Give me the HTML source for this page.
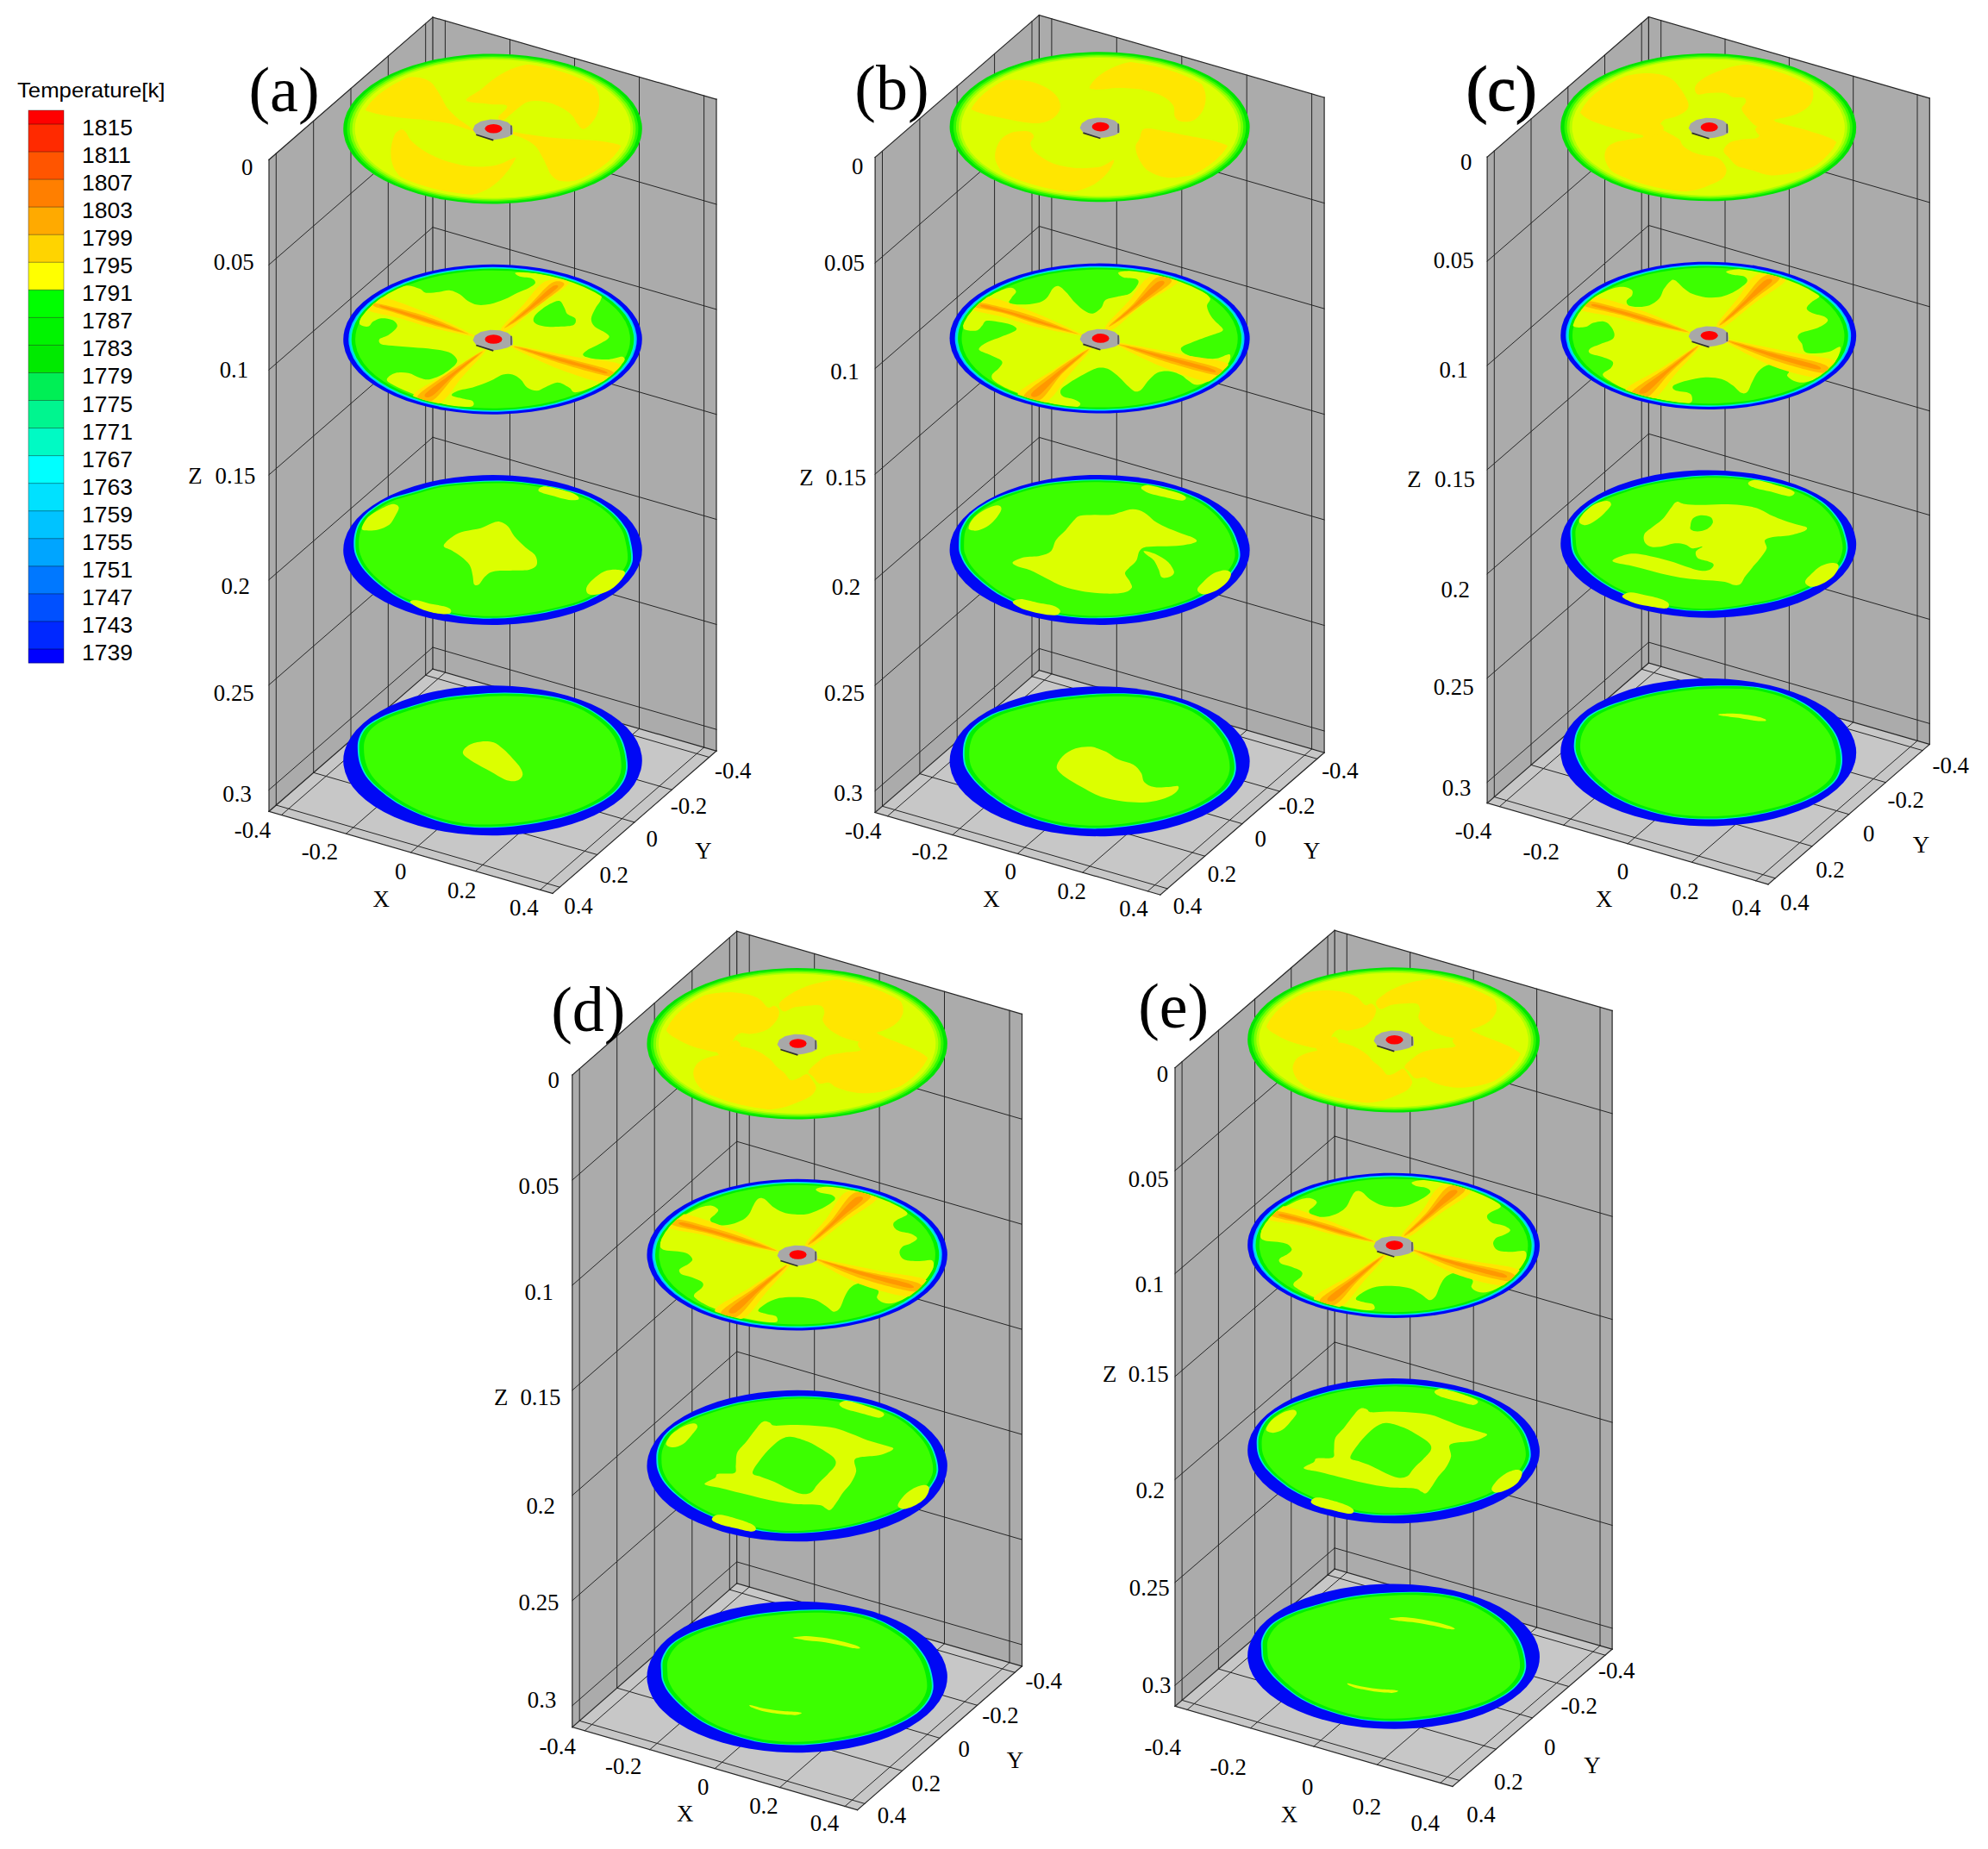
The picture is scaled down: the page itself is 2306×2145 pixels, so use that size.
<!DOCTYPE html>
<html><head><meta charset="utf-8"><title>Temperature contours</title>
<style>html,body{margin:0;padding:0;background:#fff}svg{display:block}</style>
</head><body>
<svg width="2306" height="2145" viewBox="0 0 2306 2145">
<defs><clipPath id="clip2"><circle r="0.371"/></clipPath><clipPath id="clip1"><circle r="0.356"/></clipPath></defs>
<rect width="2306" height="2145" fill="#fff"/>
<rect x="33.0" y="128.00" width="41.0" height="16.33" fill="#ff0000"/>
<rect x="33.0" y="144.03" width="41.0" height="32.35" fill="#ff2a00"/>
<rect x="33.0" y="176.07" width="41.0" height="32.35" fill="#ff5500"/>
<rect x="33.0" y="208.12" width="41.0" height="32.35" fill="#ff7f00"/>
<rect x="33.0" y="240.17" width="41.0" height="32.35" fill="#ffaa00"/>
<rect x="33.0" y="272.23" width="41.0" height="32.35" fill="#ffd400"/>
<rect x="33.0" y="304.27" width="41.0" height="32.35" fill="#ffff00"/>
<rect x="33.0" y="336.32" width="41.0" height="32.35" fill="#00ff00"/>
<rect x="33.0" y="368.38" width="41.0" height="32.35" fill="#00f400"/>
<rect x="33.0" y="400.42" width="41.0" height="32.35" fill="#00ea00"/>
<rect x="33.0" y="432.47" width="41.0" height="32.35" fill="#00ef55"/>
<rect x="33.0" y="464.52" width="41.0" height="32.35" fill="#00f58f"/>
<rect x="33.0" y="496.57" width="41.0" height="32.35" fill="#00fac4"/>
<rect x="33.0" y="528.62" width="41.0" height="32.35" fill="#00ffff"/>
<rect x="33.0" y="560.67" width="41.0" height="32.35" fill="#00e1ff"/>
<rect x="33.0" y="592.72" width="41.0" height="32.35" fill="#00c3ff"/>
<rect x="33.0" y="624.77" width="41.0" height="32.35" fill="#00a5ff"/>
<rect x="33.0" y="656.82" width="41.0" height="32.35" fill="#0078ff"/>
<rect x="33.0" y="688.88" width="41.0" height="32.35" fill="#0050ff"/>
<rect x="33.0" y="720.92" width="41.0" height="32.35" fill="#0028ff"/>
<rect x="33.0" y="752.97" width="41.0" height="16.33" fill="#0000ff"/>
<line x1="33.0" y1="144.03" x2="74.0" y2="144.03" stroke="#000" stroke-opacity="0.5" stroke-width="0.8"/>
<line x1="33.0" y1="176.07" x2="74.0" y2="176.07" stroke="#000" stroke-opacity="0.5" stroke-width="0.8"/>
<line x1="33.0" y1="208.12" x2="74.0" y2="208.12" stroke="#000" stroke-opacity="0.5" stroke-width="0.8"/>
<line x1="33.0" y1="240.17" x2="74.0" y2="240.17" stroke="#000" stroke-opacity="0.5" stroke-width="0.8"/>
<line x1="33.0" y1="272.23" x2="74.0" y2="272.23" stroke="#000" stroke-opacity="0.5" stroke-width="0.8"/>
<line x1="33.0" y1="304.27" x2="74.0" y2="304.27" stroke="#000" stroke-opacity="0.5" stroke-width="0.8"/>
<line x1="33.0" y1="336.32" x2="74.0" y2="336.32" stroke="#000" stroke-opacity="0.5" stroke-width="0.8"/>
<line x1="33.0" y1="368.38" x2="74.0" y2="368.38" stroke="#000" stroke-opacity="0.5" stroke-width="0.8"/>
<line x1="33.0" y1="400.42" x2="74.0" y2="400.42" stroke="#000" stroke-opacity="0.5" stroke-width="0.8"/>
<line x1="33.0" y1="432.47" x2="74.0" y2="432.47" stroke="#000" stroke-opacity="0.5" stroke-width="0.8"/>
<line x1="33.0" y1="464.52" x2="74.0" y2="464.52" stroke="#000" stroke-opacity="0.5" stroke-width="0.8"/>
<line x1="33.0" y1="496.57" x2="74.0" y2="496.57" stroke="#000" stroke-opacity="0.5" stroke-width="0.8"/>
<line x1="33.0" y1="528.62" x2="74.0" y2="528.62" stroke="#000" stroke-opacity="0.5" stroke-width="0.8"/>
<line x1="33.0" y1="560.67" x2="74.0" y2="560.67" stroke="#000" stroke-opacity="0.5" stroke-width="0.8"/>
<line x1="33.0" y1="592.72" x2="74.0" y2="592.72" stroke="#000" stroke-opacity="0.5" stroke-width="0.8"/>
<line x1="33.0" y1="624.77" x2="74.0" y2="624.77" stroke="#000" stroke-opacity="0.5" stroke-width="0.8"/>
<line x1="33.0" y1="656.82" x2="74.0" y2="656.82" stroke="#000" stroke-opacity="0.5" stroke-width="0.8"/>
<line x1="33.0" y1="688.88" x2="74.0" y2="688.88" stroke="#000" stroke-opacity="0.5" stroke-width="0.8"/>
<line x1="33.0" y1="720.92" x2="74.0" y2="720.92" stroke="#000" stroke-opacity="0.5" stroke-width="0.8"/>
<line x1="33.0" y1="752.97" x2="74.0" y2="752.97" stroke="#000" stroke-opacity="0.5" stroke-width="0.8"/>
<rect x="33.0" y="128.0" width="41.0" height="641.0" fill="none" stroke="#000" stroke-opacity="0.45" stroke-width="0.8"/>
<text x="95.0" y="157.0" font-size="26.5" text-anchor="start" font-family="'Liberation Sans', sans-serif" >1815</text>
<text x="95.0" y="189.1" font-size="26.5" text-anchor="start" font-family="'Liberation Sans', sans-serif" >1811</text>
<text x="95.0" y="221.1" font-size="26.5" text-anchor="start" font-family="'Liberation Sans', sans-serif" >1807</text>
<text x="95.0" y="253.1" font-size="26.5" text-anchor="start" font-family="'Liberation Sans', sans-serif" >1803</text>
<text x="95.0" y="285.2" font-size="26.5" text-anchor="start" font-family="'Liberation Sans', sans-serif" >1799</text>
<text x="95.0" y="317.2" font-size="26.5" text-anchor="start" font-family="'Liberation Sans', sans-serif" >1795</text>
<text x="95.0" y="349.3" font-size="26.5" text-anchor="start" font-family="'Liberation Sans', sans-serif" >1791</text>
<text x="95.0" y="381.3" font-size="26.5" text-anchor="start" font-family="'Liberation Sans', sans-serif" >1787</text>
<text x="95.0" y="413.4" font-size="26.5" text-anchor="start" font-family="'Liberation Sans', sans-serif" >1783</text>
<text x="95.0" y="445.4" font-size="26.5" text-anchor="start" font-family="'Liberation Sans', sans-serif" >1779</text>
<text x="95.0" y="477.5" font-size="26.5" text-anchor="start" font-family="'Liberation Sans', sans-serif" >1775</text>
<text x="95.0" y="509.5" font-size="26.5" text-anchor="start" font-family="'Liberation Sans', sans-serif" >1771</text>
<text x="95.0" y="541.6" font-size="26.5" text-anchor="start" font-family="'Liberation Sans', sans-serif" >1767</text>
<text x="95.0" y="573.6" font-size="26.5" text-anchor="start" font-family="'Liberation Sans', sans-serif" >1763</text>
<text x="95.0" y="605.7" font-size="26.5" text-anchor="start" font-family="'Liberation Sans', sans-serif" >1759</text>
<text x="95.0" y="637.8" font-size="26.5" text-anchor="start" font-family="'Liberation Sans', sans-serif" >1755</text>
<text x="95.0" y="669.8" font-size="26.5" text-anchor="start" font-family="'Liberation Sans', sans-serif" >1751</text>
<text x="95.0" y="701.8" font-size="26.5" text-anchor="start" font-family="'Liberation Sans', sans-serif" >1747</text>
<text x="95.0" y="733.9" font-size="26.5" text-anchor="start" font-family="'Liberation Sans', sans-serif" >1743</text>
<text x="95.0" y="765.9" font-size="26.5" text-anchor="start" font-family="'Liberation Sans', sans-serif" >1739</text>
<text x="20.0" y="113.4" font-size="23.6" text-anchor="start" font-family="'Liberation Sans', sans-serif" textLength="171.5" lengthAdjust="spacingAndGlyphs">Temperature[k]</text>
<!-- panel a -->
<polygon points="312.0,185.3 502.0,20.0 502.0,776.0 312.0,941.3" fill="#ababab"/>
<polygon points="502.0,20.0 831.0,115.2 831.0,871.2 502.0,776.0" fill="#ababab"/>
<polygon points="312.0,941.3 502.0,776.0 831.0,871.2 641.0,1036.5" fill="#c7c7c7"/>
<g stroke-linecap="square"><line x1="312.0" y1="185.3" x2="502.0" y2="20.0" stroke="#262626" stroke-width="1.2"/><line x1="502.0" y1="20.0" x2="831.0" y2="115.2" stroke="#262626" stroke-width="1.2"/><line x1="312.0" y1="185.3" x2="312.0" y2="941.3" stroke="#262626" stroke-width="1.2"/><line x1="502.0" y1="20.0" x2="502.0" y2="776.0" stroke="#262626" stroke-width="1.2"/><line x1="831.0" y1="115.2" x2="831.0" y2="871.2" stroke="#262626" stroke-width="1.2"/><line x1="312.0" y1="941.3" x2="502.0" y2="776.0" stroke="#262626" stroke-width="1.2"/><line x1="502.0" y1="776.0" x2="831.0" y2="871.2" stroke="#262626" stroke-width="1.2"/><line x1="312.0" y1="941.3" x2="641.0" y2="1036.5" stroke="#262626" stroke-width="1.2"/><line x1="641.0" y1="1036.5" x2="831.0" y2="871.2" stroke="#262626" stroke-width="1.2"/><line x1="493.7" y1="27.3" x2="493.7" y2="783.3" stroke="#262626" stroke-width="1.0"/><line x1="516.4" y1="24.2" x2="516.4" y2="780.2" stroke="#262626" stroke-width="1.0"/><line x1="516.4" y1="780.2" x2="326.4" y2="945.5" stroke="#262626" stroke-width="1.0"/><line x1="493.7" y1="783.3" x2="822.7" y2="878.5" stroke="#262626" stroke-width="1.0"/><line x1="450.3" y1="65.0" x2="450.3" y2="821.0" stroke="#262626" stroke-width="1.0"/><line x1="591.5" y1="45.9" x2="591.5" y2="801.9" stroke="#262626" stroke-width="1.0"/><line x1="591.5" y1="801.9" x2="401.5" y2="967.2" stroke="#262626" stroke-width="1.0"/><line x1="450.3" y1="821.0" x2="779.3" y2="916.2" stroke="#262626" stroke-width="1.0"/><line x1="407.0" y1="102.7" x2="407.0" y2="858.6" stroke="#262626" stroke-width="1.0"/><line x1="666.5" y1="67.6" x2="666.5" y2="823.6" stroke="#262626" stroke-width="1.0"/><line x1="666.5" y1="823.6" x2="476.5" y2="988.9" stroke="#262626" stroke-width="1.0"/><line x1="407.0" y1="858.6" x2="736.0" y2="953.9" stroke="#262626" stroke-width="1.0"/><line x1="363.7" y1="140.3" x2="363.7" y2="896.3" stroke="#262626" stroke-width="1.0"/><line x1="741.5" y1="89.3" x2="741.5" y2="845.3" stroke="#262626" stroke-width="1.0"/><line x1="741.5" y1="845.3" x2="551.5" y2="1010.6" stroke="#262626" stroke-width="1.0"/><line x1="363.7" y1="896.3" x2="692.7" y2="991.5" stroke="#262626" stroke-width="1.0"/><line x1="320.3" y1="178.0" x2="320.3" y2="934.0" stroke="#262626" stroke-width="1.0"/><line x1="816.6" y1="111.0" x2="816.6" y2="867.0" stroke="#262626" stroke-width="1.0"/><line x1="816.6" y1="867.0" x2="626.6" y2="1032.3" stroke="#262626" stroke-width="1.0"/><line x1="320.3" y1="934.0" x2="649.3" y2="1029.2" stroke="#262626" stroke-width="1.0"/><line x1="312.0" y1="307.1" x2="502.0" y2="141.8" stroke="#262626" stroke-width="1.0"/><line x1="502.0" y1="141.8" x2="831.0" y2="237.0" stroke="#262626" stroke-width="1.0"/><line x1="312.0" y1="429.0" x2="502.0" y2="263.7" stroke="#262626" stroke-width="1.0"/><line x1="502.0" y1="263.7" x2="831.0" y2="358.9" stroke="#262626" stroke-width="1.0"/><line x1="312.0" y1="550.8" x2="502.0" y2="385.5" stroke="#262626" stroke-width="1.0"/><line x1="502.0" y1="385.5" x2="831.0" y2="480.7" stroke="#262626" stroke-width="1.0"/><line x1="312.0" y1="672.6" x2="502.0" y2="507.3" stroke="#262626" stroke-width="1.0"/><line x1="502.0" y1="507.3" x2="831.0" y2="602.5" stroke="#262626" stroke-width="1.0"/><line x1="312.0" y1="794.5" x2="502.0" y2="629.2" stroke="#262626" stroke-width="1.0"/><line x1="502.0" y1="629.2" x2="831.0" y2="724.4" stroke="#262626" stroke-width="1.0"/><line x1="312.0" y1="916.3" x2="502.0" y2="751.0" stroke="#262626" stroke-width="1.0"/><line x1="502.0" y1="751.0" x2="831.0" y2="846.2" stroke="#262626" stroke-width="1.0"/></g>
<g transform="matrix(375.143 108.552 -216.648 188.483 571.50 882.30)">
<circle r="0.4" fill="#0008f5"/>
<path d="M-0.332 0.139C-0.344 0.119 -0.356 0.100 -0.364 0.079C-0.372 0.057 -0.380 0.033 -0.380 0.009C-0.380 -0.016 -0.373 -0.044 -0.365 -0.069C-0.356 -0.095 -0.342 -0.120 -0.329 -0.144C-0.316 -0.168 -0.303 -0.192 -0.285 -0.214C-0.267 -0.236 -0.243 -0.257 -0.221 -0.275C-0.199 -0.294 -0.176 -0.311 -0.151 -0.326C-0.126 -0.340 -0.098 -0.353 -0.072 -0.361C-0.046 -0.369 -0.021 -0.375 0.004 -0.375C0.029 -0.376 0.054 -0.372 0.080 -0.365C0.105 -0.357 0.134 -0.345 0.159 -0.331C0.183 -0.317 0.206 -0.301 0.227 -0.281C0.247 -0.262 0.265 -0.239 0.283 -0.215C0.300 -0.191 0.321 -0.161 0.333 -0.136C0.346 -0.110 0.354 -0.086 0.359 -0.061C0.364 -0.036 0.366 -0.011 0.363 0.015C0.361 0.041 0.354 0.069 0.345 0.095C0.336 0.121 0.324 0.145 0.309 0.170C0.293 0.194 0.272 0.221 0.252 0.242C0.231 0.264 0.209 0.284 0.186 0.300C0.162 0.316 0.136 0.331 0.109 0.339C0.082 0.347 0.054 0.349 0.025 0.348C-0.005 0.347 -0.039 0.341 -0.068 0.333C-0.098 0.325 -0.123 0.315 -0.151 0.301C-0.179 0.288 -0.211 0.269 -0.235 0.251C-0.258 0.233 -0.276 0.214 -0.292 0.195C-0.308 0.176 -0.320 0.158 -0.332 0.139Z" fill="#00f0d0" transform="scale(1.012)"/>
<path d="M-0.332 0.139C-0.344 0.119 -0.356 0.100 -0.364 0.079C-0.372 0.057 -0.380 0.033 -0.380 0.009C-0.380 -0.016 -0.373 -0.044 -0.365 -0.069C-0.356 -0.095 -0.342 -0.120 -0.329 -0.144C-0.316 -0.168 -0.303 -0.192 -0.285 -0.214C-0.267 -0.236 -0.243 -0.257 -0.221 -0.275C-0.199 -0.294 -0.176 -0.311 -0.151 -0.326C-0.126 -0.340 -0.098 -0.353 -0.072 -0.361C-0.046 -0.369 -0.021 -0.375 0.004 -0.375C0.029 -0.376 0.054 -0.372 0.080 -0.365C0.105 -0.357 0.134 -0.345 0.159 -0.331C0.183 -0.317 0.206 -0.301 0.227 -0.281C0.247 -0.262 0.265 -0.239 0.283 -0.215C0.300 -0.191 0.321 -0.161 0.333 -0.136C0.346 -0.110 0.354 -0.086 0.359 -0.061C0.364 -0.036 0.366 -0.011 0.363 0.015C0.361 0.041 0.354 0.069 0.345 0.095C0.336 0.121 0.324 0.145 0.309 0.170C0.293 0.194 0.272 0.221 0.252 0.242C0.231 0.264 0.209 0.284 0.186 0.300C0.162 0.316 0.136 0.331 0.109 0.339C0.082 0.347 0.054 0.349 0.025 0.348C-0.005 0.347 -0.039 0.341 -0.068 0.333C-0.098 0.325 -0.123 0.315 -0.151 0.301C-0.179 0.288 -0.211 0.269 -0.235 0.251C-0.258 0.233 -0.276 0.214 -0.292 0.195C-0.308 0.176 -0.320 0.158 -0.332 0.139Z" fill="#00f000" />
<path d="M-0.332 0.139C-0.344 0.119 -0.356 0.100 -0.364 0.079C-0.372 0.057 -0.380 0.033 -0.380 0.009C-0.380 -0.016 -0.373 -0.044 -0.365 -0.069C-0.356 -0.095 -0.342 -0.120 -0.329 -0.144C-0.316 -0.168 -0.303 -0.192 -0.285 -0.214C-0.267 -0.236 -0.243 -0.257 -0.221 -0.275C-0.199 -0.294 -0.176 -0.311 -0.151 -0.326C-0.126 -0.340 -0.098 -0.353 -0.072 -0.361C-0.046 -0.369 -0.021 -0.375 0.004 -0.375C0.029 -0.376 0.054 -0.372 0.080 -0.365C0.105 -0.357 0.134 -0.345 0.159 -0.331C0.183 -0.317 0.206 -0.301 0.227 -0.281C0.247 -0.262 0.265 -0.239 0.283 -0.215C0.300 -0.191 0.321 -0.161 0.333 -0.136C0.346 -0.110 0.354 -0.086 0.359 -0.061C0.364 -0.036 0.366 -0.011 0.363 0.015C0.361 0.041 0.354 0.069 0.345 0.095C0.336 0.121 0.324 0.145 0.309 0.170C0.293 0.194 0.272 0.221 0.252 0.242C0.231 0.264 0.209 0.284 0.186 0.300C0.162 0.316 0.136 0.331 0.109 0.339C0.082 0.347 0.054 0.349 0.025 0.348C-0.005 0.347 -0.039 0.341 -0.068 0.333C-0.098 0.325 -0.123 0.315 -0.151 0.301C-0.179 0.288 -0.211 0.269 -0.235 0.251C-0.258 0.233 -0.276 0.214 -0.292 0.195C-0.308 0.176 -0.320 0.158 -0.332 0.139Z" fill="#3cff00" transform="scale(0.965)"/>
<path d="M-0.087 0.008C-0.097 -0.004 -0.099 -0.022 -0.097 -0.035C-0.096 -0.049 -0.087 -0.063 -0.078 -0.071C-0.070 -0.079 -0.058 -0.085 -0.046 -0.085C-0.035 -0.084 -0.022 -0.076 -0.007 -0.068C0.008 -0.060 0.026 -0.047 0.041 -0.036C0.056 -0.025 0.074 -0.014 0.085 -0.002C0.097 0.009 0.107 0.021 0.110 0.032C0.114 0.043 0.114 0.057 0.108 0.063C0.103 0.070 0.092 0.073 0.078 0.071C0.064 0.069 0.042 0.059 0.023 0.053C0.004 0.047 -0.019 0.041 -0.038 0.034C-0.056 0.026 -0.077 0.020 -0.087 0.008Z" fill="#dcff00" />
</g>
<g transform="matrix(375.143 108.552 -216.648 188.483 571.50 638.00)">
<circle r="0.4" fill="#0008f5"/>
<path d="M-0.343 0.141C-0.355 0.119 -0.366 0.094 -0.374 0.070C-0.381 0.047 -0.385 0.025 -0.386 -0.002C-0.386 -0.028 -0.383 -0.061 -0.375 -0.087C-0.367 -0.113 -0.351 -0.134 -0.337 -0.158C-0.323 -0.182 -0.311 -0.207 -0.293 -0.228C-0.275 -0.249 -0.250 -0.268 -0.227 -0.286C-0.204 -0.303 -0.181 -0.320 -0.155 -0.332C-0.129 -0.345 -0.101 -0.353 -0.072 -0.360C-0.043 -0.367 -0.009 -0.373 0.020 -0.373C0.048 -0.374 0.073 -0.372 0.099 -0.365C0.126 -0.357 0.155 -0.343 0.180 -0.328C0.206 -0.312 0.232 -0.291 0.253 -0.271C0.274 -0.250 0.290 -0.226 0.307 -0.203C0.323 -0.180 0.341 -0.154 0.352 -0.130C0.362 -0.106 0.366 -0.086 0.369 -0.061C0.372 -0.036 0.373 -0.010 0.370 0.018C0.367 0.046 0.361 0.080 0.352 0.107C0.343 0.134 0.330 0.154 0.314 0.178C0.298 0.202 0.277 0.229 0.256 0.251C0.236 0.272 0.215 0.293 0.190 0.308C0.166 0.324 0.140 0.336 0.112 0.344C0.083 0.352 0.050 0.356 0.020 0.357C-0.010 0.358 -0.040 0.356 -0.069 0.349C-0.097 0.343 -0.124 0.331 -0.151 0.318C-0.179 0.304 -0.210 0.286 -0.235 0.267C-0.260 0.249 -0.282 0.227 -0.300 0.206C-0.318 0.185 -0.330 0.164 -0.343 0.141Z" fill="#00f0d0" transform="scale(1.012)"/>
<path d="M-0.343 0.141C-0.355 0.119 -0.366 0.094 -0.374 0.070C-0.381 0.047 -0.385 0.025 -0.386 -0.002C-0.386 -0.028 -0.383 -0.061 -0.375 -0.087C-0.367 -0.113 -0.351 -0.134 -0.337 -0.158C-0.323 -0.182 -0.311 -0.207 -0.293 -0.228C-0.275 -0.249 -0.250 -0.268 -0.227 -0.286C-0.204 -0.303 -0.181 -0.320 -0.155 -0.332C-0.129 -0.345 -0.101 -0.353 -0.072 -0.360C-0.043 -0.367 -0.009 -0.373 0.020 -0.373C0.048 -0.374 0.073 -0.372 0.099 -0.365C0.126 -0.357 0.155 -0.343 0.180 -0.328C0.206 -0.312 0.232 -0.291 0.253 -0.271C0.274 -0.250 0.290 -0.226 0.307 -0.203C0.323 -0.180 0.341 -0.154 0.352 -0.130C0.362 -0.106 0.366 -0.086 0.369 -0.061C0.372 -0.036 0.373 -0.010 0.370 0.018C0.367 0.046 0.361 0.080 0.352 0.107C0.343 0.134 0.330 0.154 0.314 0.178C0.298 0.202 0.277 0.229 0.256 0.251C0.236 0.272 0.215 0.293 0.190 0.308C0.166 0.324 0.140 0.336 0.112 0.344C0.083 0.352 0.050 0.356 0.020 0.357C-0.010 0.358 -0.040 0.356 -0.069 0.349C-0.097 0.343 -0.124 0.331 -0.151 0.318C-0.179 0.304 -0.210 0.286 -0.235 0.267C-0.260 0.249 -0.282 0.227 -0.300 0.206C-0.318 0.185 -0.330 0.164 -0.343 0.141Z" fill="#00f000" />
<path d="M-0.343 0.141C-0.355 0.119 -0.366 0.094 -0.374 0.070C-0.381 0.047 -0.385 0.025 -0.386 -0.002C-0.386 -0.028 -0.383 -0.061 -0.375 -0.087C-0.367 -0.113 -0.351 -0.134 -0.337 -0.158C-0.323 -0.182 -0.311 -0.207 -0.293 -0.228C-0.275 -0.249 -0.250 -0.268 -0.227 -0.286C-0.204 -0.303 -0.181 -0.320 -0.155 -0.332C-0.129 -0.345 -0.101 -0.353 -0.072 -0.360C-0.043 -0.367 -0.009 -0.373 0.020 -0.373C0.048 -0.374 0.073 -0.372 0.099 -0.365C0.126 -0.357 0.155 -0.343 0.180 -0.328C0.206 -0.312 0.232 -0.291 0.253 -0.271C0.274 -0.250 0.290 -0.226 0.307 -0.203C0.323 -0.180 0.341 -0.154 0.352 -0.130C0.362 -0.106 0.366 -0.086 0.369 -0.061C0.372 -0.036 0.373 -0.010 0.370 0.018C0.367 0.046 0.361 0.080 0.352 0.107C0.343 0.134 0.330 0.154 0.314 0.178C0.298 0.202 0.277 0.229 0.256 0.251C0.236 0.272 0.215 0.293 0.190 0.308C0.166 0.324 0.140 0.336 0.112 0.344C0.083 0.352 0.050 0.356 0.020 0.357C-0.010 0.358 -0.040 0.356 -0.069 0.349C-0.097 0.343 -0.124 0.331 -0.151 0.318C-0.179 0.304 -0.210 0.286 -0.235 0.267C-0.260 0.249 -0.282 0.227 -0.300 0.206C-0.318 0.185 -0.330 0.164 -0.343 0.141Z" fill="#3cff00" transform="scale(0.975)"/>
<path d="M-0.125 0.046C-0.131 0.034 -0.130 0.004 -0.128 -0.012C-0.127 -0.027 -0.122 -0.037 -0.115 -0.049C-0.108 -0.061 -0.093 -0.073 -0.086 -0.085C-0.079 -0.097 -0.078 -0.113 -0.073 -0.122C-0.069 -0.132 -0.067 -0.139 -0.059 -0.140C-0.051 -0.142 -0.039 -0.137 -0.027 -0.129C-0.015 -0.121 -0.003 -0.105 0.013 -0.093C0.029 -0.081 0.053 -0.066 0.069 -0.056C0.086 -0.046 0.101 -0.043 0.113 -0.032C0.125 -0.021 0.138 -0.002 0.142 0.010C0.146 0.023 0.143 0.034 0.137 0.043C0.130 0.053 0.114 0.059 0.101 0.068C0.088 0.078 0.067 0.087 0.059 0.098C0.051 0.108 0.053 0.118 0.053 0.131C0.053 0.144 0.060 0.168 0.060 0.176C0.059 0.185 0.055 0.189 0.048 0.183C0.042 0.177 0.029 0.154 0.019 0.141C0.009 0.127 -0.002 0.111 -0.014 0.100C-0.026 0.089 -0.041 0.081 -0.054 0.074C-0.067 0.067 -0.082 0.062 -0.094 0.057C-0.105 0.053 -0.119 0.057 -0.125 0.046Z" fill="#dcff00" />
<path d="M-0.362 0.074C-0.367 0.063 -0.376 0.032 -0.377 0.013C-0.378 -0.006 -0.372 -0.026 -0.369 -0.041C-0.365 -0.056 -0.361 -0.073 -0.355 -0.078C-0.349 -0.083 -0.338 -0.080 -0.332 -0.072C-0.326 -0.064 -0.322 -0.046 -0.318 -0.031C-0.314 -0.015 -0.307 0.007 -0.307 0.022C-0.308 0.037 -0.314 0.050 -0.320 0.060C-0.327 0.069 -0.337 0.076 -0.344 0.078C-0.351 0.081 -0.356 0.084 -0.362 0.074Z" fill="#dcff00" />
<path d="M-0.055 -0.340C-0.057 -0.346 -0.057 -0.358 -0.049 -0.363C-0.040 -0.368 -0.018 -0.369 -0.003 -0.370C0.012 -0.371 0.032 -0.371 0.043 -0.367C0.054 -0.364 0.064 -0.355 0.064 -0.349C0.064 -0.343 0.055 -0.336 0.043 -0.333C0.032 -0.329 0.009 -0.330 -0.004 -0.330C-0.018 -0.329 -0.031 -0.328 -0.039 -0.330C-0.048 -0.331 -0.053 -0.334 -0.055 -0.340Z" fill="#dcff00" />
<path d="M0.318 0.048C0.313 0.035 0.311 0.018 0.311 0.002C0.311 -0.014 0.311 -0.037 0.316 -0.050C0.321 -0.063 0.333 -0.071 0.341 -0.075C0.350 -0.079 0.360 -0.082 0.366 -0.074C0.373 -0.066 0.377 -0.045 0.379 -0.027C0.381 -0.009 0.382 0.017 0.378 0.032C0.375 0.048 0.366 0.061 0.359 0.068C0.353 0.075 0.345 0.079 0.338 0.075C0.332 0.072 0.322 0.060 0.318 0.048Z" fill="#dcff00" />
<path d="M-0.053 0.350C-0.058 0.345 -0.051 0.337 -0.043 0.334C-0.035 0.331 -0.018 0.333 -0.004 0.332C0.010 0.330 0.030 0.325 0.041 0.325C0.053 0.325 0.058 0.328 0.063 0.333C0.067 0.337 0.073 0.348 0.068 0.354C0.064 0.360 0.050 0.366 0.036 0.368C0.022 0.370 0.001 0.370 -0.014 0.367C-0.029 0.364 -0.049 0.356 -0.053 0.350Z" fill="#dcff00" />
</g>
<g transform="matrix(375.143 108.552 -216.648 188.483 571.50 393.70)">
<circle r="0.4" fill="#0008f5"/>
<circle r="0.386" fill="#00c8ff"/>
<circle r="0.382" fill="#00f0d0"/>
<circle r="0.378" fill="#00f000"/>
<circle r="0.368" fill="#3cff00"/>
<g clip-path="url(#clip2)">
<path d="M-0.363 0.080C-0.369 0.066 -0.380 0.041 -0.384 0.023C-0.387 0.005 -0.387 -0.007 -0.385 -0.026C-0.382 -0.044 -0.378 -0.070 -0.371 -0.088C-0.364 -0.106 -0.354 -0.126 -0.343 -0.134C-0.332 -0.142 -0.315 -0.137 -0.304 -0.136C-0.294 -0.135 -0.288 -0.124 -0.279 -0.126C-0.270 -0.128 -0.259 -0.140 -0.251 -0.147C-0.243 -0.154 -0.239 -0.167 -0.229 -0.169C-0.220 -0.172 -0.208 -0.168 -0.196 -0.164C-0.185 -0.160 -0.172 -0.149 -0.161 -0.145C-0.149 -0.141 -0.138 -0.137 -0.128 -0.139C-0.117 -0.142 -0.108 -0.150 -0.100 -0.160C-0.092 -0.170 -0.085 -0.187 -0.079 -0.202C-0.074 -0.216 -0.071 -0.234 -0.067 -0.248C-0.062 -0.262 -0.056 -0.274 -0.053 -0.286C-0.051 -0.297 -0.048 -0.308 -0.051 -0.316C-0.054 -0.324 -0.063 -0.333 -0.072 -0.334C-0.080 -0.336 -0.093 -0.326 -0.102 -0.327C-0.111 -0.327 -0.129 -0.333 -0.124 -0.339C-0.119 -0.345 -0.093 -0.357 -0.073 -0.363C-0.053 -0.369 -0.026 -0.372 -0.005 -0.373C0.017 -0.374 0.035 -0.373 0.057 -0.369C0.079 -0.365 0.113 -0.357 0.128 -0.350C0.142 -0.344 0.140 -0.341 0.144 -0.330C0.149 -0.320 0.150 -0.304 0.154 -0.287C0.159 -0.270 0.165 -0.244 0.173 -0.228C0.181 -0.213 0.190 -0.204 0.202 -0.196C0.214 -0.188 0.235 -0.186 0.245 -0.181C0.256 -0.176 0.263 -0.173 0.265 -0.163C0.268 -0.153 0.263 -0.135 0.260 -0.121C0.257 -0.106 0.249 -0.086 0.248 -0.074C0.246 -0.062 0.247 -0.052 0.253 -0.047C0.259 -0.042 0.272 -0.043 0.284 -0.045C0.296 -0.048 0.312 -0.055 0.323 -0.063C0.334 -0.071 0.342 -0.096 0.350 -0.093C0.358 -0.091 0.370 -0.072 0.372 -0.047C0.375 -0.022 0.373 0.025 0.367 0.055C0.361 0.085 0.347 0.121 0.336 0.132C0.326 0.143 0.317 0.123 0.305 0.120C0.293 0.117 0.275 0.108 0.266 0.113C0.257 0.118 0.254 0.142 0.249 0.152C0.245 0.163 0.246 0.174 0.239 0.178C0.232 0.182 0.219 0.181 0.208 0.176C0.197 0.171 0.183 0.154 0.172 0.148C0.161 0.141 0.149 0.136 0.140 0.136C0.132 0.136 0.124 0.139 0.118 0.149C0.112 0.159 0.112 0.179 0.105 0.196C0.099 0.212 0.090 0.234 0.082 0.249C0.074 0.263 0.061 0.272 0.057 0.283C0.052 0.294 0.049 0.309 0.055 0.314C0.060 0.319 0.079 0.314 0.089 0.314C0.100 0.313 0.111 0.308 0.118 0.312C0.125 0.316 0.137 0.332 0.129 0.340C0.122 0.348 0.094 0.359 0.073 0.363C0.052 0.366 0.027 0.364 0.004 0.363C-0.020 0.361 -0.045 0.358 -0.066 0.354C-0.088 0.350 -0.112 0.344 -0.125 0.338C-0.137 0.332 -0.140 0.327 -0.141 0.318C-0.143 0.309 -0.142 0.293 -0.136 0.285C-0.130 0.277 -0.117 0.270 -0.106 0.268C-0.094 0.266 -0.078 0.275 -0.067 0.275C-0.056 0.276 -0.048 0.277 -0.040 0.270C-0.033 0.262 -0.027 0.247 -0.023 0.230C-0.020 0.214 -0.018 0.184 -0.019 0.169C-0.021 0.153 -0.024 0.145 -0.033 0.137C-0.041 0.129 -0.055 0.120 -0.068 0.118C-0.082 0.116 -0.098 0.121 -0.114 0.125C-0.130 0.129 -0.146 0.137 -0.163 0.143C-0.180 0.149 -0.202 0.159 -0.216 0.163C-0.230 0.168 -0.238 0.173 -0.246 0.171C-0.254 0.169 -0.261 0.160 -0.263 0.151C-0.264 0.142 -0.254 0.130 -0.253 0.116C-0.252 0.102 -0.251 0.080 -0.256 0.068C-0.261 0.056 -0.274 0.048 -0.284 0.045C-0.294 0.042 -0.308 0.047 -0.315 0.052C-0.321 0.058 -0.323 0.069 -0.325 0.078C-0.326 0.087 -0.319 0.101 -0.323 0.107C-0.327 0.112 -0.339 0.114 -0.346 0.110C-0.353 0.106 -0.357 0.095 -0.363 0.080Z" fill="#dcff00" />
<path d="M0.039 -0.151C0.035 -0.161 0.033 -0.173 0.033 -0.187C0.033 -0.202 0.035 -0.226 0.038 -0.239C0.041 -0.253 0.045 -0.266 0.052 -0.267C0.059 -0.268 0.071 -0.252 0.080 -0.244C0.089 -0.236 0.095 -0.225 0.104 -0.218C0.114 -0.212 0.128 -0.214 0.136 -0.207C0.143 -0.200 0.151 -0.185 0.149 -0.175C0.147 -0.166 0.134 -0.158 0.124 -0.151C0.113 -0.143 0.098 -0.132 0.087 -0.129C0.075 -0.126 0.064 -0.127 0.056 -0.131C0.048 -0.135 0.043 -0.142 0.039 -0.151Z" fill="#3cff00" />
<path d="M-0.060 0.004C-0.085 -0.003 -0.153 -0.022 -0.204 -0.031C-0.255 -0.040 -0.333 -0.052 -0.363 -0.048C-0.393 -0.044 -0.383 -0.020 -0.383 -0.007C-0.384 0.007 -0.385 0.027 -0.366 0.033C-0.347 0.038 -0.303 0.027 -0.270 0.027C-0.237 0.026 -0.206 0.031 -0.170 0.028C-0.134 0.026 -0.073 0.017 -0.054 0.013C-0.036 0.009 -0.035 0.012 -0.060 0.004Z" fill="#ffe600" />
<path d="M-0.010 -0.064C-0.016 -0.087 -0.018 -0.160 -0.022 -0.205C-0.026 -0.250 -0.041 -0.311 -0.033 -0.337C-0.025 -0.363 0.019 -0.383 0.027 -0.361C0.035 -0.340 0.019 -0.256 0.017 -0.207C0.014 -0.158 0.018 -0.091 0.013 -0.067C0.009 -0.043 -0.004 -0.041 -0.010 -0.064Z" fill="#ffe600" />
<path d="M0.061 -0.001C0.090 -0.008 0.191 -0.022 0.242 -0.031C0.293 -0.040 0.344 -0.067 0.368 -0.054C0.392 -0.042 0.407 0.027 0.385 0.044C0.364 0.062 0.292 0.055 0.239 0.049C0.187 0.044 0.098 0.020 0.069 0.012C0.039 0.003 0.032 0.006 0.061 -0.001Z" fill="#ffe600" />
<path d="M0.006 0.066C0.000 0.089 -0.010 0.167 -0.016 0.217C-0.023 0.266 -0.045 0.340 -0.035 0.365C-0.024 0.391 0.036 0.394 0.046 0.368C0.057 0.342 0.034 0.259 0.029 0.210C0.024 0.161 0.020 0.098 0.016 0.074C0.012 0.050 0.011 0.042 0.006 0.066Z" fill="#ffe600" />
<path d="M-0.085 0.004C-0.104 -0.000 -0.160 -0.013 -0.195 -0.016C-0.231 -0.020 -0.267 -0.018 -0.296 -0.018C-0.324 -0.017 -0.355 -0.015 -0.366 -0.011C-0.377 -0.008 -0.376 0.002 -0.362 0.006C-0.347 0.009 -0.311 0.007 -0.281 0.008C-0.250 0.010 -0.211 0.013 -0.178 0.014C-0.145 0.014 -0.097 0.011 -0.082 0.009C-0.066 0.008 -0.066 0.008 -0.085 0.004Z" fill="#ffb800" />
<path d="M-0.005 -0.081C-0.006 -0.103 -0.005 -0.161 -0.006 -0.204C-0.008 -0.247 -0.018 -0.314 -0.014 -0.338C-0.010 -0.362 0.015 -0.363 0.020 -0.348C0.025 -0.333 0.020 -0.283 0.018 -0.248C0.016 -0.212 0.012 -0.162 0.009 -0.134C0.006 -0.106 0.002 -0.086 -0.000 -0.077C-0.003 -0.068 -0.004 -0.060 -0.005 -0.081Z" fill="#ffb800" />
<path d="M0.082 -0.000C0.101 -0.003 0.160 -0.007 0.205 -0.010C0.250 -0.012 0.324 -0.019 0.351 -0.015C0.378 -0.011 0.390 0.009 0.368 0.015C0.347 0.021 0.269 0.021 0.222 0.020C0.175 0.019 0.110 0.012 0.087 0.009C0.063 0.006 0.062 0.003 0.082 -0.000Z" fill="#ffb800" />
<path d="M0.005 0.081C0.000 0.102 -0.008 0.168 -0.013 0.214C-0.017 0.261 -0.029 0.334 -0.024 0.359C-0.018 0.383 0.017 0.385 0.023 0.362C0.029 0.339 0.013 0.266 0.011 0.221C0.009 0.175 0.012 0.111 0.011 0.088C0.010 0.065 0.009 0.060 0.005 0.081Z" fill="#ffb800" />
<path d="M-0.105 0.004C-0.121 0.002 -0.170 -0.005 -0.201 -0.007C-0.231 -0.009 -0.262 -0.009 -0.287 -0.009C-0.311 -0.010 -0.338 -0.009 -0.347 -0.008C-0.357 -0.006 -0.355 -0.002 -0.343 -0.000C-0.331 0.002 -0.300 0.001 -0.273 0.003C-0.247 0.004 -0.214 0.006 -0.185 0.007C-0.157 0.007 -0.116 0.007 -0.102 0.006C-0.089 0.006 -0.089 0.006 -0.105 0.004Z" fill="#ff9800" />
<path d="M-0.002 -0.099C-0.002 -0.117 -0.001 -0.167 -0.001 -0.204C-0.001 -0.241 -0.006 -0.298 -0.003 -0.319C-0.001 -0.340 0.010 -0.340 0.012 -0.328C0.014 -0.315 0.011 -0.272 0.010 -0.242C0.009 -0.211 0.007 -0.168 0.005 -0.144C0.004 -0.119 0.001 -0.102 0.000 -0.095C-0.001 -0.087 -0.001 -0.080 -0.002 -0.099Z" fill="#ff9800" />
<path d="M0.101 0.002C0.118 0.001 0.169 -0.001 0.207 -0.003C0.246 -0.004 0.309 -0.007 0.333 -0.005C0.356 -0.004 0.366 0.005 0.347 0.008C0.329 0.010 0.262 0.011 0.222 0.011C0.181 0.010 0.126 0.008 0.105 0.006C0.085 0.005 0.084 0.004 0.101 0.002Z" fill="#ff9800" />
<path d="M0.005 0.101C0.003 0.119 -0.002 0.176 -0.004 0.215C-0.007 0.255 -0.013 0.319 -0.011 0.340C-0.009 0.361 0.007 0.362 0.010 0.342C0.013 0.322 0.006 0.260 0.006 0.221C0.006 0.181 0.008 0.126 0.008 0.106C0.008 0.086 0.007 0.082 0.005 0.101Z" fill="#ff9800" />
</g>
</g>
<polygon points="548.5,394.8 550.8,389.3 557.8,385.0 568.8,382.8 579.8,383.3 588.8,386.1 594.3,390.8 595.0,396.3 594.6,400.3 588.8,403.3 579.8,405.6 572.3,406.5 563.8,404.1 552.3,400.1" fill="#a8a8a8"/>
<path d="M552.3 400.5 L572.3 406.9" stroke="#2e2e2e" stroke-width="1.7" fill="none"/>
<path d="M593.0 389.8 L593.0 400.3" stroke="#3a3a3a" stroke-width="1.2" fill="none"/>
<ellipse cx="572.5" cy="393.5" rx="10" ry="5.3" fill="#ff0000"/>
<g transform="matrix(375.143 108.552 -216.648 188.483 571.50 149.40)">
<circle r="0.4" fill="#00e400"/>
<circle r="0.39" fill="#30f800"/>
<circle r="0.383" fill="#78ff00"/>
<circle r="0.376" fill="#b4ff00"/>
<circle r="0.369" fill="#dcff00"/>
<g clip-path="url(#clip1)">
<path d="M-0.046 0.028C-0.057 0.021 -0.088 0.010 -0.108 -0.001C-0.127 -0.012 -0.145 -0.023 -0.164 -0.038C-0.182 -0.054 -0.203 -0.079 -0.221 -0.094C-0.238 -0.110 -0.253 -0.124 -0.267 -0.132C-0.281 -0.139 -0.293 -0.141 -0.306 -0.139C-0.319 -0.136 -0.332 -0.130 -0.343 -0.117C-0.354 -0.105 -0.366 -0.085 -0.373 -0.066C-0.380 -0.046 -0.384 -0.020 -0.384 0.000C-0.385 0.020 -0.379 0.040 -0.374 0.053C-0.369 0.067 -0.365 0.076 -0.355 0.082C-0.344 0.087 -0.329 0.087 -0.310 0.086C-0.292 0.084 -0.266 0.078 -0.244 0.072C-0.222 0.066 -0.199 0.055 -0.178 0.049C-0.157 0.043 -0.140 0.036 -0.117 0.034C-0.094 0.032 -0.052 0.038 -0.041 0.037C-0.029 0.036 -0.035 0.034 -0.046 0.028Z" fill="#ffe600" />
<path d="M0.055 -0.013C0.061 -0.016 0.081 -0.017 0.099 -0.022C0.117 -0.026 0.143 -0.032 0.163 -0.039C0.184 -0.046 0.204 -0.055 0.224 -0.064C0.244 -0.072 0.263 -0.083 0.284 -0.088C0.304 -0.093 0.331 -0.098 0.345 -0.094C0.359 -0.090 0.363 -0.077 0.368 -0.063C0.373 -0.048 0.375 -0.027 0.375 -0.008C0.375 0.012 0.371 0.032 0.365 0.052C0.359 0.073 0.349 0.101 0.338 0.117C0.327 0.134 0.311 0.148 0.298 0.150C0.284 0.153 0.271 0.143 0.258 0.134C0.245 0.125 0.234 0.108 0.221 0.096C0.209 0.083 0.197 0.070 0.184 0.058C0.172 0.045 0.157 0.030 0.144 0.022C0.131 0.013 0.118 0.009 0.104 0.005C0.091 0.001 0.069 0.001 0.061 -0.002C0.053 -0.005 0.048 -0.009 0.055 -0.013Z" fill="#ffe600" />
<path d="M-0.137 -0.095C-0.146 -0.104 -0.134 -0.140 -0.132 -0.165C-0.131 -0.190 -0.133 -0.220 -0.129 -0.245C-0.126 -0.271 -0.121 -0.296 -0.110 -0.316C-0.100 -0.335 -0.085 -0.352 -0.069 -0.364C-0.053 -0.377 -0.034 -0.387 -0.015 -0.390C0.005 -0.394 0.028 -0.391 0.049 -0.383C0.070 -0.375 0.092 -0.361 0.111 -0.344C0.130 -0.328 0.150 -0.308 0.164 -0.286C0.179 -0.265 0.191 -0.239 0.199 -0.218C0.208 -0.196 0.212 -0.173 0.214 -0.157C0.216 -0.141 0.216 -0.124 0.211 -0.120C0.205 -0.117 0.191 -0.130 0.181 -0.138C0.170 -0.146 0.162 -0.160 0.148 -0.168C0.135 -0.177 0.117 -0.186 0.101 -0.190C0.084 -0.195 0.063 -0.198 0.049 -0.195C0.034 -0.192 0.019 -0.184 0.011 -0.173C0.004 -0.163 0.005 -0.149 0.004 -0.135C0.003 -0.120 0.004 -0.098 0.003 -0.085C0.003 -0.071 0.005 -0.058 0.001 -0.054C-0.003 -0.050 -0.015 -0.053 -0.019 -0.062C-0.022 -0.072 -0.019 -0.099 -0.022 -0.110C-0.024 -0.121 -0.027 -0.127 -0.036 -0.127C-0.045 -0.126 -0.058 -0.114 -0.075 -0.109C-0.092 -0.104 -0.127 -0.086 -0.137 -0.095Z" fill="#ffe600" />
<path d="M0.128 0.105C0.123 0.112 0.118 0.146 0.106 0.162C0.094 0.178 0.074 0.193 0.054 0.202C0.034 0.210 0.010 0.212 -0.014 0.212C-0.039 0.211 -0.069 0.205 -0.092 0.197C-0.116 0.189 -0.138 0.176 -0.156 0.165C-0.173 0.153 -0.187 0.135 -0.196 0.129C-0.205 0.123 -0.209 0.122 -0.212 0.128C-0.214 0.134 -0.216 0.147 -0.209 0.166C-0.203 0.185 -0.188 0.220 -0.174 0.244C-0.160 0.269 -0.142 0.295 -0.124 0.314C-0.105 0.333 -0.086 0.348 -0.064 0.358C-0.041 0.369 -0.013 0.374 0.011 0.375C0.034 0.376 0.056 0.374 0.076 0.367C0.095 0.360 0.117 0.347 0.129 0.331C0.142 0.316 0.147 0.297 0.151 0.274C0.154 0.252 0.153 0.222 0.150 0.196C0.148 0.170 0.140 0.135 0.136 0.120C0.132 0.105 0.133 0.098 0.128 0.105Z" fill="#ffe600" />
</g>
</g>
<polygon points="548.5,150.5 550.8,145.0 557.8,140.7 568.8,138.5 579.8,139.0 588.8,141.8 594.3,146.5 595.0,152.0 594.6,156.0 588.8,159.0 579.8,161.3 572.3,162.2 563.8,159.8 552.3,155.8" fill="#a8a8a8"/>
<path d="M552.3 156.2 L572.3 162.6" stroke="#2e2e2e" stroke-width="1.7" fill="none"/>
<path d="M593.0 145.5 L593.0 156.0" stroke="#3a3a3a" stroke-width="1.2" fill="none"/>
<ellipse cx="572.5" cy="149.2" rx="10" ry="5.3" fill="#ff0000"/>
<text x="286.7" y="202.7" font-size="26.8" text-anchor="middle" font-family="'Liberation Serif', serif" >0</text>
<text x="271.3" y="312.7" font-size="26.8" text-anchor="middle" font-family="'Liberation Serif', serif" >0.05</text>
<text x="271.4" y="438.3" font-size="26.8" text-anchor="middle" font-family="'Liberation Serif', serif" >0.1</text>
<text x="273.0" y="560.9" font-size="26.8" text-anchor="middle" font-family="'Liberation Serif', serif" >0.15</text>
<text x="273.2" y="689.0" font-size="26.8" text-anchor="middle" font-family="'Liberation Serif', serif" >0.2</text>
<text x="271.3" y="812.7" font-size="26.8" text-anchor="middle" font-family="'Liberation Serif', serif" >0.25</text>
<text x="275.1" y="929.7" font-size="26.8" text-anchor="middle" font-family="'Liberation Serif', serif" >0.3</text>
<text x="226.5" y="560.9" font-size="26.8" text-anchor="middle" font-family="'Liberation Serif', serif" >Z</text>
<text x="293.0" y="972.4" font-size="26.8" text-anchor="middle" font-family="'Liberation Serif', serif" >-0.4</text>
<text x="370.9" y="996.7" font-size="26.8" text-anchor="middle" font-family="'Liberation Serif', serif" >-0.2</text>
<text x="464.8" y="1019.5" font-size="26.8" text-anchor="middle" font-family="'Liberation Serif', serif" >0</text>
<text x="535.7" y="1042.3" font-size="26.8" text-anchor="middle" font-family="'Liberation Serif', serif" >0.2</text>
<text x="607.8" y="1062.4" font-size="26.8" text-anchor="middle" font-family="'Liberation Serif', serif" >0.4</text>
<text x="442.2" y="1051.7" font-size="26.8" text-anchor="middle" font-family="'Liberation Serif', serif" >X</text>
<text x="671.0" y="1060.3" font-size="26.8" text-anchor="middle" font-family="'Liberation Serif', serif" >0.4</text>
<text x="712.2" y="1023.9" font-size="26.8" text-anchor="middle" font-family="'Liberation Serif', serif" >0.2</text>
<text x="756.3" y="982.2" font-size="26.8" text-anchor="middle" font-family="'Liberation Serif', serif" >0</text>
<text x="799.0" y="944.4" font-size="26.8" text-anchor="middle" font-family="'Liberation Serif', serif" >-0.2</text>
<text x="850.3" y="903.4" font-size="26.8" text-anchor="middle" font-family="'Liberation Serif', serif" >-0.4</text>
<text x="816.0" y="995.8" font-size="26.8" text-anchor="middle" font-family="'Liberation Serif', serif" >Y</text>
<text x="329.5" y="128.8" font-size="74" text-anchor="middle" font-family="'Liberation Serif', serif" >(a)</text>
<!-- panel b -->
<polygon points="1015.1,182.5 1205.4,17.5 1205.4,777.5 1015.1,942.5" fill="#ababab"/>
<polygon points="1205.4,17.5 1536.1,113.1 1536.1,873.1 1205.4,777.5" fill="#ababab"/>
<polygon points="1015.1,942.5 1205.4,777.5 1536.1,873.1 1345.8,1038.1" fill="#c7c7c7"/>
<g stroke-linecap="square"><line x1="1015.1" y1="182.5" x2="1205.4" y2="17.5" stroke="#262626" stroke-width="1.2"/><line x1="1205.4" y1="17.5" x2="1536.1" y2="113.1" stroke="#262626" stroke-width="1.2"/><line x1="1015.1" y1="182.5" x2="1015.1" y2="942.5" stroke="#262626" stroke-width="1.2"/><line x1="1205.4" y1="17.5" x2="1205.4" y2="777.5" stroke="#262626" stroke-width="1.2"/><line x1="1536.1" y1="113.1" x2="1536.1" y2="873.1" stroke="#262626" stroke-width="1.2"/><line x1="1015.1" y1="942.5" x2="1205.4" y2="777.5" stroke="#262626" stroke-width="1.2"/><line x1="1205.4" y1="777.5" x2="1536.1" y2="873.1" stroke="#262626" stroke-width="1.2"/><line x1="1015.1" y1="942.5" x2="1345.8" y2="1038.1" stroke="#262626" stroke-width="1.2"/><line x1="1345.8" y1="1038.1" x2="1536.1" y2="873.1" stroke="#262626" stroke-width="1.2"/><line x1="1197.0" y1="24.7" x2="1197.0" y2="784.7" stroke="#262626" stroke-width="1.0"/><line x1="1219.9" y1="21.7" x2="1219.9" y2="781.7" stroke="#262626" stroke-width="1.0"/><line x1="1219.9" y1="781.7" x2="1029.6" y2="946.7" stroke="#262626" stroke-width="1.0"/><line x1="1197.0" y1="784.7" x2="1527.7" y2="880.3" stroke="#262626" stroke-width="1.0"/><line x1="1153.6" y1="62.4" x2="1153.6" y2="822.4" stroke="#262626" stroke-width="1.0"/><line x1="1295.3" y1="43.5" x2="1295.3" y2="803.5" stroke="#262626" stroke-width="1.0"/><line x1="1295.3" y1="803.5" x2="1105.0" y2="968.5" stroke="#262626" stroke-width="1.0"/><line x1="1153.6" y1="822.4" x2="1484.3" y2="918.0" stroke="#262626" stroke-width="1.0"/><line x1="1110.2" y1="100.0" x2="1110.2" y2="860.0" stroke="#262626" stroke-width="1.0"/><line x1="1370.8" y1="65.3" x2="1370.8" y2="825.3" stroke="#262626" stroke-width="1.0"/><line x1="1370.8" y1="825.3" x2="1180.4" y2="990.3" stroke="#262626" stroke-width="1.0"/><line x1="1110.2" y1="860.0" x2="1440.9" y2="955.6" stroke="#262626" stroke-width="1.0"/><line x1="1066.9" y1="137.6" x2="1066.9" y2="897.6" stroke="#262626" stroke-width="1.0"/><line x1="1446.2" y1="87.1" x2="1446.2" y2="847.1" stroke="#262626" stroke-width="1.0"/><line x1="1446.2" y1="847.1" x2="1255.9" y2="1012.1" stroke="#262626" stroke-width="1.0"/><line x1="1066.9" y1="897.6" x2="1397.6" y2="993.2" stroke="#262626" stroke-width="1.0"/><line x1="1023.5" y1="175.3" x2="1023.5" y2="935.3" stroke="#262626" stroke-width="1.0"/><line x1="1521.6" y1="108.9" x2="1521.6" y2="868.9" stroke="#262626" stroke-width="1.0"/><line x1="1521.6" y1="868.9" x2="1331.3" y2="1033.9" stroke="#262626" stroke-width="1.0"/><line x1="1023.5" y1="935.3" x2="1354.2" y2="1030.9" stroke="#262626" stroke-width="1.0"/><line x1="1015.1" y1="305.0" x2="1205.4" y2="140.0" stroke="#262626" stroke-width="1.0"/><line x1="1205.4" y1="140.0" x2="1536.1" y2="235.6" stroke="#262626" stroke-width="1.0"/><line x1="1015.1" y1="427.5" x2="1205.4" y2="262.5" stroke="#262626" stroke-width="1.0"/><line x1="1205.4" y1="262.5" x2="1536.1" y2="358.1" stroke="#262626" stroke-width="1.0"/><line x1="1015.1" y1="550.0" x2="1205.4" y2="385.0" stroke="#262626" stroke-width="1.0"/><line x1="1205.4" y1="385.0" x2="1536.1" y2="480.6" stroke="#262626" stroke-width="1.0"/><line x1="1015.1" y1="672.4" x2="1205.4" y2="507.4" stroke="#262626" stroke-width="1.0"/><line x1="1205.4" y1="507.4" x2="1536.1" y2="603.0" stroke="#262626" stroke-width="1.0"/><line x1="1015.1" y1="794.9" x2="1205.4" y2="629.9" stroke="#262626" stroke-width="1.0"/><line x1="1205.4" y1="629.9" x2="1536.1" y2="725.5" stroke="#262626" stroke-width="1.0"/><line x1="1015.1" y1="917.4" x2="1205.4" y2="752.4" stroke="#262626" stroke-width="1.0"/><line x1="1205.4" y1="752.4" x2="1536.1" y2="848.0" stroke="#262626" stroke-width="1.0"/></g>
<g transform="matrix(377.081 109.008 -216.990 188.141 1275.60 883.20)">
<circle r="0.4" fill="#0008f5"/>
<path d="M-0.329 0.151C-0.341 0.130 -0.355 0.105 -0.363 0.082C-0.372 0.059 -0.378 0.038 -0.379 0.012C-0.380 -0.014 -0.377 -0.046 -0.369 -0.073C-0.360 -0.100 -0.344 -0.126 -0.329 -0.150C-0.314 -0.175 -0.299 -0.197 -0.280 -0.219C-0.261 -0.240 -0.239 -0.261 -0.216 -0.280C-0.194 -0.299 -0.171 -0.316 -0.147 -0.330C-0.122 -0.345 -0.094 -0.358 -0.068 -0.366C-0.042 -0.374 -0.016 -0.376 0.010 -0.376C0.035 -0.376 0.060 -0.373 0.085 -0.366C0.110 -0.358 0.135 -0.345 0.160 -0.330C0.184 -0.314 0.210 -0.293 0.232 -0.273C0.254 -0.252 0.272 -0.230 0.290 -0.207C0.307 -0.184 0.324 -0.160 0.336 -0.135C0.348 -0.111 0.355 -0.085 0.360 -0.060C0.364 -0.034 0.363 -0.008 0.360 0.019C0.357 0.045 0.352 0.072 0.342 0.099C0.333 0.125 0.319 0.151 0.303 0.176C0.287 0.201 0.266 0.227 0.246 0.249C0.225 0.270 0.204 0.291 0.180 0.306C0.156 0.322 0.129 0.334 0.102 0.342C0.075 0.349 0.047 0.351 0.018 0.351C-0.010 0.350 -0.041 0.344 -0.069 0.337C-0.097 0.329 -0.123 0.319 -0.151 0.305C-0.179 0.292 -0.211 0.271 -0.234 0.255C-0.257 0.238 -0.273 0.224 -0.289 0.207C-0.305 0.190 -0.316 0.172 -0.329 0.151Z" fill="#00f0d0" transform="scale(1.012)"/>
<path d="M-0.329 0.151C-0.341 0.130 -0.355 0.105 -0.363 0.082C-0.372 0.059 -0.378 0.038 -0.379 0.012C-0.380 -0.014 -0.377 -0.046 -0.369 -0.073C-0.360 -0.100 -0.344 -0.126 -0.329 -0.150C-0.314 -0.175 -0.299 -0.197 -0.280 -0.219C-0.261 -0.240 -0.239 -0.261 -0.216 -0.280C-0.194 -0.299 -0.171 -0.316 -0.147 -0.330C-0.122 -0.345 -0.094 -0.358 -0.068 -0.366C-0.042 -0.374 -0.016 -0.376 0.010 -0.376C0.035 -0.376 0.060 -0.373 0.085 -0.366C0.110 -0.358 0.135 -0.345 0.160 -0.330C0.184 -0.314 0.210 -0.293 0.232 -0.273C0.254 -0.252 0.272 -0.230 0.290 -0.207C0.307 -0.184 0.324 -0.160 0.336 -0.135C0.348 -0.111 0.355 -0.085 0.360 -0.060C0.364 -0.034 0.363 -0.008 0.360 0.019C0.357 0.045 0.352 0.072 0.342 0.099C0.333 0.125 0.319 0.151 0.303 0.176C0.287 0.201 0.266 0.227 0.246 0.249C0.225 0.270 0.204 0.291 0.180 0.306C0.156 0.322 0.129 0.334 0.102 0.342C0.075 0.349 0.047 0.351 0.018 0.351C-0.010 0.350 -0.041 0.344 -0.069 0.337C-0.097 0.329 -0.123 0.319 -0.151 0.305C-0.179 0.292 -0.211 0.271 -0.234 0.255C-0.257 0.238 -0.273 0.224 -0.289 0.207C-0.305 0.190 -0.316 0.172 -0.329 0.151Z" fill="#00f000" />
<path d="M-0.329 0.151C-0.341 0.130 -0.355 0.105 -0.363 0.082C-0.372 0.059 -0.378 0.038 -0.379 0.012C-0.380 -0.014 -0.377 -0.046 -0.369 -0.073C-0.360 -0.100 -0.344 -0.126 -0.329 -0.150C-0.314 -0.175 -0.299 -0.197 -0.280 -0.219C-0.261 -0.240 -0.239 -0.261 -0.216 -0.280C-0.194 -0.299 -0.171 -0.316 -0.147 -0.330C-0.122 -0.345 -0.094 -0.358 -0.068 -0.366C-0.042 -0.374 -0.016 -0.376 0.010 -0.376C0.035 -0.376 0.060 -0.373 0.085 -0.366C0.110 -0.358 0.135 -0.345 0.160 -0.330C0.184 -0.314 0.210 -0.293 0.232 -0.273C0.254 -0.252 0.272 -0.230 0.290 -0.207C0.307 -0.184 0.324 -0.160 0.336 -0.135C0.348 -0.111 0.355 -0.085 0.360 -0.060C0.364 -0.034 0.363 -0.008 0.360 0.019C0.357 0.045 0.352 0.072 0.342 0.099C0.333 0.125 0.319 0.151 0.303 0.176C0.287 0.201 0.266 0.227 0.246 0.249C0.225 0.270 0.204 0.291 0.180 0.306C0.156 0.322 0.129 0.334 0.102 0.342C0.075 0.349 0.047 0.351 0.018 0.351C-0.010 0.350 -0.041 0.344 -0.069 0.337C-0.097 0.329 -0.123 0.319 -0.151 0.305C-0.179 0.292 -0.211 0.271 -0.234 0.255C-0.257 0.238 -0.273 0.224 -0.289 0.207C-0.305 0.190 -0.316 0.172 -0.329 0.151Z" fill="#3cff00" transform="scale(0.965)"/>
<path d="M-0.082 0.087C-0.092 0.072 -0.097 0.047 -0.099 0.028C-0.100 0.009 -0.097 -0.013 -0.090 -0.027C-0.083 -0.041 -0.071 -0.051 -0.058 -0.056C-0.044 -0.060 -0.028 -0.056 -0.011 -0.053C0.005 -0.049 0.023 -0.036 0.040 -0.033C0.056 -0.029 0.071 -0.035 0.086 -0.030C0.100 -0.025 0.113 -0.014 0.125 -0.003C0.138 0.008 0.147 0.029 0.159 0.037C0.170 0.045 0.182 0.048 0.194 0.046C0.205 0.045 0.218 0.033 0.227 0.027C0.236 0.021 0.242 0.008 0.247 0.010C0.252 0.012 0.258 0.026 0.258 0.039C0.259 0.051 0.256 0.068 0.249 0.083C0.242 0.098 0.230 0.116 0.216 0.127C0.201 0.139 0.181 0.148 0.162 0.154C0.142 0.159 0.119 0.163 0.097 0.162C0.075 0.160 0.049 0.150 0.027 0.143C0.005 0.136 -0.018 0.129 -0.036 0.120C-0.054 0.110 -0.071 0.102 -0.082 0.087Z" fill="#dcff00" />
</g>
<g transform="matrix(377.081 109.008 -216.990 188.141 1275.60 637.90)">
<circle r="0.4" fill="#0008f5"/>
<path d="M-0.335 0.162C-0.346 0.142 -0.361 0.117 -0.370 0.093C-0.378 0.068 -0.386 0.041 -0.388 0.014C-0.390 -0.013 -0.387 -0.043 -0.381 -0.069C-0.376 -0.095 -0.367 -0.118 -0.355 -0.143C-0.343 -0.168 -0.328 -0.196 -0.310 -0.219C-0.292 -0.242 -0.269 -0.263 -0.246 -0.281C-0.224 -0.299 -0.200 -0.314 -0.174 -0.327C-0.149 -0.340 -0.122 -0.351 -0.094 -0.359C-0.066 -0.367 -0.034 -0.374 -0.005 -0.376C0.024 -0.378 0.051 -0.375 0.078 -0.369C0.104 -0.363 0.129 -0.354 0.154 -0.339C0.180 -0.325 0.207 -0.304 0.230 -0.285C0.253 -0.265 0.273 -0.244 0.291 -0.221C0.310 -0.199 0.328 -0.175 0.340 -0.150C0.351 -0.126 0.357 -0.101 0.361 -0.074C0.366 -0.047 0.369 -0.017 0.366 0.012C0.364 0.042 0.359 0.073 0.349 0.102C0.339 0.130 0.324 0.159 0.308 0.185C0.291 0.211 0.272 0.236 0.251 0.257C0.230 0.278 0.208 0.297 0.183 0.311C0.159 0.326 0.133 0.339 0.105 0.347C0.077 0.355 0.044 0.360 0.014 0.360C-0.016 0.360 -0.048 0.356 -0.077 0.348C-0.106 0.341 -0.132 0.331 -0.159 0.317C-0.187 0.303 -0.219 0.284 -0.243 0.266C-0.266 0.249 -0.286 0.229 -0.301 0.211C-0.317 0.194 -0.324 0.181 -0.335 0.162Z" fill="#00f0d0" transform="scale(1.012)"/>
<path d="M-0.335 0.162C-0.346 0.142 -0.361 0.117 -0.370 0.093C-0.378 0.068 -0.386 0.041 -0.388 0.014C-0.390 -0.013 -0.387 -0.043 -0.381 -0.069C-0.376 -0.095 -0.367 -0.118 -0.355 -0.143C-0.343 -0.168 -0.328 -0.196 -0.310 -0.219C-0.292 -0.242 -0.269 -0.263 -0.246 -0.281C-0.224 -0.299 -0.200 -0.314 -0.174 -0.327C-0.149 -0.340 -0.122 -0.351 -0.094 -0.359C-0.066 -0.367 -0.034 -0.374 -0.005 -0.376C0.024 -0.378 0.051 -0.375 0.078 -0.369C0.104 -0.363 0.129 -0.354 0.154 -0.339C0.180 -0.325 0.207 -0.304 0.230 -0.285C0.253 -0.265 0.273 -0.244 0.291 -0.221C0.310 -0.199 0.328 -0.175 0.340 -0.150C0.351 -0.126 0.357 -0.101 0.361 -0.074C0.366 -0.047 0.369 -0.017 0.366 0.012C0.364 0.042 0.359 0.073 0.349 0.102C0.339 0.130 0.324 0.159 0.308 0.185C0.291 0.211 0.272 0.236 0.251 0.257C0.230 0.278 0.208 0.297 0.183 0.311C0.159 0.326 0.133 0.339 0.105 0.347C0.077 0.355 0.044 0.360 0.014 0.360C-0.016 0.360 -0.048 0.356 -0.077 0.348C-0.106 0.341 -0.132 0.331 -0.159 0.317C-0.187 0.303 -0.219 0.284 -0.243 0.266C-0.266 0.249 -0.286 0.229 -0.301 0.211C-0.317 0.194 -0.324 0.181 -0.335 0.162Z" fill="#00f000" />
<path d="M-0.335 0.162C-0.346 0.142 -0.361 0.117 -0.370 0.093C-0.378 0.068 -0.386 0.041 -0.388 0.014C-0.390 -0.013 -0.387 -0.043 -0.381 -0.069C-0.376 -0.095 -0.367 -0.118 -0.355 -0.143C-0.343 -0.168 -0.328 -0.196 -0.310 -0.219C-0.292 -0.242 -0.269 -0.263 -0.246 -0.281C-0.224 -0.299 -0.200 -0.314 -0.174 -0.327C-0.149 -0.340 -0.122 -0.351 -0.094 -0.359C-0.066 -0.367 -0.034 -0.374 -0.005 -0.376C0.024 -0.378 0.051 -0.375 0.078 -0.369C0.104 -0.363 0.129 -0.354 0.154 -0.339C0.180 -0.325 0.207 -0.304 0.230 -0.285C0.253 -0.265 0.273 -0.244 0.291 -0.221C0.310 -0.199 0.328 -0.175 0.340 -0.150C0.351 -0.126 0.357 -0.101 0.361 -0.074C0.366 -0.047 0.369 -0.017 0.366 0.012C0.364 0.042 0.359 0.073 0.349 0.102C0.339 0.130 0.324 0.159 0.308 0.185C0.291 0.211 0.272 0.236 0.251 0.257C0.230 0.278 0.208 0.297 0.183 0.311C0.159 0.326 0.133 0.339 0.105 0.347C0.077 0.355 0.044 0.360 0.014 0.360C-0.016 0.360 -0.048 0.356 -0.077 0.348C-0.106 0.341 -0.132 0.331 -0.159 0.317C-0.187 0.303 -0.219 0.284 -0.243 0.266C-0.266 0.249 -0.286 0.229 -0.301 0.211C-0.317 0.194 -0.324 0.181 -0.335 0.162Z" fill="#3cff00" transform="scale(0.975)"/>
<path d="M-0.168 0.173C-0.169 0.165 -0.162 0.147 -0.155 0.136C-0.147 0.125 -0.129 0.118 -0.122 0.107C-0.114 0.096 -0.108 0.086 -0.109 0.070C-0.110 0.054 -0.124 0.031 -0.127 0.012C-0.131 -0.008 -0.129 -0.027 -0.131 -0.046C-0.133 -0.064 -0.137 -0.087 -0.138 -0.101C-0.139 -0.115 -0.142 -0.123 -0.136 -0.132C-0.130 -0.141 -0.116 -0.147 -0.105 -0.155C-0.093 -0.162 -0.077 -0.168 -0.068 -0.176C-0.059 -0.185 -0.057 -0.197 -0.050 -0.206C-0.044 -0.215 -0.040 -0.228 -0.031 -0.232C-0.022 -0.237 -0.009 -0.236 0.004 -0.232C0.017 -0.228 0.033 -0.215 0.047 -0.208C0.062 -0.202 0.074 -0.197 0.090 -0.194C0.106 -0.190 0.128 -0.188 0.144 -0.185C0.160 -0.183 0.177 -0.184 0.187 -0.180C0.196 -0.177 0.203 -0.172 0.201 -0.164C0.199 -0.155 0.187 -0.140 0.176 -0.130C0.165 -0.119 0.147 -0.109 0.134 -0.100C0.121 -0.091 0.106 -0.084 0.099 -0.075C0.093 -0.066 0.093 -0.061 0.095 -0.048C0.097 -0.035 0.110 -0.014 0.113 0.001C0.117 0.015 0.114 0.027 0.115 0.039C0.117 0.052 0.115 0.064 0.121 0.075C0.128 0.086 0.145 0.096 0.154 0.106C0.163 0.116 0.172 0.123 0.175 0.133C0.177 0.144 0.177 0.156 0.169 0.166C0.161 0.177 0.143 0.188 0.127 0.196C0.110 0.204 0.088 0.211 0.068 0.215C0.049 0.218 0.030 0.220 0.011 0.218C-0.008 0.216 -0.028 0.208 -0.047 0.203C-0.067 0.197 -0.089 0.190 -0.106 0.187C-0.122 0.184 -0.136 0.188 -0.146 0.186C-0.156 0.183 -0.166 0.182 -0.168 0.173Z" fill="#dcff00" />
<path d="M0.106 -0.054C0.110 -0.057 0.126 -0.058 0.140 -0.055C0.155 -0.051 0.176 -0.044 0.191 -0.035C0.206 -0.025 0.223 -0.008 0.230 0.002C0.237 0.013 0.236 0.023 0.234 0.030C0.231 0.037 0.224 0.047 0.217 0.044C0.210 0.042 0.201 0.027 0.191 0.015C0.180 0.004 0.166 -0.013 0.154 -0.023C0.142 -0.032 0.126 -0.036 0.118 -0.042C0.110 -0.047 0.102 -0.052 0.106 -0.054Z" fill="#dcff00" />
<path d="M-0.070 -0.343C-0.073 -0.349 -0.068 -0.361 -0.058 -0.365C-0.048 -0.369 -0.026 -0.368 -0.010 -0.368C0.006 -0.368 0.028 -0.369 0.040 -0.367C0.052 -0.365 0.059 -0.360 0.061 -0.355C0.064 -0.350 0.065 -0.341 0.057 -0.337C0.048 -0.333 0.028 -0.332 0.011 -0.331C-0.005 -0.329 -0.029 -0.327 -0.042 -0.329C-0.056 -0.332 -0.067 -0.337 -0.070 -0.343Z" fill="#dcff00" />
<path d="M-0.363 0.069C-0.368 0.059 -0.375 0.035 -0.376 0.017C-0.377 -0.000 -0.375 -0.021 -0.371 -0.035C-0.368 -0.049 -0.362 -0.064 -0.356 -0.068C-0.350 -0.073 -0.342 -0.069 -0.337 -0.060C-0.331 -0.051 -0.327 -0.029 -0.324 -0.013C-0.322 0.003 -0.320 0.021 -0.321 0.035C-0.322 0.049 -0.326 0.062 -0.331 0.070C-0.335 0.078 -0.344 0.081 -0.349 0.081C-0.355 0.081 -0.359 0.080 -0.363 0.069Z" fill="#dcff00" />
<path d="M0.331 0.053C0.325 0.043 0.325 0.023 0.324 0.007C0.323 -0.009 0.322 -0.029 0.325 -0.043C0.328 -0.056 0.336 -0.069 0.342 -0.073C0.349 -0.077 0.359 -0.076 0.366 -0.066C0.372 -0.057 0.379 -0.033 0.380 -0.015C0.382 0.002 0.379 0.023 0.376 0.037C0.372 0.050 0.366 0.064 0.358 0.067C0.351 0.069 0.336 0.063 0.331 0.053Z" fill="#dcff00" />
<path d="M-0.061 0.359C-0.066 0.352 -0.060 0.339 -0.051 0.333C-0.042 0.328 -0.021 0.329 -0.005 0.327C0.010 0.325 0.028 0.319 0.040 0.320C0.053 0.321 0.064 0.326 0.070 0.333C0.075 0.339 0.079 0.353 0.073 0.360C0.067 0.367 0.048 0.372 0.032 0.374C0.016 0.377 -0.006 0.378 -0.022 0.376C-0.037 0.373 -0.056 0.366 -0.061 0.359Z" fill="#dcff00" />
</g>
<g transform="matrix(377.081 109.008 -216.990 188.141 1275.60 392.60)">
<circle r="0.4" fill="#0008f5"/>
<circle r="0.386" fill="#00c8ff"/>
<circle r="0.382" fill="#00f0d0"/>
<circle r="0.378" fill="#00f000"/>
<circle r="0.368" fill="#3cff00"/>
<g clip-path="url(#clip2)">
<path d="M-0.345 0.130C-0.353 0.120 -0.366 0.095 -0.372 0.076C-0.377 0.058 -0.379 0.039 -0.379 0.021C-0.379 0.003 -0.374 -0.014 -0.370 -0.033C-0.366 -0.052 -0.360 -0.078 -0.355 -0.092C-0.350 -0.105 -0.345 -0.114 -0.339 -0.116C-0.333 -0.118 -0.322 -0.112 -0.317 -0.104C-0.313 -0.096 -0.314 -0.078 -0.311 -0.068C-0.309 -0.057 -0.309 -0.046 -0.302 -0.043C-0.296 -0.040 -0.282 -0.045 -0.272 -0.051C-0.261 -0.057 -0.246 -0.069 -0.239 -0.080C-0.232 -0.090 -0.230 -0.100 -0.230 -0.115C-0.230 -0.129 -0.240 -0.156 -0.241 -0.168C-0.241 -0.180 -0.240 -0.188 -0.232 -0.187C-0.225 -0.187 -0.208 -0.174 -0.194 -0.165C-0.181 -0.155 -0.165 -0.141 -0.150 -0.131C-0.136 -0.121 -0.118 -0.111 -0.107 -0.107C-0.095 -0.103 -0.087 -0.100 -0.082 -0.106C-0.077 -0.112 -0.077 -0.130 -0.078 -0.143C-0.079 -0.156 -0.090 -0.174 -0.089 -0.187C-0.087 -0.199 -0.078 -0.206 -0.071 -0.216C-0.065 -0.227 -0.052 -0.234 -0.050 -0.248C-0.048 -0.263 -0.053 -0.291 -0.057 -0.304C-0.061 -0.316 -0.065 -0.322 -0.074 -0.324C-0.082 -0.326 -0.098 -0.313 -0.108 -0.314C-0.117 -0.315 -0.132 -0.323 -0.132 -0.330C-0.131 -0.337 -0.118 -0.349 -0.102 -0.357C-0.087 -0.364 -0.061 -0.371 -0.038 -0.374C-0.016 -0.377 0.010 -0.379 0.034 -0.376C0.058 -0.374 0.085 -0.365 0.104 -0.358C0.123 -0.351 0.138 -0.344 0.148 -0.333C0.157 -0.323 0.153 -0.307 0.162 -0.292C0.171 -0.278 0.188 -0.259 0.203 -0.247C0.218 -0.234 0.240 -0.223 0.251 -0.215C0.261 -0.207 0.263 -0.206 0.263 -0.197C0.263 -0.189 0.256 -0.180 0.250 -0.165C0.243 -0.150 0.230 -0.123 0.224 -0.106C0.218 -0.089 0.211 -0.076 0.213 -0.065C0.216 -0.054 0.230 -0.045 0.242 -0.042C0.254 -0.038 0.272 -0.039 0.286 -0.042C0.299 -0.046 0.313 -0.054 0.323 -0.064C0.332 -0.073 0.335 -0.101 0.342 -0.100C0.348 -0.098 0.359 -0.075 0.364 -0.053C0.368 -0.031 0.371 0.010 0.369 0.033C0.366 0.056 0.358 0.077 0.349 0.084C0.340 0.091 0.324 0.079 0.314 0.075C0.303 0.071 0.297 0.064 0.286 0.061C0.275 0.058 0.260 0.054 0.249 0.058C0.239 0.061 0.228 0.069 0.224 0.082C0.220 0.095 0.224 0.119 0.225 0.136C0.227 0.153 0.233 0.171 0.232 0.182C0.231 0.192 0.229 0.198 0.221 0.198C0.214 0.197 0.200 0.187 0.186 0.179C0.172 0.170 0.153 0.155 0.138 0.147C0.123 0.139 0.109 0.132 0.099 0.130C0.088 0.129 0.081 0.131 0.074 0.139C0.068 0.148 0.064 0.164 0.060 0.183C0.055 0.201 0.050 0.231 0.048 0.248C0.046 0.266 0.044 0.278 0.047 0.289C0.050 0.300 0.058 0.312 0.068 0.316C0.077 0.321 0.092 0.315 0.102 0.316C0.112 0.318 0.123 0.320 0.128 0.326C0.132 0.332 0.137 0.344 0.127 0.351C0.117 0.358 0.088 0.364 0.067 0.366C0.045 0.369 0.021 0.368 -0.002 0.367C-0.025 0.365 -0.051 0.362 -0.072 0.358C-0.092 0.353 -0.113 0.347 -0.126 0.340C-0.139 0.333 -0.146 0.327 -0.151 0.314C-0.155 0.302 -0.151 0.280 -0.154 0.267C-0.156 0.253 -0.157 0.242 -0.167 0.235C-0.177 0.227 -0.200 0.226 -0.214 0.222C-0.227 0.219 -0.242 0.221 -0.249 0.213C-0.255 0.205 -0.254 0.189 -0.251 0.175C-0.248 0.160 -0.237 0.140 -0.231 0.123C-0.225 0.107 -0.214 0.086 -0.215 0.074C-0.215 0.063 -0.226 0.059 -0.235 0.056C-0.244 0.054 -0.257 0.055 -0.269 0.057C-0.281 0.059 -0.301 0.062 -0.307 0.069C-0.313 0.075 -0.306 0.088 -0.305 0.097C-0.305 0.107 -0.300 0.119 -0.304 0.126C-0.307 0.133 -0.319 0.138 -0.326 0.139C-0.333 0.140 -0.338 0.141 -0.345 0.130Z" fill="#dcff00" />
<path d="M-0.058 0.003C-0.085 -0.004 -0.160 -0.023 -0.211 -0.031C-0.263 -0.039 -0.338 -0.050 -0.367 -0.045C-0.397 -0.040 -0.387 -0.017 -0.388 -0.003C-0.389 0.010 -0.391 0.031 -0.372 0.037C-0.353 0.043 -0.308 0.031 -0.275 0.030C-0.242 0.029 -0.212 0.035 -0.175 0.032C-0.138 0.029 -0.073 0.017 -0.053 0.012C-0.034 0.008 -0.032 0.011 -0.058 0.003Z" fill="#ffe600" />
<path d="M-0.018 -0.064C-0.025 -0.088 -0.027 -0.160 -0.032 -0.209C-0.038 -0.258 -0.059 -0.331 -0.049 -0.358C-0.039 -0.384 0.019 -0.392 0.029 -0.368C0.039 -0.344 0.013 -0.264 0.009 -0.214C0.006 -0.163 0.012 -0.091 0.008 -0.066C0.003 -0.041 -0.011 -0.040 -0.018 -0.064Z" fill="#ffe600" />
<path d="M0.050 -0.005C0.079 -0.012 0.178 -0.027 0.231 -0.035C0.283 -0.043 0.339 -0.067 0.364 -0.053C0.388 -0.039 0.399 0.031 0.377 0.048C0.355 0.065 0.283 0.056 0.230 0.049C0.177 0.043 0.088 0.017 0.058 0.008C0.028 -0.001 0.022 0.002 0.050 -0.005Z" fill="#ffe600" />
<path d="M-0.001 0.064C-0.007 0.088 -0.018 0.166 -0.024 0.216C-0.031 0.267 -0.052 0.344 -0.040 0.369C-0.029 0.395 0.033 0.396 0.044 0.370C0.055 0.343 0.032 0.261 0.027 0.211C0.021 0.162 0.016 0.097 0.011 0.072C0.006 0.048 0.005 0.040 -0.001 0.064Z" fill="#ffe600" />
<path d="M-0.077 0.005C-0.098 0.001 -0.164 -0.010 -0.201 -0.013C-0.238 -0.016 -0.271 -0.016 -0.300 -0.014C-0.330 -0.013 -0.367 -0.010 -0.378 -0.004C-0.390 0.002 -0.386 0.019 -0.371 0.022C-0.356 0.024 -0.317 0.012 -0.285 0.012C-0.254 0.011 -0.219 0.017 -0.184 0.017C-0.148 0.017 -0.092 0.012 -0.074 0.010C-0.056 0.008 -0.056 0.008 -0.077 0.005Z" fill="#ffb800" />
<path d="M-0.013 -0.080C-0.014 -0.102 -0.012 -0.159 -0.015 -0.205C-0.018 -0.250 -0.036 -0.327 -0.031 -0.353C-0.027 -0.379 0.007 -0.377 0.014 -0.360C0.021 -0.342 0.011 -0.286 0.009 -0.248C0.007 -0.211 0.003 -0.163 0.001 -0.134C-0.002 -0.106 -0.005 -0.085 -0.007 -0.076C-0.009 -0.067 -0.011 -0.059 -0.013 -0.080Z" fill="#ffb800" />
<path d="M0.072 -0.002C0.091 -0.006 0.147 -0.011 0.194 -0.014C0.240 -0.017 0.323 -0.026 0.352 -0.021C0.381 -0.017 0.391 0.007 0.367 0.014C0.344 0.021 0.261 0.021 0.213 0.020C0.164 0.018 0.100 0.010 0.077 0.006C0.053 0.003 0.052 0.001 0.072 -0.002Z" fill="#ffb800" />
<path d="M-0.001 0.077C-0.005 0.098 -0.013 0.164 -0.017 0.212C-0.021 0.260 -0.031 0.339 -0.023 0.364C-0.016 0.390 0.021 0.389 0.026 0.365C0.032 0.341 0.012 0.269 0.008 0.222C0.005 0.175 0.008 0.109 0.006 0.085C0.005 0.061 0.003 0.056 -0.001 0.077Z" fill="#ffb800" />
<path d="M-0.099 0.005C-0.117 0.003 -0.173 -0.002 -0.205 -0.003C-0.237 -0.005 -0.266 -0.005 -0.291 -0.004C-0.317 -0.004 -0.348 -0.003 -0.358 0.000C-0.368 0.003 -0.365 0.010 -0.352 0.012C-0.338 0.013 -0.305 0.008 -0.278 0.007C-0.251 0.007 -0.221 0.010 -0.191 0.010C-0.160 0.010 -0.112 0.008 -0.097 0.007C-0.081 0.006 -0.081 0.007 -0.099 0.005Z" fill="#ff9800" />
<path d="M-0.009 -0.098C-0.010 -0.117 -0.009 -0.166 -0.010 -0.205C-0.011 -0.244 -0.019 -0.311 -0.017 -0.333C-0.015 -0.355 0.000 -0.354 0.003 -0.339C0.006 -0.324 0.002 -0.275 0.001 -0.243C-0.000 -0.210 -0.002 -0.170 -0.003 -0.145C-0.004 -0.120 -0.006 -0.102 -0.007 -0.094C-0.008 -0.086 -0.009 -0.080 -0.009 -0.098Z" fill="#ff9800" />
<path d="M0.091 -0.000C0.108 -0.002 0.156 -0.004 0.196 -0.006C0.236 -0.008 0.308 -0.012 0.333 -0.010C0.357 -0.008 0.366 0.003 0.346 0.006C0.326 0.009 0.254 0.009 0.213 0.009C0.171 0.009 0.116 0.005 0.096 0.004C0.076 0.002 0.075 0.001 0.091 -0.000Z" fill="#ff9800" />
<path d="M-0.000 0.097C-0.002 0.116 -0.006 0.172 -0.008 0.213C-0.009 0.255 -0.014 0.322 -0.011 0.344C-0.007 0.366 0.009 0.365 0.012 0.345C0.014 0.324 0.005 0.262 0.004 0.222C0.002 0.182 0.004 0.125 0.003 0.104C0.002 0.083 0.001 0.079 -0.000 0.097Z" fill="#ff9800" />
</g>
</g>
<polygon points="1252.6,393.7 1254.9,388.2 1261.9,383.9 1272.9,381.7 1283.9,382.2 1292.9,385.0 1298.4,389.7 1299.1,395.2 1298.7,399.2 1292.9,402.2 1283.9,404.5 1276.4,405.4 1267.9,403.0 1256.4,399.0" fill="#a8a8a8"/>
<path d="M1256.4 399.4 L1276.4 405.8" stroke="#2e2e2e" stroke-width="1.7" fill="none"/>
<path d="M1297.1 388.7 L1297.1 399.2" stroke="#3a3a3a" stroke-width="1.2" fill="none"/>
<ellipse cx="1276.6" cy="392.4" rx="10" ry="5.3" fill="#ff0000"/>
<g transform="matrix(377.081 109.008 -216.990 188.141 1275.60 147.30)">
<circle r="0.4" fill="#00e400"/>
<circle r="0.39" fill="#30f800"/>
<circle r="0.383" fill="#78ff00"/>
<circle r="0.376" fill="#b4ff00"/>
<circle r="0.369" fill="#dcff00"/>
<g clip-path="url(#clip1)">
<path d="M-0.361 0.077C-0.371 0.065 -0.379 0.040 -0.380 0.019C-0.381 -0.002 -0.376 -0.028 -0.369 -0.047C-0.361 -0.066 -0.352 -0.083 -0.337 -0.095C-0.322 -0.107 -0.299 -0.115 -0.281 -0.118C-0.263 -0.120 -0.244 -0.116 -0.227 -0.110C-0.209 -0.103 -0.190 -0.093 -0.175 -0.080C-0.161 -0.067 -0.147 -0.048 -0.140 -0.031C-0.132 -0.014 -0.130 0.007 -0.131 0.023C-0.132 0.038 -0.137 0.053 -0.148 0.062C-0.159 0.072 -0.177 0.076 -0.196 0.081C-0.216 0.085 -0.244 0.088 -0.265 0.091C-0.286 0.093 -0.306 0.096 -0.322 0.094C-0.338 0.092 -0.352 0.090 -0.361 0.077Z" fill="#ffe600" />
<path d="M-0.127 -0.167C-0.134 -0.177 -0.138 -0.209 -0.138 -0.230C-0.138 -0.252 -0.134 -0.276 -0.127 -0.296C-0.120 -0.316 -0.111 -0.333 -0.097 -0.348C-0.084 -0.362 -0.065 -0.377 -0.044 -0.384C-0.023 -0.390 0.005 -0.391 0.029 -0.386C0.052 -0.381 0.075 -0.370 0.096 -0.356C0.116 -0.341 0.136 -0.322 0.152 -0.300C0.168 -0.278 0.184 -0.247 0.191 -0.223C0.199 -0.200 0.202 -0.173 0.199 -0.158C0.196 -0.144 0.183 -0.136 0.174 -0.134C0.165 -0.132 0.156 -0.137 0.146 -0.148C0.136 -0.158 0.127 -0.184 0.113 -0.197C0.098 -0.211 0.081 -0.222 0.061 -0.227C0.042 -0.232 0.017 -0.232 -0.004 -0.229C-0.025 -0.225 -0.049 -0.213 -0.064 -0.204C-0.079 -0.195 -0.086 -0.181 -0.097 -0.175C-0.107 -0.169 -0.120 -0.158 -0.127 -0.167Z" fill="#ffe600" />
<path d="M0.108 -0.051C0.114 -0.063 0.142 -0.063 0.162 -0.068C0.183 -0.072 0.208 -0.075 0.231 -0.078C0.253 -0.081 0.279 -0.087 0.299 -0.088C0.319 -0.088 0.341 -0.089 0.353 -0.079C0.365 -0.070 0.369 -0.049 0.371 -0.031C0.374 -0.012 0.372 0.010 0.367 0.031C0.363 0.052 0.357 0.075 0.344 0.094C0.332 0.112 0.312 0.135 0.294 0.143C0.275 0.150 0.251 0.146 0.232 0.139C0.213 0.132 0.196 0.115 0.180 0.100C0.164 0.084 0.146 0.062 0.137 0.046C0.127 0.030 0.129 0.020 0.124 0.004C0.120 -0.013 0.102 -0.039 0.108 -0.051Z" fill="#ffe600" />
<path d="M0.121 0.134C0.115 0.131 0.119 0.167 0.108 0.181C0.098 0.196 0.077 0.212 0.057 0.221C0.037 0.229 0.010 0.233 -0.011 0.231C-0.033 0.228 -0.057 0.217 -0.074 0.208C-0.091 0.198 -0.105 0.184 -0.114 0.172C-0.123 0.159 -0.121 0.139 -0.128 0.130C-0.135 0.121 -0.146 0.114 -0.156 0.117C-0.166 0.119 -0.182 0.132 -0.189 0.145C-0.195 0.159 -0.198 0.175 -0.193 0.198C-0.189 0.220 -0.176 0.255 -0.162 0.278C-0.148 0.301 -0.128 0.321 -0.108 0.336C-0.089 0.351 -0.069 0.363 -0.045 0.369C-0.022 0.375 0.007 0.378 0.032 0.374C0.056 0.370 0.085 0.358 0.103 0.343C0.120 0.328 0.131 0.306 0.137 0.283C0.144 0.260 0.143 0.227 0.140 0.202C0.137 0.177 0.126 0.138 0.121 0.134Z" fill="#ffe600" />
</g>
</g>
<polygon points="1252.6,148.4 1254.9,142.9 1261.9,138.6 1272.9,136.4 1283.9,136.9 1292.9,139.7 1298.4,144.4 1299.1,149.9 1298.7,153.9 1292.9,156.9 1283.9,159.2 1276.4,160.1 1267.9,157.7 1256.4,153.7" fill="#a8a8a8"/>
<path d="M1256.4 154.1 L1276.4 160.5" stroke="#2e2e2e" stroke-width="1.7" fill="none"/>
<path d="M1297.1 143.4 L1297.1 153.9" stroke="#3a3a3a" stroke-width="1.2" fill="none"/>
<ellipse cx="1276.6" cy="147.1" rx="10" ry="5.3" fill="#ff0000"/>
<text x="994.8" y="202.2" font-size="26.8" text-anchor="middle" font-family="'Liberation Serif', serif" >0</text>
<text x="979.5" y="314.2" font-size="26.8" text-anchor="middle" font-family="'Liberation Serif', serif" >0.05</text>
<text x="979.9" y="439.5" font-size="26.8" text-anchor="middle" font-family="'Liberation Serif', serif" >0.1</text>
<text x="981.3" y="562.6" font-size="26.8" text-anchor="middle" font-family="'Liberation Serif', serif" >0.15</text>
<text x="981.5" y="689.8" font-size="26.8" text-anchor="middle" font-family="'Liberation Serif', serif" >0.2</text>
<text x="979.5" y="812.9" font-size="26.8" text-anchor="middle" font-family="'Liberation Serif', serif" >0.25</text>
<text x="984.0" y="929.4" font-size="26.8" text-anchor="middle" font-family="'Liberation Serif', serif" >0.3</text>
<text x="935.5" y="562.6" font-size="26.8" text-anchor="middle" font-family="'Liberation Serif', serif" >Z</text>
<text x="1001.3" y="972.7" font-size="26.8" text-anchor="middle" font-family="'Liberation Serif', serif" >-0.4</text>
<text x="1078.8" y="997.0" font-size="26.8" text-anchor="middle" font-family="'Liberation Serif', serif" >-0.2</text>
<text x="1172.3" y="1019.8" font-size="26.8" text-anchor="middle" font-family="'Liberation Serif', serif" >0</text>
<text x="1243.2" y="1042.6" font-size="26.8" text-anchor="middle" font-family="'Liberation Serif', serif" >0.2</text>
<text x="1314.9" y="1062.7" font-size="26.8" text-anchor="middle" font-family="'Liberation Serif', serif" >0.4</text>
<text x="1150.0" y="1052.0" font-size="26.8" text-anchor="middle" font-family="'Liberation Serif', serif" >X</text>
<text x="1377.4" y="1060.2" font-size="26.8" text-anchor="middle" font-family="'Liberation Serif', serif" >0.4</text>
<text x="1417.5" y="1022.7" font-size="26.8" text-anchor="middle" font-family="'Liberation Serif', serif" >0.2</text>
<text x="1462.1" y="982.0" font-size="26.8" text-anchor="middle" font-family="'Liberation Serif', serif" >0</text>
<text x="1504.3" y="944.1" font-size="26.8" text-anchor="middle" font-family="'Liberation Serif', serif" >-0.2</text>
<text x="1554.4" y="903.2" font-size="26.8" text-anchor="middle" font-family="'Liberation Serif', serif" >-0.4</text>
<text x="1521.8" y="995.8" font-size="26.8" text-anchor="middle" font-family="'Liberation Serif', serif" >Y</text>
<text x="1034.4" y="127.3" font-size="74" text-anchor="middle" font-family="'Liberation Serif', serif" >(b)</text>
<!-- panel c -->
<polygon points="1725.1,182.1 1912.4,19.7 1912.4,769.2 1725.1,931.6" fill="#ababab"/>
<polygon points="1912.4,19.7 2238.3,114.0 2238.3,863.5 1912.4,769.2" fill="#ababab"/>
<polygon points="1725.1,931.6 1912.4,769.2 2238.3,863.5 2051.0,1025.9" fill="#c7c7c7"/>
<g stroke-linecap="square"><line x1="1725.1" y1="182.1" x2="1912.4" y2="19.7" stroke="#262626" stroke-width="1.2"/><line x1="1912.4" y1="19.7" x2="2238.3" y2="114.0" stroke="#262626" stroke-width="1.2"/><line x1="1725.1" y1="182.1" x2="1725.1" y2="931.6" stroke="#262626" stroke-width="1.2"/><line x1="1912.4" y1="19.7" x2="1912.4" y2="769.2" stroke="#262626" stroke-width="1.2"/><line x1="2238.3" y1="114.0" x2="2238.3" y2="863.5" stroke="#262626" stroke-width="1.2"/><line x1="1725.1" y1="931.6" x2="1912.4" y2="769.2" stroke="#262626" stroke-width="1.2"/><line x1="1912.4" y1="769.2" x2="2238.3" y2="863.5" stroke="#262626" stroke-width="1.2"/><line x1="1725.1" y1="931.6" x2="2051.0" y2="1025.9" stroke="#262626" stroke-width="1.2"/><line x1="2051.0" y1="1025.9" x2="2238.3" y2="863.5" stroke="#262626" stroke-width="1.2"/><line x1="1904.2" y1="26.8" x2="1904.2" y2="776.3" stroke="#262626" stroke-width="1.0"/><line x1="1926.7" y1="23.8" x2="1926.7" y2="773.3" stroke="#262626" stroke-width="1.0"/><line x1="1926.7" y1="773.3" x2="1739.4" y2="935.7" stroke="#262626" stroke-width="1.0"/><line x1="1904.2" y1="776.3" x2="2230.1" y2="870.6" stroke="#262626" stroke-width="1.0"/><line x1="1861.5" y1="63.9" x2="1861.5" y2="813.4" stroke="#262626" stroke-width="1.0"/><line x1="2001.0" y1="45.3" x2="2001.0" y2="794.8" stroke="#262626" stroke-width="1.0"/><line x1="2001.0" y1="794.8" x2="1813.7" y2="957.2" stroke="#262626" stroke-width="1.0"/><line x1="1861.5" y1="813.4" x2="2187.4" y2="907.7" stroke="#262626" stroke-width="1.0"/><line x1="1818.8" y1="100.9" x2="1818.8" y2="850.4" stroke="#262626" stroke-width="1.0"/><line x1="2075.4" y1="66.9" x2="2075.4" y2="816.4" stroke="#262626" stroke-width="1.0"/><line x1="2075.4" y1="816.4" x2="1888.0" y2="978.8" stroke="#262626" stroke-width="1.0"/><line x1="1818.8" y1="850.4" x2="2144.7" y2="944.7" stroke="#262626" stroke-width="1.0"/><line x1="1776.0" y1="137.9" x2="1776.0" y2="887.4" stroke="#262626" stroke-width="1.0"/><line x1="2149.7" y1="88.4" x2="2149.7" y2="837.9" stroke="#262626" stroke-width="1.0"/><line x1="2149.7" y1="837.9" x2="1962.4" y2="1000.3" stroke="#262626" stroke-width="1.0"/><line x1="1776.0" y1="887.4" x2="2101.9" y2="981.7" stroke="#262626" stroke-width="1.0"/><line x1="1733.3" y1="175.0" x2="1733.3" y2="924.5" stroke="#262626" stroke-width="1.0"/><line x1="2224.0" y1="109.9" x2="2224.0" y2="859.4" stroke="#262626" stroke-width="1.0"/><line x1="2224.0" y1="859.4" x2="2036.7" y2="1021.8" stroke="#262626" stroke-width="1.0"/><line x1="1733.3" y1="924.5" x2="2059.2" y2="1018.8" stroke="#262626" stroke-width="1.0"/><line x1="1725.1" y1="303.0" x2="1912.4" y2="140.6" stroke="#262626" stroke-width="1.0"/><line x1="1912.4" y1="140.6" x2="2238.3" y2="234.9" stroke="#262626" stroke-width="1.0"/><line x1="1725.1" y1="423.9" x2="1912.4" y2="261.5" stroke="#262626" stroke-width="1.0"/><line x1="1912.4" y1="261.5" x2="2238.3" y2="355.8" stroke="#262626" stroke-width="1.0"/><line x1="1725.1" y1="544.8" x2="1912.4" y2="382.4" stroke="#262626" stroke-width="1.0"/><line x1="1912.4" y1="382.4" x2="2238.3" y2="476.7" stroke="#262626" stroke-width="1.0"/><line x1="1725.1" y1="665.7" x2="1912.4" y2="503.3" stroke="#262626" stroke-width="1.0"/><line x1="1912.4" y1="503.3" x2="2238.3" y2="597.6" stroke="#262626" stroke-width="1.0"/><line x1="1725.1" y1="786.6" x2="1912.4" y2="624.2" stroke="#262626" stroke-width="1.0"/><line x1="1912.4" y1="624.2" x2="2238.3" y2="718.5" stroke="#262626" stroke-width="1.0"/><line x1="1725.1" y1="907.5" x2="1912.4" y2="745.1" stroke="#262626" stroke-width="1.0"/><line x1="1912.4" y1="745.1" x2="2238.3" y2="839.4" stroke="#262626" stroke-width="1.0"/></g>
<g transform="matrix(371.608 107.526 -213.569 185.177 1981.70 872.75)">
<circle r="0.4" fill="#0008f5"/>
<path d="M-0.327 0.153C-0.338 0.133 -0.352 0.107 -0.360 0.082C-0.368 0.056 -0.375 0.027 -0.375 -0.000C-0.374 -0.027 -0.366 -0.055 -0.356 -0.081C-0.346 -0.108 -0.331 -0.135 -0.316 -0.160C-0.301 -0.185 -0.285 -0.207 -0.266 -0.229C-0.247 -0.251 -0.224 -0.273 -0.202 -0.292C-0.179 -0.310 -0.152 -0.326 -0.129 -0.339C-0.105 -0.352 -0.085 -0.363 -0.060 -0.369C-0.036 -0.374 -0.008 -0.375 0.017 -0.373C0.042 -0.371 0.066 -0.366 0.092 -0.356C0.117 -0.347 0.145 -0.333 0.170 -0.316C0.195 -0.300 0.222 -0.279 0.243 -0.259C0.265 -0.238 0.283 -0.213 0.300 -0.191C0.316 -0.168 0.329 -0.148 0.341 -0.124C0.352 -0.101 0.363 -0.075 0.368 -0.050C0.373 -0.024 0.373 0.003 0.369 0.030C0.366 0.057 0.358 0.086 0.347 0.114C0.336 0.141 0.320 0.169 0.303 0.194C0.286 0.219 0.265 0.244 0.243 0.264C0.221 0.284 0.198 0.301 0.172 0.315C0.147 0.329 0.119 0.341 0.091 0.348C0.063 0.354 0.032 0.354 0.004 0.353C-0.025 0.352 -0.052 0.348 -0.079 0.340C-0.106 0.333 -0.132 0.321 -0.158 0.306C-0.185 0.292 -0.217 0.270 -0.239 0.253C-0.261 0.235 -0.276 0.219 -0.291 0.202C-0.305 0.186 -0.315 0.173 -0.327 0.153Z" fill="#00f0d0" transform="scale(1.012)"/>
<path d="M-0.327 0.153C-0.338 0.133 -0.352 0.107 -0.360 0.082C-0.368 0.056 -0.375 0.027 -0.375 -0.000C-0.374 -0.027 -0.366 -0.055 -0.356 -0.081C-0.346 -0.108 -0.331 -0.135 -0.316 -0.160C-0.301 -0.185 -0.285 -0.207 -0.266 -0.229C-0.247 -0.251 -0.224 -0.273 -0.202 -0.292C-0.179 -0.310 -0.152 -0.326 -0.129 -0.339C-0.105 -0.352 -0.085 -0.363 -0.060 -0.369C-0.036 -0.374 -0.008 -0.375 0.017 -0.373C0.042 -0.371 0.066 -0.366 0.092 -0.356C0.117 -0.347 0.145 -0.333 0.170 -0.316C0.195 -0.300 0.222 -0.279 0.243 -0.259C0.265 -0.238 0.283 -0.213 0.300 -0.191C0.316 -0.168 0.329 -0.148 0.341 -0.124C0.352 -0.101 0.363 -0.075 0.368 -0.050C0.373 -0.024 0.373 0.003 0.369 0.030C0.366 0.057 0.358 0.086 0.347 0.114C0.336 0.141 0.320 0.169 0.303 0.194C0.286 0.219 0.265 0.244 0.243 0.264C0.221 0.284 0.198 0.301 0.172 0.315C0.147 0.329 0.119 0.341 0.091 0.348C0.063 0.354 0.032 0.354 0.004 0.353C-0.025 0.352 -0.052 0.348 -0.079 0.340C-0.106 0.333 -0.132 0.321 -0.158 0.306C-0.185 0.292 -0.217 0.270 -0.239 0.253C-0.261 0.235 -0.276 0.219 -0.291 0.202C-0.305 0.186 -0.315 0.173 -0.327 0.153Z" fill="#00f000" />
<path d="M-0.327 0.153C-0.338 0.133 -0.352 0.107 -0.360 0.082C-0.368 0.056 -0.375 0.027 -0.375 -0.000C-0.374 -0.027 -0.366 -0.055 -0.356 -0.081C-0.346 -0.108 -0.331 -0.135 -0.316 -0.160C-0.301 -0.185 -0.285 -0.207 -0.266 -0.229C-0.247 -0.251 -0.224 -0.273 -0.202 -0.292C-0.179 -0.310 -0.152 -0.326 -0.129 -0.339C-0.105 -0.352 -0.085 -0.363 -0.060 -0.369C-0.036 -0.374 -0.008 -0.375 0.017 -0.373C0.042 -0.371 0.066 -0.366 0.092 -0.356C0.117 -0.347 0.145 -0.333 0.170 -0.316C0.195 -0.300 0.222 -0.279 0.243 -0.259C0.265 -0.238 0.283 -0.213 0.300 -0.191C0.316 -0.168 0.329 -0.148 0.341 -0.124C0.352 -0.101 0.363 -0.075 0.368 -0.050C0.373 -0.024 0.373 0.003 0.369 0.030C0.366 0.057 0.358 0.086 0.347 0.114C0.336 0.141 0.320 0.169 0.303 0.194C0.286 0.219 0.265 0.244 0.243 0.264C0.221 0.284 0.198 0.301 0.172 0.315C0.147 0.329 0.119 0.341 0.091 0.348C0.063 0.354 0.032 0.354 0.004 0.353C-0.025 0.352 -0.052 0.348 -0.079 0.340C-0.106 0.333 -0.132 0.321 -0.158 0.306C-0.185 0.292 -0.217 0.270 -0.239 0.253C-0.261 0.235 -0.276 0.219 -0.291 0.202C-0.305 0.186 -0.315 0.173 -0.327 0.153Z" fill="#3cff00" transform="scale(0.965)"/>
<path d="M-0.079 -0.192C-0.077 -0.196 -0.060 -0.209 -0.048 -0.215C-0.035 -0.222 -0.020 -0.226 -0.006 -0.230C0.008 -0.233 0.028 -0.235 0.037 -0.234C0.046 -0.234 0.050 -0.229 0.049 -0.226C0.048 -0.223 0.039 -0.218 0.028 -0.214C0.018 -0.210 -0.001 -0.207 -0.016 -0.204C-0.030 -0.200 -0.048 -0.194 -0.059 -0.192C-0.069 -0.190 -0.081 -0.188 -0.079 -0.192Z" fill="#dcff00" />
</g>
<g transform="matrix(371.608 107.526 -213.569 185.177 1981.70 631.05)">
<circle r="0.4" fill="#0008f5"/>
<path d="M-0.333 0.160C-0.346 0.139 -0.358 0.121 -0.365 0.099C-0.373 0.076 -0.378 0.052 -0.379 0.026C-0.381 0.000 -0.379 -0.031 -0.373 -0.058C-0.367 -0.085 -0.355 -0.110 -0.342 -0.136C-0.330 -0.162 -0.314 -0.189 -0.296 -0.213C-0.278 -0.237 -0.256 -0.259 -0.234 -0.279C-0.212 -0.299 -0.189 -0.316 -0.164 -0.330C-0.138 -0.344 -0.110 -0.355 -0.082 -0.362C-0.054 -0.370 -0.024 -0.376 0.005 -0.377C0.033 -0.379 0.062 -0.377 0.088 -0.371C0.115 -0.365 0.142 -0.354 0.166 -0.341C0.190 -0.327 0.215 -0.308 0.235 -0.290C0.256 -0.272 0.272 -0.253 0.289 -0.231C0.306 -0.209 0.326 -0.184 0.338 -0.159C0.350 -0.134 0.359 -0.109 0.364 -0.084C0.369 -0.058 0.371 -0.034 0.368 -0.006C0.366 0.022 0.360 0.056 0.350 0.085C0.341 0.114 0.329 0.141 0.313 0.167C0.297 0.193 0.275 0.218 0.255 0.241C0.235 0.264 0.214 0.286 0.191 0.303C0.167 0.321 0.141 0.335 0.113 0.343C0.086 0.352 0.054 0.354 0.025 0.355C-0.005 0.355 -0.037 0.352 -0.065 0.346C-0.093 0.341 -0.118 0.333 -0.144 0.322C-0.171 0.311 -0.201 0.294 -0.225 0.278C-0.249 0.262 -0.270 0.244 -0.288 0.225C-0.306 0.205 -0.320 0.181 -0.333 0.160Z" fill="#00f0d0" transform="scale(1.012)"/>
<path d="M-0.333 0.160C-0.346 0.139 -0.358 0.121 -0.365 0.099C-0.373 0.076 -0.378 0.052 -0.379 0.026C-0.381 0.000 -0.379 -0.031 -0.373 -0.058C-0.367 -0.085 -0.355 -0.110 -0.342 -0.136C-0.330 -0.162 -0.314 -0.189 -0.296 -0.213C-0.278 -0.237 -0.256 -0.259 -0.234 -0.279C-0.212 -0.299 -0.189 -0.316 -0.164 -0.330C-0.138 -0.344 -0.110 -0.355 -0.082 -0.362C-0.054 -0.370 -0.024 -0.376 0.005 -0.377C0.033 -0.379 0.062 -0.377 0.088 -0.371C0.115 -0.365 0.142 -0.354 0.166 -0.341C0.190 -0.327 0.215 -0.308 0.235 -0.290C0.256 -0.272 0.272 -0.253 0.289 -0.231C0.306 -0.209 0.326 -0.184 0.338 -0.159C0.350 -0.134 0.359 -0.109 0.364 -0.084C0.369 -0.058 0.371 -0.034 0.368 -0.006C0.366 0.022 0.360 0.056 0.350 0.085C0.341 0.114 0.329 0.141 0.313 0.167C0.297 0.193 0.275 0.218 0.255 0.241C0.235 0.264 0.214 0.286 0.191 0.303C0.167 0.321 0.141 0.335 0.113 0.343C0.086 0.352 0.054 0.354 0.025 0.355C-0.005 0.355 -0.037 0.352 -0.065 0.346C-0.093 0.341 -0.118 0.333 -0.144 0.322C-0.171 0.311 -0.201 0.294 -0.225 0.278C-0.249 0.262 -0.270 0.244 -0.288 0.225C-0.306 0.205 -0.320 0.181 -0.333 0.160Z" fill="#00f000" />
<path d="M-0.333 0.160C-0.346 0.139 -0.358 0.121 -0.365 0.099C-0.373 0.076 -0.378 0.052 -0.379 0.026C-0.381 0.000 -0.379 -0.031 -0.373 -0.058C-0.367 -0.085 -0.355 -0.110 -0.342 -0.136C-0.330 -0.162 -0.314 -0.189 -0.296 -0.213C-0.278 -0.237 -0.256 -0.259 -0.234 -0.279C-0.212 -0.299 -0.189 -0.316 -0.164 -0.330C-0.138 -0.344 -0.110 -0.355 -0.082 -0.362C-0.054 -0.370 -0.024 -0.376 0.005 -0.377C0.033 -0.379 0.062 -0.377 0.088 -0.371C0.115 -0.365 0.142 -0.354 0.166 -0.341C0.190 -0.327 0.215 -0.308 0.235 -0.290C0.256 -0.272 0.272 -0.253 0.289 -0.231C0.306 -0.209 0.326 -0.184 0.338 -0.159C0.350 -0.134 0.359 -0.109 0.364 -0.084C0.369 -0.058 0.371 -0.034 0.368 -0.006C0.366 0.022 0.360 0.056 0.350 0.085C0.341 0.114 0.329 0.141 0.313 0.167C0.297 0.193 0.275 0.218 0.255 0.241C0.235 0.264 0.214 0.286 0.191 0.303C0.167 0.321 0.141 0.335 0.113 0.343C0.086 0.352 0.054 0.354 0.025 0.355C-0.005 0.355 -0.037 0.352 -0.065 0.346C-0.093 0.341 -0.118 0.333 -0.144 0.322C-0.171 0.311 -0.201 0.294 -0.225 0.278C-0.249 0.262 -0.270 0.244 -0.288 0.225C-0.306 0.205 -0.320 0.181 -0.333 0.160Z" fill="#3cff00" transform="scale(0.975)"/>
<path d="M-0.177 0.039C-0.180 0.025 -0.176 0.005 -0.176 -0.011C-0.175 -0.028 -0.173 -0.043 -0.175 -0.062C-0.177 -0.081 -0.184 -0.110 -0.186 -0.126C-0.189 -0.141 -0.192 -0.150 -0.188 -0.155C-0.184 -0.160 -0.174 -0.152 -0.163 -0.155C-0.152 -0.158 -0.138 -0.164 -0.123 -0.173C-0.109 -0.181 -0.092 -0.196 -0.076 -0.205C-0.061 -0.214 -0.045 -0.222 -0.029 -0.227C-0.014 -0.232 0.001 -0.235 0.017 -0.234C0.033 -0.233 0.050 -0.225 0.064 -0.221C0.079 -0.218 0.089 -0.216 0.104 -0.214C0.118 -0.212 0.137 -0.211 0.150 -0.211C0.164 -0.210 0.179 -0.215 0.185 -0.211C0.192 -0.207 0.192 -0.198 0.189 -0.188C0.185 -0.178 0.175 -0.161 0.166 -0.149C0.156 -0.138 0.140 -0.129 0.132 -0.120C0.125 -0.111 0.120 -0.104 0.122 -0.094C0.125 -0.084 0.142 -0.072 0.148 -0.059C0.154 -0.045 0.155 -0.031 0.158 -0.014C0.161 0.002 0.163 0.023 0.165 0.042C0.168 0.060 0.170 0.081 0.173 0.098C0.175 0.115 0.183 0.132 0.183 0.142C0.183 0.152 0.179 0.156 0.172 0.158C0.165 0.161 0.153 0.154 0.141 0.156C0.129 0.158 0.114 0.165 0.099 0.171C0.084 0.176 0.067 0.184 0.050 0.189C0.033 0.194 0.015 0.198 -0.004 0.200C-0.023 0.203 -0.043 0.203 -0.062 0.204C-0.081 0.205 -0.101 0.206 -0.120 0.207C-0.139 0.209 -0.171 0.218 -0.178 0.211C-0.186 0.204 -0.172 0.175 -0.165 0.163C-0.159 0.152 -0.150 0.147 -0.138 0.142C-0.125 0.138 -0.107 0.137 -0.091 0.135C-0.076 0.134 -0.059 0.133 -0.043 0.133C-0.027 0.133 -0.012 0.135 0.004 0.136C0.020 0.136 0.043 0.140 0.054 0.136C0.066 0.133 0.070 0.124 0.073 0.116C0.075 0.108 0.072 0.094 0.067 0.089C0.062 0.083 0.053 0.084 0.043 0.082C0.034 0.081 0.021 0.085 0.012 0.080C0.004 0.075 -0.006 0.062 -0.009 0.052C-0.012 0.043 -0.004 0.023 -0.007 0.021C-0.009 0.019 -0.017 0.040 -0.025 0.042C-0.033 0.044 -0.045 0.033 -0.055 0.034C-0.064 0.034 -0.075 0.038 -0.083 0.045C-0.091 0.053 -0.097 0.070 -0.104 0.078C-0.112 0.085 -0.119 0.091 -0.127 0.091C-0.135 0.091 -0.147 0.086 -0.155 0.077C-0.163 0.068 -0.173 0.054 -0.177 0.039Z" fill="#dcff00" />
<path d="M-0.365 0.068C-0.371 0.058 -0.375 0.032 -0.376 0.014C-0.377 -0.003 -0.376 -0.025 -0.372 -0.038C-0.368 -0.052 -0.358 -0.063 -0.352 -0.065C-0.345 -0.067 -0.338 -0.061 -0.333 -0.051C-0.329 -0.040 -0.328 -0.020 -0.327 -0.004C-0.326 0.012 -0.326 0.033 -0.328 0.047C-0.330 0.060 -0.333 0.075 -0.339 0.079C-0.346 0.082 -0.359 0.079 -0.365 0.068Z" fill="#dcff00" />
<path d="M-0.071 -0.339C-0.074 -0.345 -0.073 -0.359 -0.063 -0.364C-0.053 -0.369 -0.028 -0.368 -0.010 -0.369C0.007 -0.369 0.028 -0.370 0.040 -0.368C0.052 -0.366 0.061 -0.362 0.064 -0.357C0.067 -0.351 0.068 -0.338 0.060 -0.334C0.051 -0.330 0.028 -0.332 0.011 -0.331C-0.006 -0.330 -0.027 -0.325 -0.041 -0.326C-0.055 -0.327 -0.067 -0.332 -0.071 -0.339Z" fill="#dcff00" />
<path d="M0.329 0.047C0.323 0.037 0.323 0.017 0.322 0.001C0.321 -0.015 0.320 -0.036 0.323 -0.050C0.326 -0.063 0.334 -0.076 0.341 -0.080C0.348 -0.084 0.358 -0.084 0.364 -0.074C0.371 -0.064 0.377 -0.040 0.379 -0.022C0.381 -0.005 0.378 0.017 0.374 0.031C0.371 0.045 0.364 0.058 0.357 0.061C0.349 0.064 0.335 0.057 0.329 0.047Z" fill="#dcff00" />
<path d="M-0.060 0.364C-0.065 0.357 -0.060 0.340 -0.052 0.334C-0.044 0.328 -0.027 0.328 -0.012 0.326C0.003 0.324 0.023 0.321 0.036 0.323C0.050 0.324 0.062 0.328 0.068 0.334C0.074 0.341 0.081 0.355 0.074 0.361C0.067 0.368 0.042 0.371 0.026 0.374C0.010 0.377 -0.008 0.379 -0.023 0.377C-0.037 0.375 -0.055 0.371 -0.060 0.364Z" fill="#dcff00" />
<path d="M-0.091 -0.061C-0.096 -0.070 -0.104 -0.087 -0.105 -0.098C-0.106 -0.108 -0.101 -0.118 -0.095 -0.124C-0.089 -0.129 -0.076 -0.132 -0.068 -0.129C-0.060 -0.126 -0.052 -0.116 -0.047 -0.106C-0.043 -0.096 -0.041 -0.079 -0.043 -0.068C-0.045 -0.058 -0.053 -0.048 -0.059 -0.044C-0.065 -0.040 -0.073 -0.040 -0.079 -0.043C-0.084 -0.046 -0.087 -0.051 -0.091 -0.061Z" fill="#3cff00" />
</g>
<g transform="matrix(371.608 107.526 -213.569 185.177 1981.70 389.35)">
<circle r="0.4" fill="#0008f5"/>
<circle r="0.386" fill="#00c8ff"/>
<circle r="0.382" fill="#00f0d0"/>
<circle r="0.378" fill="#00f000"/>
<circle r="0.368" fill="#3cff00"/>
<g clip-path="url(#clip2)">
<path d="M-0.342 0.139C-0.352 0.132 -0.363 0.104 -0.369 0.084C-0.375 0.064 -0.378 0.039 -0.378 0.019C-0.379 -0.000 -0.374 -0.017 -0.370 -0.036C-0.366 -0.054 -0.359 -0.078 -0.352 -0.091C-0.345 -0.104 -0.338 -0.111 -0.330 -0.114C-0.322 -0.117 -0.310 -0.115 -0.302 -0.110C-0.295 -0.105 -0.290 -0.093 -0.287 -0.084C-0.285 -0.074 -0.289 -0.063 -0.286 -0.054C-0.283 -0.046 -0.276 -0.037 -0.269 -0.034C-0.262 -0.032 -0.250 -0.035 -0.242 -0.040C-0.234 -0.044 -0.225 -0.051 -0.220 -0.062C-0.216 -0.073 -0.213 -0.090 -0.215 -0.106C-0.216 -0.121 -0.226 -0.141 -0.230 -0.157C-0.233 -0.174 -0.237 -0.194 -0.236 -0.204C-0.236 -0.213 -0.235 -0.216 -0.227 -0.214C-0.219 -0.212 -0.202 -0.198 -0.189 -0.191C-0.176 -0.184 -0.162 -0.176 -0.149 -0.174C-0.136 -0.172 -0.122 -0.173 -0.110 -0.176C-0.099 -0.180 -0.088 -0.186 -0.080 -0.194C-0.072 -0.202 -0.067 -0.212 -0.063 -0.224C-0.058 -0.237 -0.055 -0.256 -0.054 -0.270C-0.053 -0.284 -0.052 -0.299 -0.056 -0.308C-0.060 -0.318 -0.068 -0.325 -0.076 -0.327C-0.085 -0.328 -0.098 -0.319 -0.107 -0.319C-0.116 -0.319 -0.131 -0.319 -0.131 -0.325C-0.130 -0.332 -0.118 -0.347 -0.103 -0.356C-0.088 -0.365 -0.063 -0.374 -0.041 -0.378C-0.018 -0.382 0.009 -0.383 0.033 -0.380C0.057 -0.377 0.084 -0.368 0.104 -0.361C0.124 -0.354 0.144 -0.349 0.152 -0.339C0.160 -0.328 0.150 -0.311 0.151 -0.298C0.151 -0.285 0.151 -0.269 0.157 -0.261C0.162 -0.253 0.174 -0.249 0.185 -0.247C0.195 -0.245 0.210 -0.250 0.220 -0.247C0.229 -0.244 0.238 -0.239 0.240 -0.229C0.243 -0.219 0.240 -0.200 0.235 -0.186C0.230 -0.171 0.214 -0.153 0.210 -0.141C0.207 -0.129 0.209 -0.122 0.214 -0.113C0.219 -0.105 0.231 -0.098 0.241 -0.089C0.250 -0.079 0.260 -0.060 0.270 -0.055C0.279 -0.051 0.287 -0.055 0.297 -0.061C0.306 -0.066 0.319 -0.077 0.326 -0.088C0.333 -0.099 0.333 -0.132 0.339 -0.126C0.346 -0.120 0.362 -0.079 0.367 -0.052C0.373 -0.025 0.375 0.013 0.372 0.036C0.370 0.059 0.361 0.078 0.352 0.088C0.344 0.098 0.331 0.097 0.321 0.096C0.312 0.095 0.300 0.088 0.293 0.082C0.287 0.075 0.290 0.064 0.284 0.057C0.279 0.050 0.270 0.041 0.260 0.041C0.250 0.040 0.230 0.043 0.222 0.053C0.214 0.063 0.212 0.081 0.213 0.098C0.214 0.116 0.223 0.141 0.228 0.160C0.233 0.179 0.243 0.201 0.243 0.212C0.243 0.222 0.239 0.226 0.230 0.224C0.222 0.222 0.205 0.207 0.192 0.201C0.178 0.195 0.162 0.186 0.148 0.186C0.134 0.186 0.119 0.191 0.106 0.200C0.093 0.210 0.079 0.228 0.070 0.242C0.061 0.255 0.053 0.272 0.053 0.282C0.053 0.292 0.061 0.300 0.070 0.302C0.078 0.305 0.097 0.295 0.106 0.296C0.116 0.297 0.121 0.302 0.126 0.309C0.132 0.317 0.144 0.334 0.138 0.343C0.132 0.351 0.109 0.357 0.089 0.361C0.068 0.366 0.037 0.369 0.013 0.370C-0.011 0.370 -0.034 0.368 -0.055 0.364C-0.076 0.360 -0.096 0.353 -0.110 0.346C-0.125 0.340 -0.138 0.335 -0.143 0.325C-0.148 0.314 -0.139 0.296 -0.141 0.284C-0.143 0.272 -0.146 0.258 -0.155 0.252C-0.164 0.245 -0.182 0.245 -0.194 0.244C-0.206 0.243 -0.221 0.248 -0.229 0.244C-0.237 0.241 -0.242 0.232 -0.242 0.222C-0.242 0.212 -0.233 0.197 -0.229 0.184C-0.224 0.171 -0.215 0.158 -0.215 0.146C-0.216 0.134 -0.221 0.124 -0.229 0.114C-0.237 0.103 -0.253 0.089 -0.262 0.083C-0.271 0.076 -0.279 0.074 -0.286 0.076C-0.293 0.079 -0.299 0.088 -0.304 0.097C-0.308 0.105 -0.305 0.120 -0.312 0.127C-0.318 0.134 -0.333 0.146 -0.342 0.139Z" fill="#dcff00" />
<path d="M-0.055 0.007C-0.082 0.000 -0.162 -0.020 -0.214 -0.026C-0.266 -0.032 -0.338 -0.036 -0.366 -0.028C-0.394 -0.020 -0.382 0.008 -0.382 0.022C-0.383 0.035 -0.386 0.051 -0.369 0.054C-0.351 0.057 -0.308 0.044 -0.276 0.041C-0.245 0.037 -0.217 0.039 -0.179 0.035C-0.142 0.031 -0.070 0.021 -0.049 0.017C-0.029 0.012 -0.027 0.014 -0.055 0.007Z" fill="#ffe600" />
<path d="M-0.010 -0.064C-0.018 -0.087 -0.024 -0.160 -0.031 -0.208C-0.037 -0.256 -0.061 -0.325 -0.051 -0.352C-0.041 -0.378 0.018 -0.392 0.030 -0.368C0.042 -0.345 0.022 -0.262 0.020 -0.212C0.017 -0.161 0.019 -0.090 0.014 -0.065C0.009 -0.041 -0.003 -0.040 -0.010 -0.064Z" fill="#ffe600" />
<path d="M0.047 -0.007C0.077 -0.013 0.179 -0.026 0.232 -0.034C0.286 -0.041 0.343 -0.064 0.367 -0.052C0.391 -0.039 0.399 0.025 0.377 0.043C0.354 0.061 0.287 0.062 0.234 0.056C0.180 0.050 0.086 0.017 0.055 0.006C0.024 -0.004 0.018 0.000 0.047 -0.007Z" fill="#ffe600" />
<path d="M0.001 0.061C-0.005 0.086 -0.015 0.169 -0.023 0.220C-0.031 0.272 -0.057 0.344 -0.047 0.370C-0.036 0.395 0.029 0.400 0.041 0.374C0.053 0.349 0.030 0.268 0.026 0.217C0.021 0.166 0.016 0.096 0.012 0.070C0.008 0.044 0.007 0.036 0.001 0.061Z" fill="#ffe600" />
<path d="M-0.070 0.006C-0.089 0.003 -0.143 -0.004 -0.178 -0.006C-0.213 -0.009 -0.247 -0.009 -0.279 -0.008C-0.311 -0.007 -0.355 -0.007 -0.370 -0.001C-0.385 0.006 -0.386 0.025 -0.368 0.029C-0.350 0.032 -0.296 0.023 -0.262 0.022C-0.227 0.021 -0.193 0.025 -0.161 0.024C-0.128 0.022 -0.081 0.017 -0.066 0.014C-0.051 0.011 -0.052 0.010 -0.070 0.006Z" fill="#ffb800" />
<path d="M-0.005 -0.077C-0.008 -0.098 -0.010 -0.156 -0.015 -0.202C-0.019 -0.248 -0.036 -0.326 -0.031 -0.353C-0.027 -0.380 0.006 -0.381 0.013 -0.363C0.020 -0.346 0.011 -0.286 0.010 -0.246C0.009 -0.206 0.007 -0.152 0.006 -0.123C0.004 -0.094 0.003 -0.078 0.001 -0.070C-0.001 -0.063 -0.003 -0.055 -0.005 -0.077Z" fill="#ffb800" />
<path d="M0.063 -0.006C0.084 -0.008 0.147 -0.009 0.195 -0.012C0.242 -0.014 0.321 -0.027 0.350 -0.021C0.378 -0.016 0.386 0.013 0.364 0.021C0.341 0.029 0.266 0.029 0.216 0.026C0.167 0.023 0.094 0.009 0.068 0.003C0.043 -0.002 0.042 -0.003 0.063 -0.006Z" fill="#ffb800" />
<path d="M-0.000 0.076C-0.004 0.099 -0.008 0.171 -0.013 0.219C-0.018 0.268 -0.033 0.344 -0.027 0.369C-0.021 0.394 0.017 0.393 0.023 0.369C0.029 0.346 0.013 0.273 0.011 0.226C0.008 0.178 0.009 0.109 0.007 0.084C0.006 0.059 0.003 0.054 -0.000 0.076Z" fill="#ffb800" />
<path d="M-0.091 0.008C-0.107 0.007 -0.154 0.004 -0.184 0.003C-0.214 0.001 -0.243 0.001 -0.271 0.002C-0.298 0.002 -0.336 0.003 -0.349 0.006C-0.361 0.008 -0.363 0.017 -0.347 0.019C-0.332 0.020 -0.285 0.016 -0.256 0.016C-0.226 0.015 -0.197 0.017 -0.169 0.016C-0.141 0.015 -0.100 0.013 -0.087 0.012C-0.074 0.010 -0.075 0.010 -0.091 0.008Z" fill="#ff9800" />
<path d="M-0.003 -0.095C-0.004 -0.113 -0.006 -0.163 -0.008 -0.202C-0.011 -0.242 -0.019 -0.309 -0.017 -0.332C-0.016 -0.355 -0.001 -0.356 0.002 -0.341C0.006 -0.326 0.002 -0.275 0.002 -0.240C0.002 -0.206 0.002 -0.160 0.002 -0.134C0.001 -0.109 0.001 -0.096 0.000 -0.089C-0.001 -0.082 -0.001 -0.076 -0.003 -0.095Z" fill="#ff9800" />
<path d="M0.083 -0.002C0.102 -0.003 0.156 -0.003 0.197 -0.004C0.238 -0.005 0.306 -0.010 0.330 -0.008C0.354 -0.005 0.361 0.008 0.342 0.011C0.323 0.015 0.258 0.014 0.215 0.013C0.173 0.011 0.110 0.004 0.088 0.002C0.066 -0.001 0.065 -0.001 0.083 -0.002Z" fill="#ff9800" />
<path d="M0.001 0.097C-0.001 0.116 -0.003 0.178 -0.006 0.220C-0.008 0.262 -0.016 0.327 -0.013 0.348C-0.011 0.370 0.006 0.369 0.009 0.349C0.012 0.328 0.006 0.266 0.005 0.225C0.004 0.185 0.005 0.125 0.004 0.104C0.004 0.082 0.003 0.078 0.001 0.097Z" fill="#ff9800" />
</g>
</g>
<polygon points="1958.7,390.5 1961.0,385.0 1968.0,380.7 1979.0,378.5 1990.0,379.0 1999.0,381.8 2004.5,386.5 2005.2,392.0 2004.8,396.0 1999.0,399.0 1990.0,401.3 1982.5,402.2 1974.0,399.8 1962.5,395.8" fill="#a8a8a8"/>
<path d="M1962.5 396.2 L1982.5 402.6" stroke="#2e2e2e" stroke-width="1.7" fill="none"/>
<path d="M2003.2 385.5 L2003.2 396.0" stroke="#3a3a3a" stroke-width="1.2" fill="none"/>
<ellipse cx="1982.7" cy="389.2" rx="10" ry="5.3" fill="#ff0000"/>
<g transform="matrix(371.608 107.526 -213.569 185.177 1981.70 147.65)">
<circle r="0.4" fill="#00e400"/>
<circle r="0.39" fill="#30f800"/>
<circle r="0.383" fill="#78ff00"/>
<circle r="0.376" fill="#b4ff00"/>
<circle r="0.369" fill="#dcff00"/>
<g clip-path="url(#clip1)">
<path d="M-0.356 0.081C-0.362 0.068 -0.374 0.049 -0.378 0.033C-0.382 0.017 -0.381 0.001 -0.379 -0.017C-0.377 -0.034 -0.371 -0.053 -0.365 -0.070C-0.358 -0.087 -0.349 -0.105 -0.339 -0.120C-0.328 -0.136 -0.315 -0.151 -0.302 -0.162C-0.289 -0.172 -0.273 -0.179 -0.259 -0.182C-0.244 -0.184 -0.230 -0.183 -0.216 -0.177C-0.201 -0.171 -0.186 -0.157 -0.173 -0.146C-0.160 -0.135 -0.147 -0.124 -0.136 -0.112C-0.125 -0.101 -0.111 -0.087 -0.105 -0.075C-0.098 -0.063 -0.097 -0.052 -0.097 -0.040C-0.097 -0.028 -0.102 -0.015 -0.106 -0.004C-0.111 0.007 -0.122 0.016 -0.124 0.026C-0.126 0.037 -0.121 0.048 -0.120 0.059C-0.119 0.070 -0.115 0.081 -0.116 0.092C-0.117 0.103 -0.120 0.118 -0.128 0.124C-0.136 0.130 -0.150 0.129 -0.164 0.130C-0.179 0.132 -0.196 0.133 -0.213 0.133C-0.229 0.134 -0.247 0.134 -0.263 0.132C-0.279 0.131 -0.296 0.128 -0.309 0.123C-0.321 0.119 -0.331 0.113 -0.339 0.106C-0.347 0.099 -0.349 0.093 -0.356 0.081Z" fill="#ffe600" />
<path d="M-0.124 0.132C-0.118 0.122 -0.115 0.109 -0.112 0.100C-0.109 0.090 -0.111 0.079 -0.106 0.076C-0.100 0.073 -0.089 0.078 -0.077 0.082C-0.066 0.085 -0.048 0.090 -0.036 0.096C-0.025 0.103 -0.021 0.114 -0.010 0.121C0.001 0.128 0.017 0.135 0.030 0.138C0.043 0.141 0.059 0.138 0.070 0.137C0.081 0.136 0.086 0.129 0.096 0.130C0.105 0.131 0.116 0.135 0.126 0.143C0.136 0.150 0.149 0.163 0.157 0.175C0.164 0.187 0.170 0.202 0.171 0.217C0.172 0.232 0.167 0.247 0.162 0.262C0.157 0.278 0.150 0.296 0.140 0.311C0.129 0.325 0.116 0.339 0.101 0.348C0.086 0.357 0.069 0.363 0.052 0.367C0.034 0.370 0.014 0.372 -0.006 0.370C-0.027 0.369 -0.050 0.364 -0.069 0.357C-0.089 0.349 -0.106 0.339 -0.122 0.327C-0.137 0.314 -0.153 0.296 -0.163 0.280C-0.173 0.264 -0.180 0.246 -0.182 0.231C-0.184 0.216 -0.180 0.203 -0.174 0.191C-0.169 0.180 -0.156 0.170 -0.147 0.160C-0.139 0.150 -0.129 0.142 -0.124 0.132Z" fill="#ffe600" />
<path d="M-0.114 -0.140C-0.122 -0.142 -0.135 -0.158 -0.140 -0.171C-0.145 -0.184 -0.146 -0.201 -0.144 -0.218C-0.143 -0.235 -0.137 -0.254 -0.130 -0.272C-0.123 -0.289 -0.115 -0.307 -0.104 -0.322C-0.092 -0.337 -0.077 -0.352 -0.062 -0.362C-0.046 -0.372 -0.027 -0.379 -0.008 -0.383C0.010 -0.386 0.030 -0.385 0.048 -0.380C0.066 -0.376 0.085 -0.367 0.102 -0.356C0.118 -0.345 0.135 -0.329 0.147 -0.312C0.159 -0.296 0.169 -0.274 0.174 -0.257C0.179 -0.240 0.179 -0.224 0.177 -0.209C0.175 -0.193 0.169 -0.178 0.162 -0.165C0.155 -0.152 0.142 -0.138 0.137 -0.130C0.132 -0.122 0.134 -0.126 0.132 -0.117C0.129 -0.108 0.127 -0.084 0.122 -0.077C0.118 -0.069 0.116 -0.067 0.105 -0.072C0.095 -0.076 0.074 -0.091 0.061 -0.101C0.048 -0.111 0.035 -0.121 0.028 -0.132C0.021 -0.143 0.024 -0.159 0.020 -0.168C0.016 -0.177 0.011 -0.185 0.004 -0.187C-0.003 -0.188 -0.015 -0.176 -0.024 -0.175C-0.034 -0.175 -0.043 -0.185 -0.054 -0.183C-0.065 -0.181 -0.082 -0.168 -0.092 -0.161C-0.102 -0.154 -0.106 -0.138 -0.114 -0.140Z" fill="#ffe600" />
<path d="M0.138 -0.045C0.137 -0.061 0.130 -0.098 0.136 -0.110C0.142 -0.121 0.160 -0.115 0.174 -0.117C0.189 -0.118 0.206 -0.119 0.223 -0.120C0.239 -0.120 0.257 -0.120 0.273 -0.119C0.290 -0.118 0.309 -0.117 0.322 -0.112C0.336 -0.107 0.347 -0.101 0.355 -0.091C0.362 -0.080 0.367 -0.065 0.369 -0.049C0.370 -0.033 0.368 -0.014 0.364 0.004C0.360 0.022 0.354 0.043 0.346 0.060C0.338 0.077 0.326 0.095 0.314 0.109C0.302 0.122 0.288 0.137 0.273 0.142C0.259 0.148 0.242 0.143 0.229 0.143C0.215 0.143 0.203 0.144 0.194 0.143C0.184 0.143 0.182 0.147 0.170 0.142C0.159 0.137 0.138 0.121 0.126 0.112C0.114 0.104 0.104 0.100 0.098 0.088C0.092 0.077 0.090 0.056 0.091 0.044C0.093 0.031 0.101 0.024 0.109 0.014C0.118 0.004 0.138 -0.006 0.142 -0.016C0.147 -0.026 0.139 -0.030 0.138 -0.045Z" fill="#ffe600" />
<path d="M-0.142 0.112C-0.145 0.103 -0.133 0.096 -0.130 0.085C-0.127 0.075 -0.128 0.054 -0.123 0.051C-0.118 0.048 -0.104 0.060 -0.100 0.068C-0.097 0.076 -0.100 0.087 -0.102 0.099C-0.104 0.111 -0.107 0.139 -0.113 0.141C-0.120 0.143 -0.139 0.122 -0.142 0.112Z" fill="#ffe600" />
<path d="M0.114 -0.057C0.109 -0.066 0.117 -0.079 0.120 -0.090C0.122 -0.101 0.123 -0.119 0.128 -0.122C0.133 -0.125 0.146 -0.117 0.150 -0.107C0.154 -0.098 0.151 -0.076 0.150 -0.063C0.150 -0.050 0.153 -0.031 0.147 -0.030C0.140 -0.029 0.118 -0.047 0.114 -0.057Z" fill="#ffe600" />
</g>
</g>
<polygon points="1958.7,148.8 1961.0,143.2 1968.0,138.9 1979.0,136.8 1990.0,137.2 1999.0,140.1 2004.5,144.8 2005.2,150.2 2004.8,154.2 1999.0,157.2 1990.0,159.6 1982.5,160.4 1974.0,158.1 1962.5,154.1" fill="#a8a8a8"/>
<path d="M1962.5 154.4 L1982.5 160.8" stroke="#2e2e2e" stroke-width="1.7" fill="none"/>
<path d="M2003.2 143.8 L2003.2 154.2" stroke="#3a3a3a" stroke-width="1.2" fill="none"/>
<ellipse cx="1982.7" cy="147.4" rx="10" ry="5.3" fill="#ff0000"/>
<text x="1700.6" y="197.0" font-size="26.8" text-anchor="middle" font-family="'Liberation Serif', serif" >0</text>
<text x="1686.1" y="310.6" font-size="26.8" text-anchor="middle" font-family="'Liberation Serif', serif" >0.05</text>
<text x="1686.2" y="438.4" font-size="26.8" text-anchor="middle" font-family="'Liberation Serif', serif" >0.1</text>
<text x="1687.5" y="564.9" font-size="26.8" text-anchor="middle" font-family="'Liberation Serif', serif" >0.15</text>
<text x="1688.2" y="692.5" font-size="26.8" text-anchor="middle" font-family="'Liberation Serif', serif" >0.2</text>
<text x="1686.1" y="806.3" font-size="26.8" text-anchor="middle" font-family="'Liberation Serif', serif" >0.25</text>
<text x="1689.6" y="922.7" font-size="26.8" text-anchor="middle" font-family="'Liberation Serif', serif" >0.3</text>
<text x="1640.5" y="564.9" font-size="26.8" text-anchor="middle" font-family="'Liberation Serif', serif" >Z</text>
<text x="1709.0" y="972.7" font-size="26.8" text-anchor="middle" font-family="'Liberation Serif', serif" >-0.4</text>
<text x="1787.6" y="996.6" font-size="26.8" text-anchor="middle" font-family="'Liberation Serif', serif" >-0.2</text>
<text x="1882.4" y="1020.4" font-size="26.8" text-anchor="middle" font-family="'Liberation Serif', serif" >0</text>
<text x="1953.8" y="1043.4" font-size="26.8" text-anchor="middle" font-family="'Liberation Serif', serif" >0.2</text>
<text x="2025.6" y="1061.8" font-size="26.8" text-anchor="middle" font-family="'Liberation Serif', serif" >0.4</text>
<text x="1860.6" y="1052.4" font-size="26.8" text-anchor="middle" font-family="'Liberation Serif', serif" >X</text>
<text x="2081.8" y="1056.0" font-size="26.8" text-anchor="middle" font-family="'Liberation Serif', serif" >0.4</text>
<text x="2122.9" y="1017.6" font-size="26.8" text-anchor="middle" font-family="'Liberation Serif', serif" >0.2</text>
<text x="2167.6" y="976.4" font-size="26.8" text-anchor="middle" font-family="'Liberation Serif', serif" >0</text>
<text x="2210.7" y="937.4" font-size="26.8" text-anchor="middle" font-family="'Liberation Serif', serif" >-0.2</text>
<text x="2262.8" y="896.6" font-size="26.8" text-anchor="middle" font-family="'Liberation Serif', serif" >-0.4</text>
<text x="2228.5" y="989.4" font-size="26.8" text-anchor="middle" font-family="'Liberation Serif', serif" >Y</text>
<text x="1741.7" y="127.5" font-size="74" text-anchor="middle" font-family="'Liberation Serif', serif" stroke="#000" stroke-width="1.3">(c)</text>
<!-- panel d -->
<polygon points="663.8,1247.1 854.7,1080.3 854.7,1836.8 663.8,2003.6" fill="#ababab"/>
<polygon points="854.7,1080.3 1185.5,1176.4 1185.5,1932.9 854.7,1836.8" fill="#ababab"/>
<polygon points="663.8,2003.6 854.7,1836.8 1185.5,1932.9 994.6,2099.7" fill="#c7c7c7"/>
<g stroke-linecap="square"><line x1="663.8" y1="1247.1" x2="854.7" y2="1080.3" stroke="#262626" stroke-width="1.2"/><line x1="854.7" y1="1080.3" x2="1185.5" y2="1176.4" stroke="#262626" stroke-width="1.2"/><line x1="663.8" y1="1247.1" x2="663.8" y2="2003.6" stroke="#262626" stroke-width="1.2"/><line x1="854.7" y1="1080.3" x2="854.7" y2="1836.8" stroke="#262626" stroke-width="1.2"/><line x1="1185.5" y1="1176.4" x2="1185.5" y2="1932.9" stroke="#262626" stroke-width="1.2"/><line x1="663.8" y1="2003.6" x2="854.7" y2="1836.8" stroke="#262626" stroke-width="1.2"/><line x1="854.7" y1="1836.8" x2="1185.5" y2="1932.9" stroke="#262626" stroke-width="1.2"/><line x1="663.8" y1="2003.6" x2="994.6" y2="2099.7" stroke="#262626" stroke-width="1.2"/><line x1="994.6" y1="2099.7" x2="1185.5" y2="1932.9" stroke="#262626" stroke-width="1.2"/><line x1="846.3" y1="1087.6" x2="846.3" y2="1844.1" stroke="#262626" stroke-width="1.0"/><line x1="869.2" y1="1084.5" x2="869.2" y2="1841.0" stroke="#262626" stroke-width="1.0"/><line x1="869.2" y1="1841.0" x2="678.3" y2="2007.8" stroke="#262626" stroke-width="1.0"/><line x1="846.3" y1="1844.1" x2="1177.1" y2="1940.2" stroke="#262626" stroke-width="1.0"/><line x1="802.8" y1="1125.7" x2="802.8" y2="1882.2" stroke="#262626" stroke-width="1.0"/><line x1="944.7" y1="1106.4" x2="944.7" y2="1862.9" stroke="#262626" stroke-width="1.0"/><line x1="944.7" y1="1862.9" x2="753.8" y2="2029.7" stroke="#262626" stroke-width="1.0"/><line x1="802.8" y1="1882.2" x2="1133.6" y2="1978.3" stroke="#262626" stroke-width="1.0"/><line x1="759.2" y1="1163.7" x2="759.2" y2="1920.2" stroke="#262626" stroke-width="1.0"/><line x1="1020.1" y1="1128.3" x2="1020.1" y2="1884.8" stroke="#262626" stroke-width="1.0"/><line x1="1020.1" y1="1884.8" x2="829.2" y2="2051.7" stroke="#262626" stroke-width="1.0"/><line x1="759.2" y1="1920.2" x2="1090.0" y2="2016.3" stroke="#262626" stroke-width="1.0"/><line x1="715.7" y1="1201.7" x2="715.7" y2="1958.2" stroke="#262626" stroke-width="1.0"/><line x1="1095.5" y1="1150.3" x2="1095.5" y2="1906.8" stroke="#262626" stroke-width="1.0"/><line x1="1095.5" y1="1906.8" x2="904.6" y2="2073.6" stroke="#262626" stroke-width="1.0"/><line x1="715.7" y1="1958.2" x2="1046.5" y2="2054.3" stroke="#262626" stroke-width="1.0"/><line x1="672.2" y1="1239.8" x2="672.2" y2="1996.3" stroke="#262626" stroke-width="1.0"/><line x1="1171.0" y1="1172.2" x2="1171.0" y2="1928.7" stroke="#262626" stroke-width="1.0"/><line x1="1171.0" y1="1928.7" x2="980.1" y2="2095.5" stroke="#262626" stroke-width="1.0"/><line x1="672.2" y1="1996.3" x2="1003.0" y2="2092.4" stroke="#262626" stroke-width="1.0"/><line x1="663.8" y1="1369.0" x2="854.7" y2="1202.2" stroke="#262626" stroke-width="1.0"/><line x1="854.7" y1="1202.2" x2="1185.5" y2="1298.3" stroke="#262626" stroke-width="1.0"/><line x1="663.8" y1="1491.0" x2="854.7" y2="1324.2" stroke="#262626" stroke-width="1.0"/><line x1="854.7" y1="1324.2" x2="1185.5" y2="1420.3" stroke="#262626" stroke-width="1.0"/><line x1="663.8" y1="1612.9" x2="854.7" y2="1446.1" stroke="#262626" stroke-width="1.0"/><line x1="854.7" y1="1446.1" x2="1185.5" y2="1542.2" stroke="#262626" stroke-width="1.0"/><line x1="663.8" y1="1734.8" x2="854.7" y2="1568.0" stroke="#262626" stroke-width="1.0"/><line x1="854.7" y1="1568.0" x2="1185.5" y2="1664.1" stroke="#262626" stroke-width="1.0"/><line x1="663.8" y1="1856.8" x2="854.7" y2="1690.0" stroke="#262626" stroke-width="1.0"/><line x1="854.7" y1="1690.0" x2="1185.5" y2="1786.1" stroke="#262626" stroke-width="1.0"/><line x1="663.8" y1="1978.7" x2="854.7" y2="1811.9" stroke="#262626" stroke-width="1.0"/><line x1="854.7" y1="1811.9" x2="1185.5" y2="1908.0" stroke="#262626" stroke-width="1.0"/></g>
<g transform="matrix(377.195 109.578 -217.674 190.194 924.65 1945.45)">
<circle r="0.4" fill="#0008f5"/>
<path d="M-0.325 0.153C-0.336 0.135 -0.349 0.116 -0.357 0.093C-0.365 0.070 -0.373 0.041 -0.373 0.014C-0.373 -0.013 -0.366 -0.042 -0.356 -0.069C-0.347 -0.095 -0.331 -0.121 -0.317 -0.145C-0.302 -0.170 -0.288 -0.195 -0.269 -0.217C-0.251 -0.239 -0.228 -0.259 -0.206 -0.278C-0.184 -0.296 -0.160 -0.314 -0.136 -0.328C-0.112 -0.342 -0.086 -0.354 -0.061 -0.361C-0.037 -0.368 -0.012 -0.371 0.013 -0.369C0.037 -0.368 0.061 -0.362 0.086 -0.353C0.112 -0.344 0.141 -0.332 0.167 -0.316C0.192 -0.301 0.217 -0.280 0.239 -0.260C0.260 -0.240 0.279 -0.218 0.296 -0.195C0.313 -0.172 0.330 -0.148 0.342 -0.124C0.354 -0.099 0.361 -0.075 0.365 -0.049C0.369 -0.024 0.370 0.002 0.366 0.029C0.362 0.055 0.355 0.083 0.344 0.110C0.333 0.137 0.318 0.164 0.300 0.189C0.283 0.213 0.262 0.237 0.241 0.257C0.220 0.278 0.198 0.297 0.173 0.311C0.149 0.325 0.121 0.336 0.093 0.343C0.065 0.349 0.036 0.349 0.007 0.348C-0.021 0.347 -0.052 0.342 -0.079 0.334C-0.107 0.327 -0.131 0.315 -0.158 0.301C-0.184 0.287 -0.217 0.267 -0.239 0.250C-0.261 0.234 -0.277 0.218 -0.291 0.202C-0.306 0.186 -0.314 0.171 -0.325 0.153Z" fill="#00f0d0" transform="scale(1.012)"/>
<path d="M-0.325 0.153C-0.336 0.135 -0.349 0.116 -0.357 0.093C-0.365 0.070 -0.373 0.041 -0.373 0.014C-0.373 -0.013 -0.366 -0.042 -0.356 -0.069C-0.347 -0.095 -0.331 -0.121 -0.317 -0.145C-0.302 -0.170 -0.288 -0.195 -0.269 -0.217C-0.251 -0.239 -0.228 -0.259 -0.206 -0.278C-0.184 -0.296 -0.160 -0.314 -0.136 -0.328C-0.112 -0.342 -0.086 -0.354 -0.061 -0.361C-0.037 -0.368 -0.012 -0.371 0.013 -0.369C0.037 -0.368 0.061 -0.362 0.086 -0.353C0.112 -0.344 0.141 -0.332 0.167 -0.316C0.192 -0.301 0.217 -0.280 0.239 -0.260C0.260 -0.240 0.279 -0.218 0.296 -0.195C0.313 -0.172 0.330 -0.148 0.342 -0.124C0.354 -0.099 0.361 -0.075 0.365 -0.049C0.369 -0.024 0.370 0.002 0.366 0.029C0.362 0.055 0.355 0.083 0.344 0.110C0.333 0.137 0.318 0.164 0.300 0.189C0.283 0.213 0.262 0.237 0.241 0.257C0.220 0.278 0.198 0.297 0.173 0.311C0.149 0.325 0.121 0.336 0.093 0.343C0.065 0.349 0.036 0.349 0.007 0.348C-0.021 0.347 -0.052 0.342 -0.079 0.334C-0.107 0.327 -0.131 0.315 -0.158 0.301C-0.184 0.287 -0.217 0.267 -0.239 0.250C-0.261 0.234 -0.277 0.218 -0.291 0.202C-0.306 0.186 -0.314 0.171 -0.325 0.153Z" fill="#00f000" />
<path d="M-0.325 0.153C-0.336 0.135 -0.349 0.116 -0.357 0.093C-0.365 0.070 -0.373 0.041 -0.373 0.014C-0.373 -0.013 -0.366 -0.042 -0.356 -0.069C-0.347 -0.095 -0.331 -0.121 -0.317 -0.145C-0.302 -0.170 -0.288 -0.195 -0.269 -0.217C-0.251 -0.239 -0.228 -0.259 -0.206 -0.278C-0.184 -0.296 -0.160 -0.314 -0.136 -0.328C-0.112 -0.342 -0.086 -0.354 -0.061 -0.361C-0.037 -0.368 -0.012 -0.371 0.013 -0.369C0.037 -0.368 0.061 -0.362 0.086 -0.353C0.112 -0.344 0.141 -0.332 0.167 -0.316C0.192 -0.301 0.217 -0.280 0.239 -0.260C0.260 -0.240 0.279 -0.218 0.296 -0.195C0.313 -0.172 0.330 -0.148 0.342 -0.124C0.354 -0.099 0.361 -0.075 0.365 -0.049C0.369 -0.024 0.370 0.002 0.366 0.029C0.362 0.055 0.355 0.083 0.344 0.110C0.333 0.137 0.318 0.164 0.300 0.189C0.283 0.213 0.262 0.237 0.241 0.257C0.220 0.278 0.198 0.297 0.173 0.311C0.149 0.325 0.121 0.336 0.093 0.343C0.065 0.349 0.036 0.349 0.007 0.348C-0.021 0.347 -0.052 0.342 -0.079 0.334C-0.107 0.327 -0.131 0.315 -0.158 0.301C-0.184 0.287 -0.217 0.267 -0.239 0.250C-0.261 0.234 -0.277 0.218 -0.291 0.202C-0.306 0.186 -0.314 0.171 -0.325 0.153Z" fill="#3cff00" transform="scale(0.965)"/>
<path d="M-0.114 -0.174C-0.115 -0.178 -0.098 -0.193 -0.087 -0.200C-0.075 -0.206 -0.060 -0.210 -0.045 -0.214C-0.030 -0.217 -0.012 -0.221 0.004 -0.222C0.019 -0.224 0.037 -0.224 0.048 -0.223C0.059 -0.222 0.068 -0.219 0.069 -0.216C0.070 -0.213 0.062 -0.209 0.052 -0.206C0.043 -0.204 0.026 -0.204 0.011 -0.202C-0.004 -0.200 -0.023 -0.197 -0.039 -0.193C-0.054 -0.189 -0.067 -0.182 -0.080 -0.179C-0.092 -0.176 -0.113 -0.171 -0.114 -0.174Z" fill="#dcff00" />
<path d="M-0.034 0.191C-0.029 0.189 -0.010 0.191 0.004 0.188C0.018 0.186 0.034 0.182 0.047 0.178C0.061 0.174 0.078 0.165 0.087 0.162C0.097 0.159 0.104 0.157 0.106 0.159C0.107 0.162 0.104 0.171 0.096 0.177C0.088 0.182 0.071 0.189 0.056 0.193C0.041 0.197 0.020 0.200 0.007 0.202C-0.007 0.203 -0.017 0.201 -0.024 0.200C-0.031 0.198 -0.039 0.193 -0.034 0.191Z" fill="#dcff00" />
</g>
<g transform="matrix(377.195 109.578 -217.674 190.194 924.65 1700.55)">
<circle r="0.4" fill="#0008f5"/>
<path d="M-0.336 0.159C-0.348 0.139 -0.358 0.121 -0.366 0.098C-0.374 0.075 -0.383 0.046 -0.384 0.020C-0.386 -0.006 -0.382 -0.033 -0.375 -0.058C-0.369 -0.084 -0.358 -0.109 -0.345 -0.134C-0.333 -0.160 -0.317 -0.186 -0.300 -0.210C-0.282 -0.233 -0.260 -0.255 -0.238 -0.274C-0.216 -0.293 -0.194 -0.311 -0.168 -0.324C-0.143 -0.338 -0.116 -0.348 -0.088 -0.356C-0.060 -0.364 -0.028 -0.371 0.001 -0.373C0.029 -0.375 0.057 -0.373 0.083 -0.367C0.110 -0.361 0.135 -0.351 0.160 -0.337C0.185 -0.324 0.212 -0.304 0.233 -0.287C0.255 -0.269 0.271 -0.251 0.288 -0.230C0.305 -0.209 0.324 -0.184 0.336 -0.160C0.348 -0.136 0.354 -0.111 0.359 -0.085C0.364 -0.060 0.368 -0.034 0.366 -0.006C0.364 0.022 0.357 0.055 0.348 0.083C0.338 0.111 0.326 0.137 0.310 0.163C0.295 0.189 0.275 0.217 0.255 0.239C0.235 0.261 0.213 0.280 0.190 0.296C0.166 0.312 0.141 0.327 0.113 0.335C0.086 0.344 0.052 0.348 0.022 0.349C-0.007 0.349 -0.037 0.346 -0.066 0.341C-0.095 0.335 -0.121 0.328 -0.150 0.316C-0.178 0.303 -0.212 0.285 -0.236 0.268C-0.261 0.251 -0.280 0.233 -0.297 0.214C-0.313 0.196 -0.325 0.178 -0.336 0.159Z" fill="#00f0d0" transform="scale(1.012)"/>
<path d="M-0.336 0.159C-0.348 0.139 -0.358 0.121 -0.366 0.098C-0.374 0.075 -0.383 0.046 -0.384 0.020C-0.386 -0.006 -0.382 -0.033 -0.375 -0.058C-0.369 -0.084 -0.358 -0.109 -0.345 -0.134C-0.333 -0.160 -0.317 -0.186 -0.300 -0.210C-0.282 -0.233 -0.260 -0.255 -0.238 -0.274C-0.216 -0.293 -0.194 -0.311 -0.168 -0.324C-0.143 -0.338 -0.116 -0.348 -0.088 -0.356C-0.060 -0.364 -0.028 -0.371 0.001 -0.373C0.029 -0.375 0.057 -0.373 0.083 -0.367C0.110 -0.361 0.135 -0.351 0.160 -0.337C0.185 -0.324 0.212 -0.304 0.233 -0.287C0.255 -0.269 0.271 -0.251 0.288 -0.230C0.305 -0.209 0.324 -0.184 0.336 -0.160C0.348 -0.136 0.354 -0.111 0.359 -0.085C0.364 -0.060 0.368 -0.034 0.366 -0.006C0.364 0.022 0.357 0.055 0.348 0.083C0.338 0.111 0.326 0.137 0.310 0.163C0.295 0.189 0.275 0.217 0.255 0.239C0.235 0.261 0.213 0.280 0.190 0.296C0.166 0.312 0.141 0.327 0.113 0.335C0.086 0.344 0.052 0.348 0.022 0.349C-0.007 0.349 -0.037 0.346 -0.066 0.341C-0.095 0.335 -0.121 0.328 -0.150 0.316C-0.178 0.303 -0.212 0.285 -0.236 0.268C-0.261 0.251 -0.280 0.233 -0.297 0.214C-0.313 0.196 -0.325 0.178 -0.336 0.159Z" fill="#00f000" />
<path d="M-0.336 0.159C-0.348 0.139 -0.358 0.121 -0.366 0.098C-0.374 0.075 -0.383 0.046 -0.384 0.020C-0.386 -0.006 -0.382 -0.033 -0.375 -0.058C-0.369 -0.084 -0.358 -0.109 -0.345 -0.134C-0.333 -0.160 -0.317 -0.186 -0.300 -0.210C-0.282 -0.233 -0.260 -0.255 -0.238 -0.274C-0.216 -0.293 -0.194 -0.311 -0.168 -0.324C-0.143 -0.338 -0.116 -0.348 -0.088 -0.356C-0.060 -0.364 -0.028 -0.371 0.001 -0.373C0.029 -0.375 0.057 -0.373 0.083 -0.367C0.110 -0.361 0.135 -0.351 0.160 -0.337C0.185 -0.324 0.212 -0.304 0.233 -0.287C0.255 -0.269 0.271 -0.251 0.288 -0.230C0.305 -0.209 0.324 -0.184 0.336 -0.160C0.348 -0.136 0.354 -0.111 0.359 -0.085C0.364 -0.060 0.368 -0.034 0.366 -0.006C0.364 0.022 0.357 0.055 0.348 0.083C0.338 0.111 0.326 0.137 0.310 0.163C0.295 0.189 0.275 0.217 0.255 0.239C0.235 0.261 0.213 0.280 0.190 0.296C0.166 0.312 0.141 0.327 0.113 0.335C0.086 0.344 0.052 0.348 0.022 0.349C-0.007 0.349 -0.037 0.346 -0.066 0.341C-0.095 0.335 -0.121 0.328 -0.150 0.316C-0.178 0.303 -0.212 0.285 -0.236 0.268C-0.261 0.251 -0.280 0.233 -0.297 0.214C-0.313 0.196 -0.325 0.178 -0.336 0.159Z" fill="#3cff00" transform="scale(0.975)"/>
<path d="M-0.165 0.207C-0.172 0.201 -0.159 0.175 -0.158 0.164C-0.157 0.153 -0.167 0.149 -0.161 0.141C-0.156 0.133 -0.129 0.127 -0.126 0.116C-0.123 0.106 -0.136 0.094 -0.144 0.077C-0.152 0.061 -0.168 0.037 -0.174 0.017C-0.180 -0.004 -0.178 -0.025 -0.182 -0.048C-0.185 -0.070 -0.191 -0.101 -0.193 -0.119C-0.196 -0.137 -0.198 -0.150 -0.195 -0.157C-0.193 -0.164 -0.185 -0.163 -0.178 -0.162C-0.172 -0.161 -0.168 -0.151 -0.159 -0.154C-0.150 -0.157 -0.139 -0.170 -0.124 -0.179C-0.109 -0.188 -0.085 -0.200 -0.066 -0.207C-0.048 -0.215 -0.029 -0.222 -0.012 -0.224C0.006 -0.226 0.022 -0.221 0.040 -0.219C0.058 -0.217 0.077 -0.213 0.094 -0.211C0.111 -0.210 0.130 -0.211 0.144 -0.211C0.157 -0.210 0.169 -0.213 0.175 -0.209C0.180 -0.204 0.176 -0.193 0.174 -0.184C0.172 -0.175 0.168 -0.166 0.160 -0.157C0.153 -0.147 0.135 -0.137 0.127 -0.128C0.120 -0.119 0.114 -0.115 0.117 -0.103C0.121 -0.090 0.142 -0.071 0.151 -0.053C0.159 -0.035 0.165 -0.014 0.169 0.005C0.174 0.023 0.173 0.041 0.176 0.059C0.179 0.077 0.184 0.096 0.187 0.112C0.190 0.128 0.195 0.150 0.193 0.157C0.192 0.165 0.184 0.157 0.178 0.156C0.171 0.155 0.167 0.147 0.155 0.150C0.142 0.153 0.121 0.168 0.104 0.174C0.088 0.181 0.071 0.185 0.054 0.189C0.036 0.192 0.017 0.194 -0.001 0.196C-0.020 0.198 -0.040 0.198 -0.059 0.200C-0.078 0.201 -0.098 0.202 -0.116 0.203C-0.134 0.204 -0.158 0.214 -0.165 0.207Z" fill="#dcff00" />
<path d="M-0.360 0.075C-0.366 0.065 -0.371 0.040 -0.373 0.023C-0.374 0.006 -0.371 -0.015 -0.368 -0.028C-0.364 -0.042 -0.356 -0.055 -0.350 -0.058C-0.344 -0.061 -0.337 -0.054 -0.332 -0.044C-0.328 -0.033 -0.326 -0.011 -0.324 0.005C-0.322 0.021 -0.319 0.040 -0.321 0.052C-0.323 0.065 -0.328 0.076 -0.335 0.080C-0.341 0.084 -0.354 0.084 -0.360 0.075Z" fill="#dcff00" />
<path d="M-0.066 -0.339C-0.069 -0.346 -0.067 -0.359 -0.058 -0.364C-0.049 -0.368 -0.027 -0.367 -0.010 -0.367C0.006 -0.366 0.029 -0.365 0.042 -0.362C0.054 -0.360 0.062 -0.357 0.065 -0.351C0.068 -0.346 0.069 -0.333 0.061 -0.329C0.052 -0.325 0.030 -0.327 0.013 -0.326C-0.004 -0.325 -0.027 -0.323 -0.040 -0.325C-0.054 -0.327 -0.063 -0.333 -0.066 -0.339Z" fill="#dcff00" />
<path d="M0.336 0.046C0.331 0.036 0.328 0.018 0.326 0.002C0.324 -0.013 0.324 -0.033 0.327 -0.047C0.330 -0.061 0.336 -0.076 0.342 -0.080C0.348 -0.085 0.358 -0.083 0.364 -0.073C0.370 -0.064 0.378 -0.041 0.380 -0.024C0.382 -0.007 0.379 0.014 0.375 0.028C0.372 0.041 0.364 0.055 0.358 0.057C0.351 0.060 0.341 0.055 0.336 0.046Z" fill="#dcff00" />
<path d="M-0.055 0.359C-0.060 0.352 -0.061 0.335 -0.053 0.329C-0.045 0.322 -0.024 0.322 -0.008 0.322C0.008 0.321 0.031 0.323 0.044 0.326C0.057 0.329 0.066 0.335 0.070 0.341C0.074 0.347 0.077 0.356 0.069 0.361C0.061 0.365 0.039 0.366 0.024 0.367C0.008 0.369 -0.011 0.372 -0.024 0.370C-0.037 0.369 -0.050 0.366 -0.055 0.359Z" fill="#dcff00" />
<path d="M-0.084 0.092C-0.092 0.079 -0.097 0.047 -0.101 0.023C-0.105 -0.000 -0.108 -0.029 -0.109 -0.050C-0.110 -0.072 -0.110 -0.093 -0.106 -0.106C-0.103 -0.118 -0.100 -0.123 -0.088 -0.126C-0.077 -0.129 -0.056 -0.128 -0.039 -0.125C-0.021 -0.122 -0.001 -0.114 0.016 -0.108C0.033 -0.101 0.051 -0.095 0.063 -0.086C0.075 -0.077 0.081 -0.069 0.086 -0.055C0.091 -0.041 0.091 -0.019 0.093 -0.000C0.094 0.018 0.094 0.040 0.096 0.057C0.097 0.074 0.104 0.091 0.102 0.102C0.100 0.113 0.094 0.120 0.084 0.122C0.074 0.125 0.058 0.120 0.042 0.117C0.026 0.114 0.005 0.106 -0.011 0.103C-0.026 0.100 -0.041 0.100 -0.053 0.098C-0.065 0.096 -0.076 0.104 -0.084 0.092Z" fill="#3cff00" />
</g>
<g transform="matrix(377.195 109.578 -217.674 190.194 924.65 1455.65)">
<circle r="0.4" fill="#0008f5"/>
<circle r="0.386" fill="#00c8ff"/>
<circle r="0.382" fill="#00f0d0"/>
<circle r="0.378" fill="#00f000"/>
<circle r="0.368" fill="#3cff00"/>
<g clip-path="url(#clip2)">
<path d="M-0.346 0.130C-0.352 0.117 -0.363 0.093 -0.368 0.074C-0.373 0.056 -0.376 0.038 -0.375 0.019C-0.374 0.001 -0.367 -0.018 -0.363 -0.037C-0.358 -0.055 -0.354 -0.076 -0.348 -0.089C-0.342 -0.101 -0.334 -0.109 -0.327 -0.111C-0.319 -0.113 -0.306 -0.107 -0.301 -0.101C-0.296 -0.095 -0.297 -0.084 -0.296 -0.075C-0.295 -0.066 -0.299 -0.054 -0.294 -0.046C-0.290 -0.039 -0.280 -0.031 -0.270 -0.031C-0.261 -0.030 -0.247 -0.036 -0.239 -0.044C-0.230 -0.052 -0.223 -0.067 -0.220 -0.080C-0.216 -0.092 -0.216 -0.105 -0.218 -0.120C-0.220 -0.135 -0.229 -0.156 -0.232 -0.170C-0.236 -0.185 -0.240 -0.199 -0.238 -0.206C-0.236 -0.213 -0.230 -0.214 -0.221 -0.211C-0.212 -0.208 -0.196 -0.194 -0.184 -0.188C-0.171 -0.183 -0.159 -0.177 -0.147 -0.176C-0.135 -0.174 -0.121 -0.177 -0.111 -0.182C-0.100 -0.186 -0.090 -0.193 -0.083 -0.202C-0.076 -0.211 -0.072 -0.223 -0.068 -0.236C-0.064 -0.249 -0.060 -0.268 -0.059 -0.280C-0.058 -0.292 -0.057 -0.302 -0.061 -0.308C-0.064 -0.315 -0.074 -0.319 -0.082 -0.320C-0.090 -0.321 -0.101 -0.314 -0.109 -0.315C-0.117 -0.316 -0.131 -0.320 -0.130 -0.327C-0.130 -0.334 -0.119 -0.349 -0.103 -0.357C-0.088 -0.365 -0.062 -0.371 -0.039 -0.374C-0.017 -0.378 0.009 -0.380 0.033 -0.377C0.057 -0.374 0.084 -0.366 0.103 -0.359C0.122 -0.351 0.140 -0.345 0.146 -0.335C0.152 -0.324 0.140 -0.307 0.139 -0.296C0.138 -0.285 0.136 -0.276 0.141 -0.268C0.145 -0.259 0.158 -0.248 0.169 -0.245C0.180 -0.241 0.196 -0.249 0.207 -0.247C0.218 -0.245 0.230 -0.241 0.234 -0.234C0.238 -0.226 0.234 -0.212 0.232 -0.203C0.230 -0.194 0.222 -0.187 0.222 -0.178C0.222 -0.168 0.225 -0.153 0.232 -0.144C0.238 -0.135 0.249 -0.123 0.260 -0.121C0.271 -0.119 0.286 -0.127 0.297 -0.133C0.308 -0.138 0.316 -0.155 0.325 -0.154C0.333 -0.152 0.341 -0.139 0.348 -0.123C0.354 -0.106 0.360 -0.079 0.363 -0.053C0.366 -0.028 0.370 0.008 0.368 0.032C0.366 0.056 0.359 0.078 0.352 0.090C0.345 0.102 0.335 0.105 0.326 0.105C0.317 0.105 0.305 0.099 0.298 0.091C0.292 0.084 0.292 0.069 0.285 0.060C0.278 0.051 0.267 0.040 0.257 0.037C0.247 0.034 0.233 0.035 0.225 0.041C0.217 0.047 0.210 0.060 0.210 0.074C0.209 0.089 0.215 0.108 0.220 0.127C0.225 0.145 0.236 0.171 0.239 0.185C0.241 0.199 0.241 0.210 0.235 0.212C0.228 0.213 0.214 0.201 0.201 0.196C0.188 0.192 0.173 0.183 0.158 0.182C0.144 0.181 0.129 0.186 0.115 0.192C0.101 0.199 0.082 0.209 0.073 0.222C0.063 0.235 0.059 0.256 0.056 0.270C0.054 0.285 0.053 0.301 0.058 0.308C0.063 0.315 0.076 0.312 0.085 0.312C0.095 0.313 0.107 0.306 0.114 0.310C0.121 0.314 0.133 0.329 0.129 0.336C0.125 0.343 0.108 0.349 0.090 0.354C0.071 0.358 0.040 0.362 0.016 0.362C-0.009 0.362 -0.036 0.359 -0.058 0.355C-0.079 0.351 -0.100 0.344 -0.112 0.338C-0.124 0.332 -0.129 0.330 -0.132 0.320C-0.136 0.310 -0.130 0.288 -0.133 0.276C-0.135 0.265 -0.139 0.256 -0.148 0.251C-0.156 0.245 -0.175 0.245 -0.186 0.243C-0.198 0.242 -0.209 0.245 -0.217 0.242C-0.225 0.238 -0.232 0.230 -0.233 0.222C-0.235 0.213 -0.228 0.199 -0.227 0.189C-0.227 0.179 -0.225 0.169 -0.229 0.161C-0.234 0.153 -0.246 0.144 -0.255 0.141C-0.264 0.138 -0.274 0.141 -0.284 0.143C-0.293 0.145 -0.304 0.153 -0.312 0.154C-0.320 0.156 -0.325 0.155 -0.331 0.151C-0.337 0.147 -0.339 0.143 -0.346 0.130Z" fill="#dcff00" />
<path d="M-0.057 0.005C-0.084 -0.002 -0.158 -0.020 -0.209 -0.027C-0.260 -0.034 -0.334 -0.043 -0.363 -0.037C-0.392 -0.030 -0.382 -0.000 -0.383 0.014C-0.383 0.029 -0.386 0.046 -0.367 0.049C-0.349 0.053 -0.305 0.037 -0.273 0.034C-0.241 0.031 -0.212 0.035 -0.175 0.032C-0.138 0.028 -0.072 0.018 -0.052 0.014C-0.033 0.009 -0.031 0.012 -0.057 0.005Z" fill="#ffe600" />
<path d="M-0.010 -0.063C-0.017 -0.087 -0.021 -0.157 -0.028 -0.205C-0.035 -0.253 -0.062 -0.326 -0.052 -0.353C-0.041 -0.380 0.021 -0.391 0.034 -0.368C0.046 -0.344 0.025 -0.259 0.022 -0.209C0.018 -0.158 0.019 -0.089 0.013 -0.065C0.008 -0.041 -0.004 -0.040 -0.010 -0.063Z" fill="#ffe600" />
<path d="M0.051 -0.009C0.079 -0.015 0.177 -0.028 0.230 -0.035C0.283 -0.043 0.342 -0.068 0.367 -0.055C0.391 -0.043 0.398 0.019 0.376 0.037C0.353 0.055 0.284 0.057 0.231 0.052C0.178 0.046 0.088 0.014 0.058 0.004C0.028 -0.006 0.022 -0.002 0.051 -0.009Z" fill="#ffe600" />
<path d="M0.001 0.059C-0.005 0.083 -0.014 0.162 -0.022 0.212C-0.029 0.263 -0.054 0.336 -0.044 0.362C-0.033 0.388 0.031 0.391 0.042 0.366C0.054 0.341 0.033 0.263 0.028 0.213C0.023 0.163 0.017 0.094 0.013 0.068C0.008 0.043 0.007 0.035 0.001 0.059Z" fill="#ffe600" />
<path d="M-0.072 0.005C-0.090 0.001 -0.140 -0.006 -0.174 -0.008C-0.207 -0.011 -0.241 -0.011 -0.273 -0.010C-0.306 -0.009 -0.353 -0.010 -0.368 -0.004C-0.384 0.003 -0.385 0.025 -0.367 0.029C-0.348 0.033 -0.291 0.021 -0.256 0.020C-0.221 0.018 -0.188 0.022 -0.157 0.021C-0.125 0.020 -0.082 0.015 -0.068 0.012C-0.054 0.009 -0.055 0.008 -0.072 0.005Z" fill="#ffb800" />
<path d="M-0.005 -0.074C-0.007 -0.096 -0.008 -0.153 -0.012 -0.199C-0.017 -0.246 -0.037 -0.327 -0.033 -0.354C-0.028 -0.381 0.009 -0.381 0.017 -0.363C0.024 -0.344 0.014 -0.283 0.012 -0.243C0.010 -0.202 0.009 -0.151 0.007 -0.122C0.006 -0.093 0.004 -0.076 0.002 -0.068C-0.000 -0.060 -0.002 -0.053 -0.005 -0.074Z" fill="#ffb800" />
<path d="M0.068 -0.009C0.088 -0.011 0.146 -0.010 0.193 -0.014C0.240 -0.018 0.322 -0.036 0.351 -0.032C0.380 -0.027 0.389 0.004 0.367 0.013C0.344 0.022 0.263 0.025 0.214 0.023C0.165 0.020 0.097 0.005 0.073 0.000C0.049 -0.005 0.048 -0.006 0.068 -0.009Z" fill="#ffb800" />
<path d="M0.000 0.075C-0.003 0.096 -0.008 0.164 -0.012 0.212C-0.016 0.259 -0.031 0.336 -0.025 0.361C-0.019 0.386 0.019 0.385 0.025 0.362C0.031 0.338 0.016 0.268 0.013 0.222C0.010 0.175 0.010 0.107 0.007 0.082C0.005 0.058 0.003 0.053 0.000 0.075Z" fill="#ffb800" />
<path d="M-0.093 0.006C-0.108 0.005 -0.151 0.002 -0.180 0.001C-0.208 -0.000 -0.237 -0.000 -0.265 0.000C-0.293 0.001 -0.334 0.000 -0.347 0.003C-0.361 0.006 -0.362 0.016 -0.346 0.018C-0.330 0.020 -0.281 0.014 -0.251 0.013C-0.221 0.013 -0.192 0.014 -0.165 0.014C-0.138 0.013 -0.101 0.011 -0.089 0.009C-0.077 0.008 -0.077 0.008 -0.093 0.006Z" fill="#ff9800" />
<path d="M-0.002 -0.093C-0.003 -0.111 -0.004 -0.160 -0.006 -0.200C-0.009 -0.240 -0.019 -0.310 -0.017 -0.333C-0.015 -0.356 0.002 -0.356 0.005 -0.340C0.009 -0.324 0.004 -0.271 0.004 -0.237C0.004 -0.202 0.004 -0.159 0.003 -0.134C0.003 -0.109 0.002 -0.094 0.001 -0.087C0.000 -0.080 -0.001 -0.074 -0.002 -0.093Z" fill="#ff9800" />
<path d="M0.088 -0.005C0.105 -0.006 0.155 -0.006 0.196 -0.008C0.236 -0.010 0.306 -0.018 0.331 -0.017C0.356 -0.015 0.364 -0.001 0.345 0.003C0.325 0.008 0.256 0.009 0.214 0.008C0.172 0.008 0.113 0.001 0.092 -0.001C0.071 -0.003 0.071 -0.004 0.088 -0.005Z" fill="#ff9800" />
<path d="M0.001 0.095C-0.000 0.113 -0.003 0.172 -0.005 0.213C-0.007 0.254 -0.014 0.320 -0.011 0.341C-0.008 0.363 0.009 0.361 0.011 0.341C0.014 0.321 0.008 0.261 0.007 0.221C0.006 0.181 0.006 0.122 0.005 0.101C0.004 0.080 0.003 0.076 0.001 0.095Z" fill="#ff9800" />
</g>
</g>
<polygon points="901.6,1456.8 903.9,1451.2 910.9,1447.0 921.9,1444.8 932.9,1445.2 941.9,1448.0 947.4,1452.8 948.1,1458.2 947.7,1462.2 941.9,1465.2 932.9,1467.5 925.4,1468.5 916.9,1466.0 905.4,1462.0" fill="#a8a8a8"/>
<path d="M905.4 1462.5 L925.4 1468.8" stroke="#2e2e2e" stroke-width="1.7" fill="none"/>
<path d="M946.1 1451.8 L946.1 1462.2" stroke="#3a3a3a" stroke-width="1.2" fill="none"/>
<ellipse cx="925.6" cy="1455.5" rx="10" ry="5.3" fill="#ff0000"/>
<g transform="matrix(377.195 109.578 -217.674 190.194 924.65 1210.75)">
<circle r="0.4" fill="#00e400"/>
<circle r="0.39" fill="#30f800"/>
<circle r="0.383" fill="#78ff00"/>
<circle r="0.376" fill="#b4ff00"/>
<circle r="0.369" fill="#dcff00"/>
<g clip-path="url(#clip1)">
<path d="M-0.360 0.084C-0.367 0.070 -0.376 0.053 -0.380 0.037C-0.383 0.021 -0.382 0.004 -0.379 -0.013C-0.375 -0.030 -0.369 -0.050 -0.361 -0.067C-0.352 -0.084 -0.341 -0.101 -0.329 -0.115C-0.317 -0.128 -0.303 -0.140 -0.289 -0.148C-0.274 -0.155 -0.256 -0.159 -0.242 -0.160C-0.227 -0.161 -0.216 -0.159 -0.203 -0.153C-0.190 -0.148 -0.172 -0.129 -0.163 -0.127C-0.155 -0.125 -0.158 -0.143 -0.153 -0.143C-0.147 -0.143 -0.136 -0.136 -0.129 -0.127C-0.122 -0.118 -0.115 -0.102 -0.111 -0.088C-0.107 -0.074 -0.105 -0.056 -0.105 -0.043C-0.105 -0.030 -0.106 -0.021 -0.111 -0.011C-0.116 -0.000 -0.126 0.011 -0.134 0.018C-0.142 0.024 -0.154 0.020 -0.158 0.027C-0.163 0.033 -0.162 0.047 -0.160 0.057C-0.159 0.068 -0.150 0.079 -0.147 0.089C-0.145 0.099 -0.144 0.108 -0.146 0.117C-0.148 0.127 -0.151 0.139 -0.159 0.145C-0.168 0.150 -0.181 0.150 -0.195 0.151C-0.210 0.152 -0.228 0.152 -0.245 0.150C-0.262 0.148 -0.283 0.142 -0.297 0.136C-0.312 0.131 -0.323 0.126 -0.333 0.117C-0.343 0.109 -0.352 0.097 -0.360 0.084Z" fill="#ffe600" />
<path d="M-0.149 0.154C-0.143 0.143 -0.135 0.134 -0.132 0.124C-0.129 0.114 -0.135 0.100 -0.130 0.093C-0.125 0.087 -0.112 0.084 -0.101 0.084C-0.090 0.083 -0.077 0.085 -0.063 0.089C-0.050 0.093 -0.033 0.101 -0.020 0.108C-0.007 0.116 0.002 0.126 0.014 0.133C0.026 0.140 0.038 0.145 0.049 0.152C0.060 0.159 0.073 0.174 0.080 0.175C0.088 0.176 0.091 0.165 0.094 0.157C0.098 0.149 0.096 0.129 0.102 0.126C0.107 0.124 0.120 0.136 0.129 0.145C0.139 0.153 0.153 0.164 0.160 0.176C0.167 0.189 0.170 0.204 0.170 0.219C0.169 0.234 0.163 0.250 0.157 0.266C0.151 0.281 0.145 0.299 0.135 0.313C0.125 0.327 0.111 0.340 0.097 0.349C0.082 0.358 0.066 0.365 0.048 0.368C0.030 0.371 0.009 0.370 -0.011 0.367C-0.031 0.365 -0.051 0.360 -0.069 0.352C-0.088 0.344 -0.107 0.332 -0.123 0.319C-0.138 0.306 -0.152 0.289 -0.162 0.273C-0.171 0.257 -0.176 0.238 -0.178 0.224C-0.179 0.209 -0.175 0.197 -0.170 0.185C-0.166 0.174 -0.156 0.164 -0.149 0.154Z" fill="#ffe600" />
<path d="M-0.146 -0.157C-0.151 -0.169 -0.150 -0.187 -0.148 -0.204C-0.147 -0.221 -0.143 -0.242 -0.136 -0.260C-0.130 -0.278 -0.121 -0.294 -0.110 -0.309C-0.099 -0.324 -0.086 -0.341 -0.071 -0.352C-0.056 -0.363 -0.038 -0.371 -0.020 -0.376C-0.003 -0.380 0.015 -0.380 0.033 -0.377C0.051 -0.374 0.070 -0.369 0.087 -0.360C0.105 -0.351 0.123 -0.337 0.135 -0.324C0.148 -0.310 0.158 -0.293 0.165 -0.277C0.171 -0.260 0.175 -0.240 0.175 -0.224C0.176 -0.208 0.170 -0.192 0.166 -0.180C0.163 -0.168 0.156 -0.166 0.153 -0.153C0.149 -0.139 0.149 -0.109 0.144 -0.099C0.140 -0.088 0.136 -0.091 0.125 -0.090C0.114 -0.088 0.095 -0.089 0.079 -0.092C0.063 -0.096 0.044 -0.103 0.031 -0.112C0.017 -0.120 0.006 -0.130 -0.003 -0.141C-0.011 -0.153 -0.013 -0.169 -0.020 -0.180C-0.027 -0.191 -0.036 -0.203 -0.044 -0.205C-0.053 -0.207 -0.059 -0.200 -0.068 -0.194C-0.078 -0.187 -0.093 -0.175 -0.101 -0.165C-0.109 -0.154 -0.108 -0.131 -0.116 -0.130C-0.123 -0.129 -0.140 -0.144 -0.146 -0.157Z" fill="#ffe600" />
<path d="M0.157 -0.077C0.156 -0.093 0.150 -0.134 0.157 -0.145C0.164 -0.156 0.181 -0.145 0.197 -0.144C0.213 -0.142 0.233 -0.139 0.251 -0.136C0.269 -0.133 0.291 -0.130 0.307 -0.124C0.324 -0.118 0.339 -0.111 0.349 -0.099C0.359 -0.087 0.365 -0.069 0.369 -0.052C0.372 -0.035 0.373 -0.017 0.370 0.001C0.367 0.019 0.360 0.038 0.352 0.056C0.344 0.073 0.334 0.093 0.322 0.107C0.311 0.121 0.296 0.133 0.282 0.140C0.268 0.147 0.252 0.149 0.239 0.150C0.225 0.151 0.213 0.149 0.202 0.147C0.192 0.144 0.183 0.134 0.176 0.136C0.168 0.137 0.165 0.155 0.157 0.153C0.148 0.152 0.132 0.136 0.123 0.129C0.113 0.122 0.103 0.124 0.099 0.111C0.094 0.099 0.095 0.072 0.096 0.056C0.096 0.041 0.096 0.029 0.102 0.016C0.108 0.003 0.120 -0.009 0.130 -0.020C0.140 -0.031 0.158 -0.041 0.162 -0.050C0.167 -0.060 0.158 -0.061 0.157 -0.077Z" fill="#ffe600" />
<path d="M-0.163 0.142C-0.166 0.134 -0.152 0.122 -0.150 0.110C-0.148 0.097 -0.156 0.072 -0.152 0.067C-0.148 0.063 -0.132 0.072 -0.127 0.082C-0.122 0.091 -0.121 0.110 -0.122 0.123C-0.124 0.136 -0.129 0.157 -0.136 0.160C-0.142 0.163 -0.161 0.150 -0.163 0.142Z" fill="#ffe600" />
<path d="M0.140 -0.081C0.135 -0.091 0.142 -0.105 0.143 -0.118C0.145 -0.130 0.144 -0.151 0.149 -0.155C0.154 -0.159 0.169 -0.150 0.173 -0.139C0.176 -0.129 0.172 -0.108 0.171 -0.095C0.170 -0.081 0.173 -0.061 0.168 -0.058C0.162 -0.056 0.144 -0.071 0.140 -0.081Z" fill="#ffe600" />
</g>
</g>
<polygon points="901.6,1211.8 903.9,1206.3 910.9,1202.0 921.9,1199.8 932.9,1200.3 941.9,1203.1 947.4,1207.8 948.1,1213.3 947.7,1217.3 941.9,1220.3 932.9,1222.6 925.4,1223.5 916.9,1221.1 905.4,1217.1" fill="#a8a8a8"/>
<path d="M905.4 1217.5 L925.4 1223.9" stroke="#2e2e2e" stroke-width="1.7" fill="none"/>
<path d="M946.1 1206.8 L946.1 1217.3" stroke="#3a3a3a" stroke-width="1.2" fill="none"/>
<ellipse cx="925.6" cy="1210.5" rx="10" ry="5.3" fill="#ff0000"/>
<text x="642.2" y="1262.0" font-size="26.8" text-anchor="middle" font-family="'Liberation Serif', serif" >0</text>
<text x="625.0" y="1384.7" font-size="26.8" text-anchor="middle" font-family="'Liberation Serif', serif" >0.05</text>
<text x="625.2" y="1508.3" font-size="26.8" text-anchor="middle" font-family="'Liberation Serif', serif" >0.1</text>
<text x="626.9" y="1629.5" font-size="26.8" text-anchor="middle" font-family="'Liberation Serif', serif" >0.15</text>
<text x="627.2" y="1755.9" font-size="26.8" text-anchor="middle" font-family="'Liberation Serif', serif" >0.2</text>
<text x="625.0" y="1867.9" font-size="26.8" text-anchor="middle" font-family="'Liberation Serif', serif" >0.25</text>
<text x="628.6" y="1981.1" font-size="26.8" text-anchor="middle" font-family="'Liberation Serif', serif" >0.3</text>
<text x="581.3" y="1629.5" font-size="26.8" text-anchor="middle" font-family="'Liberation Serif', serif" >Z</text>
<text x="646.6" y="2035.4" font-size="26.8" text-anchor="middle" font-family="'Liberation Serif', serif" >-0.4</text>
<text x="723.2" y="2057.8" font-size="26.8" text-anchor="middle" font-family="'Liberation Serif', serif" >-0.2</text>
<text x="815.8" y="2081.7" font-size="26.8" text-anchor="middle" font-family="'Liberation Serif', serif" >0</text>
<text x="885.9" y="2104.4" font-size="26.8" text-anchor="middle" font-family="'Liberation Serif', serif" >0.2</text>
<text x="956.5" y="2124.2" font-size="26.8" text-anchor="middle" font-family="'Liberation Serif', serif" >0.4</text>
<text x="794.6" y="2113.3" font-size="26.8" text-anchor="middle" font-family="'Liberation Serif', serif" >X</text>
<text x="1034.4" y="2115.1" font-size="26.8" text-anchor="middle" font-family="'Liberation Serif', serif" >0.4</text>
<text x="1074.3" y="2077.5" font-size="26.8" text-anchor="middle" font-family="'Liberation Serif', serif" >0.2</text>
<text x="1118.3" y="2038.1" font-size="26.8" text-anchor="middle" font-family="'Liberation Serif', serif" >0</text>
<text x="1160.5" y="1999.4" font-size="26.8" text-anchor="middle" font-family="'Liberation Serif', serif" >-0.2</text>
<text x="1210.7" y="1959.4" font-size="26.8" text-anchor="middle" font-family="'Liberation Serif', serif" >-0.4</text>
<text x="1177.4" y="2050.7" font-size="26.8" text-anchor="middle" font-family="'Liberation Serif', serif" >Y</text>
<text x="682.3" y="1195.7" font-size="74" text-anchor="middle" font-family="'Liberation Serif', serif" >(d)</text>
<!-- panel e -->
<polygon points="1363.0,1238.6 1548.2,1079.3 1548.2,1820.1 1363.0,1979.4" fill="#ababab"/>
<polygon points="1548.2,1079.3 1870.1,1172.4 1870.1,1913.2 1548.2,1820.1" fill="#ababab"/>
<polygon points="1363.0,1979.4 1548.2,1820.1 1870.1,1913.2 1684.9,2072.5" fill="#c7c7c7"/>
<g stroke-linecap="square"><line x1="1363.0" y1="1238.6" x2="1548.2" y2="1079.3" stroke="#262626" stroke-width="1.2"/><line x1="1548.2" y1="1079.3" x2="1870.1" y2="1172.4" stroke="#262626" stroke-width="1.2"/><line x1="1363.0" y1="1238.6" x2="1363.0" y2="1979.4" stroke="#262626" stroke-width="1.2"/><line x1="1548.2" y1="1079.3" x2="1548.2" y2="1820.1" stroke="#262626" stroke-width="1.2"/><line x1="1870.1" y1="1172.4" x2="1870.1" y2="1913.2" stroke="#262626" stroke-width="1.2"/><line x1="1363.0" y1="1979.4" x2="1548.2" y2="1820.1" stroke="#262626" stroke-width="1.2"/><line x1="1548.2" y1="1820.1" x2="1870.1" y2="1913.2" stroke="#262626" stroke-width="1.2"/><line x1="1363.0" y1="1979.4" x2="1684.9" y2="2072.5" stroke="#262626" stroke-width="1.2"/><line x1="1684.9" y1="2072.5" x2="1870.1" y2="1913.2" stroke="#262626" stroke-width="1.2"/><line x1="1540.1" y1="1086.3" x2="1540.1" y2="1827.1" stroke="#262626" stroke-width="1.0"/><line x1="1562.3" y1="1083.4" x2="1562.3" y2="1824.2" stroke="#262626" stroke-width="1.0"/><line x1="1562.3" y1="1824.2" x2="1377.1" y2="1983.5" stroke="#262626" stroke-width="1.0"/><line x1="1540.1" y1="1827.1" x2="1862.0" y2="1920.2" stroke="#262626" stroke-width="1.0"/><line x1="1497.8" y1="1122.6" x2="1497.8" y2="1863.4" stroke="#262626" stroke-width="1.0"/><line x1="1635.7" y1="1104.6" x2="1635.7" y2="1845.4" stroke="#262626" stroke-width="1.0"/><line x1="1635.7" y1="1845.4" x2="1450.5" y2="2004.7" stroke="#262626" stroke-width="1.0"/><line x1="1497.8" y1="1863.4" x2="1819.7" y2="1956.5" stroke="#262626" stroke-width="1.0"/><line x1="1455.6" y1="1158.9" x2="1455.6" y2="1899.7" stroke="#262626" stroke-width="1.0"/><line x1="1709.2" y1="1125.8" x2="1709.2" y2="1866.6" stroke="#262626" stroke-width="1.0"/><line x1="1709.2" y1="1866.6" x2="1523.9" y2="2026.0" stroke="#262626" stroke-width="1.0"/><line x1="1455.6" y1="1899.7" x2="1777.5" y2="1992.9" stroke="#262626" stroke-width="1.0"/><line x1="1413.4" y1="1195.3" x2="1413.4" y2="1936.1" stroke="#262626" stroke-width="1.0"/><line x1="1782.6" y1="1147.1" x2="1782.6" y2="1887.9" stroke="#262626" stroke-width="1.0"/><line x1="1782.6" y1="1887.9" x2="1597.4" y2="2047.2" stroke="#262626" stroke-width="1.0"/><line x1="1413.4" y1="1936.1" x2="1735.3" y2="2029.2" stroke="#262626" stroke-width="1.0"/><line x1="1371.1" y1="1231.6" x2="1371.1" y2="1972.4" stroke="#262626" stroke-width="1.0"/><line x1="1856.0" y1="1168.3" x2="1856.0" y2="1909.1" stroke="#262626" stroke-width="1.0"/><line x1="1856.0" y1="1909.1" x2="1670.8" y2="2068.4" stroke="#262626" stroke-width="1.0"/><line x1="1371.1" y1="1972.4" x2="1693.0" y2="2065.5" stroke="#262626" stroke-width="1.0"/><line x1="1363.0" y1="1358.0" x2="1548.2" y2="1198.7" stroke="#262626" stroke-width="1.0"/><line x1="1548.2" y1="1198.7" x2="1870.1" y2="1291.8" stroke="#262626" stroke-width="1.0"/><line x1="1363.0" y1="1477.4" x2="1548.2" y2="1318.1" stroke="#262626" stroke-width="1.0"/><line x1="1548.2" y1="1318.1" x2="1870.1" y2="1411.2" stroke="#262626" stroke-width="1.0"/><line x1="1363.0" y1="1596.8" x2="1548.2" y2="1437.5" stroke="#262626" stroke-width="1.0"/><line x1="1548.2" y1="1437.5" x2="1870.1" y2="1530.6" stroke="#262626" stroke-width="1.0"/><line x1="1363.0" y1="1716.3" x2="1548.2" y2="1557.0" stroke="#262626" stroke-width="1.0"/><line x1="1548.2" y1="1557.0" x2="1870.1" y2="1650.1" stroke="#262626" stroke-width="1.0"/><line x1="1363.0" y1="1835.7" x2="1548.2" y2="1676.4" stroke="#262626" stroke-width="1.0"/><line x1="1548.2" y1="1676.4" x2="1870.1" y2="1769.5" stroke="#262626" stroke-width="1.0"/><line x1="1363.0" y1="1955.1" x2="1548.2" y2="1795.8" stroke="#262626" stroke-width="1.0"/><line x1="1548.2" y1="1795.8" x2="1870.1" y2="1888.9" stroke="#262626" stroke-width="1.0"/></g>
<g transform="matrix(367.047 106.157 -211.174 181.642 1616.55 1921.60)">
<circle r="0.4" fill="#0008f5"/>
<path d="M-0.325 0.153C-0.336 0.135 -0.349 0.116 -0.357 0.093C-0.365 0.070 -0.373 0.041 -0.373 0.014C-0.373 -0.013 -0.366 -0.042 -0.356 -0.069C-0.347 -0.095 -0.331 -0.121 -0.317 -0.145C-0.302 -0.170 -0.288 -0.195 -0.269 -0.217C-0.251 -0.239 -0.228 -0.259 -0.206 -0.278C-0.184 -0.296 -0.160 -0.314 -0.136 -0.328C-0.112 -0.342 -0.086 -0.354 -0.061 -0.361C-0.037 -0.368 -0.012 -0.371 0.013 -0.369C0.037 -0.368 0.061 -0.362 0.086 -0.353C0.112 -0.344 0.141 -0.332 0.167 -0.316C0.192 -0.301 0.217 -0.280 0.239 -0.260C0.260 -0.240 0.279 -0.218 0.296 -0.195C0.313 -0.172 0.330 -0.148 0.342 -0.124C0.354 -0.099 0.361 -0.075 0.365 -0.049C0.369 -0.024 0.370 0.002 0.366 0.029C0.362 0.055 0.355 0.083 0.344 0.110C0.333 0.137 0.318 0.164 0.300 0.189C0.283 0.213 0.262 0.237 0.241 0.257C0.220 0.278 0.198 0.297 0.173 0.311C0.149 0.325 0.121 0.336 0.093 0.343C0.065 0.349 0.036 0.349 0.007 0.348C-0.021 0.347 -0.052 0.342 -0.079 0.334C-0.107 0.327 -0.131 0.315 -0.158 0.301C-0.184 0.287 -0.217 0.267 -0.239 0.250C-0.261 0.234 -0.277 0.218 -0.291 0.202C-0.306 0.186 -0.314 0.171 -0.325 0.153Z" fill="#00f0d0" transform="scale(1.012)"/>
<path d="M-0.325 0.153C-0.336 0.135 -0.349 0.116 -0.357 0.093C-0.365 0.070 -0.373 0.041 -0.373 0.014C-0.373 -0.013 -0.366 -0.042 -0.356 -0.069C-0.347 -0.095 -0.331 -0.121 -0.317 -0.145C-0.302 -0.170 -0.288 -0.195 -0.269 -0.217C-0.251 -0.239 -0.228 -0.259 -0.206 -0.278C-0.184 -0.296 -0.160 -0.314 -0.136 -0.328C-0.112 -0.342 -0.086 -0.354 -0.061 -0.361C-0.037 -0.368 -0.012 -0.371 0.013 -0.369C0.037 -0.368 0.061 -0.362 0.086 -0.353C0.112 -0.344 0.141 -0.332 0.167 -0.316C0.192 -0.301 0.217 -0.280 0.239 -0.260C0.260 -0.240 0.279 -0.218 0.296 -0.195C0.313 -0.172 0.330 -0.148 0.342 -0.124C0.354 -0.099 0.361 -0.075 0.365 -0.049C0.369 -0.024 0.370 0.002 0.366 0.029C0.362 0.055 0.355 0.083 0.344 0.110C0.333 0.137 0.318 0.164 0.300 0.189C0.283 0.213 0.262 0.237 0.241 0.257C0.220 0.278 0.198 0.297 0.173 0.311C0.149 0.325 0.121 0.336 0.093 0.343C0.065 0.349 0.036 0.349 0.007 0.348C-0.021 0.347 -0.052 0.342 -0.079 0.334C-0.107 0.327 -0.131 0.315 -0.158 0.301C-0.184 0.287 -0.217 0.267 -0.239 0.250C-0.261 0.234 -0.277 0.218 -0.291 0.202C-0.306 0.186 -0.314 0.171 -0.325 0.153Z" fill="#00f000" />
<path d="M-0.325 0.153C-0.336 0.135 -0.349 0.116 -0.357 0.093C-0.365 0.070 -0.373 0.041 -0.373 0.014C-0.373 -0.013 -0.366 -0.042 -0.356 -0.069C-0.347 -0.095 -0.331 -0.121 -0.317 -0.145C-0.302 -0.170 -0.288 -0.195 -0.269 -0.217C-0.251 -0.239 -0.228 -0.259 -0.206 -0.278C-0.184 -0.296 -0.160 -0.314 -0.136 -0.328C-0.112 -0.342 -0.086 -0.354 -0.061 -0.361C-0.037 -0.368 -0.012 -0.371 0.013 -0.369C0.037 -0.368 0.061 -0.362 0.086 -0.353C0.112 -0.344 0.141 -0.332 0.167 -0.316C0.192 -0.301 0.217 -0.280 0.239 -0.260C0.260 -0.240 0.279 -0.218 0.296 -0.195C0.313 -0.172 0.330 -0.148 0.342 -0.124C0.354 -0.099 0.361 -0.075 0.365 -0.049C0.369 -0.024 0.370 0.002 0.366 0.029C0.362 0.055 0.355 0.083 0.344 0.110C0.333 0.137 0.318 0.164 0.300 0.189C0.283 0.213 0.262 0.237 0.241 0.257C0.220 0.278 0.198 0.297 0.173 0.311C0.149 0.325 0.121 0.336 0.093 0.343C0.065 0.349 0.036 0.349 0.007 0.348C-0.021 0.347 -0.052 0.342 -0.079 0.334C-0.107 0.327 -0.131 0.315 -0.158 0.301C-0.184 0.287 -0.217 0.267 -0.239 0.250C-0.261 0.234 -0.277 0.218 -0.291 0.202C-0.306 0.186 -0.314 0.171 -0.325 0.153Z" fill="#3cff00" transform="scale(0.965)"/>
<path d="M-0.114 -0.174C-0.115 -0.178 -0.098 -0.193 -0.087 -0.200C-0.075 -0.206 -0.060 -0.210 -0.045 -0.214C-0.030 -0.217 -0.012 -0.221 0.004 -0.222C0.019 -0.224 0.037 -0.224 0.048 -0.223C0.059 -0.222 0.068 -0.219 0.069 -0.216C0.070 -0.213 0.062 -0.209 0.052 -0.206C0.043 -0.204 0.026 -0.204 0.011 -0.202C-0.004 -0.200 -0.023 -0.197 -0.039 -0.193C-0.054 -0.189 -0.067 -0.182 -0.080 -0.179C-0.092 -0.176 -0.113 -0.171 -0.114 -0.174Z" fill="#dcff00" />
<path d="M-0.034 0.191C-0.029 0.189 -0.010 0.191 0.004 0.188C0.018 0.186 0.034 0.182 0.047 0.178C0.061 0.174 0.078 0.165 0.087 0.162C0.097 0.159 0.104 0.157 0.106 0.159C0.107 0.162 0.104 0.171 0.096 0.177C0.088 0.182 0.071 0.189 0.056 0.193C0.041 0.197 0.020 0.200 0.007 0.202C-0.007 0.203 -0.017 0.201 -0.024 0.200C-0.031 0.198 -0.039 0.193 -0.034 0.191Z" fill="#dcff00" />
</g>
<g transform="matrix(367.047 106.157 -211.174 181.642 1616.55 1683.20)">
<circle r="0.4" fill="#0008f5"/>
<path d="M-0.336 0.159C-0.348 0.139 -0.358 0.121 -0.366 0.098C-0.374 0.075 -0.383 0.046 -0.384 0.020C-0.386 -0.006 -0.382 -0.033 -0.375 -0.058C-0.369 -0.084 -0.358 -0.109 -0.345 -0.134C-0.333 -0.160 -0.317 -0.186 -0.300 -0.210C-0.282 -0.233 -0.260 -0.255 -0.238 -0.274C-0.216 -0.293 -0.194 -0.311 -0.168 -0.324C-0.143 -0.338 -0.116 -0.348 -0.088 -0.356C-0.060 -0.364 -0.028 -0.371 0.001 -0.373C0.029 -0.375 0.057 -0.373 0.083 -0.367C0.110 -0.361 0.135 -0.351 0.160 -0.337C0.185 -0.324 0.212 -0.304 0.233 -0.287C0.255 -0.269 0.271 -0.251 0.288 -0.230C0.305 -0.209 0.324 -0.184 0.336 -0.160C0.348 -0.136 0.354 -0.111 0.359 -0.085C0.364 -0.060 0.368 -0.034 0.366 -0.006C0.364 0.022 0.357 0.055 0.348 0.083C0.338 0.111 0.326 0.137 0.310 0.163C0.295 0.189 0.275 0.217 0.255 0.239C0.235 0.261 0.213 0.280 0.190 0.296C0.166 0.312 0.141 0.327 0.113 0.335C0.086 0.344 0.052 0.348 0.022 0.349C-0.007 0.349 -0.037 0.346 -0.066 0.341C-0.095 0.335 -0.121 0.328 -0.150 0.316C-0.178 0.303 -0.212 0.285 -0.236 0.268C-0.261 0.251 -0.280 0.233 -0.297 0.214C-0.313 0.196 -0.325 0.178 -0.336 0.159Z" fill="#00f0d0" transform="scale(1.012)"/>
<path d="M-0.336 0.159C-0.348 0.139 -0.358 0.121 -0.366 0.098C-0.374 0.075 -0.383 0.046 -0.384 0.020C-0.386 -0.006 -0.382 -0.033 -0.375 -0.058C-0.369 -0.084 -0.358 -0.109 -0.345 -0.134C-0.333 -0.160 -0.317 -0.186 -0.300 -0.210C-0.282 -0.233 -0.260 -0.255 -0.238 -0.274C-0.216 -0.293 -0.194 -0.311 -0.168 -0.324C-0.143 -0.338 -0.116 -0.348 -0.088 -0.356C-0.060 -0.364 -0.028 -0.371 0.001 -0.373C0.029 -0.375 0.057 -0.373 0.083 -0.367C0.110 -0.361 0.135 -0.351 0.160 -0.337C0.185 -0.324 0.212 -0.304 0.233 -0.287C0.255 -0.269 0.271 -0.251 0.288 -0.230C0.305 -0.209 0.324 -0.184 0.336 -0.160C0.348 -0.136 0.354 -0.111 0.359 -0.085C0.364 -0.060 0.368 -0.034 0.366 -0.006C0.364 0.022 0.357 0.055 0.348 0.083C0.338 0.111 0.326 0.137 0.310 0.163C0.295 0.189 0.275 0.217 0.255 0.239C0.235 0.261 0.213 0.280 0.190 0.296C0.166 0.312 0.141 0.327 0.113 0.335C0.086 0.344 0.052 0.348 0.022 0.349C-0.007 0.349 -0.037 0.346 -0.066 0.341C-0.095 0.335 -0.121 0.328 -0.150 0.316C-0.178 0.303 -0.212 0.285 -0.236 0.268C-0.261 0.251 -0.280 0.233 -0.297 0.214C-0.313 0.196 -0.325 0.178 -0.336 0.159Z" fill="#00f000" />
<path d="M-0.336 0.159C-0.348 0.139 -0.358 0.121 -0.366 0.098C-0.374 0.075 -0.383 0.046 -0.384 0.020C-0.386 -0.006 -0.382 -0.033 -0.375 -0.058C-0.369 -0.084 -0.358 -0.109 -0.345 -0.134C-0.333 -0.160 -0.317 -0.186 -0.300 -0.210C-0.282 -0.233 -0.260 -0.255 -0.238 -0.274C-0.216 -0.293 -0.194 -0.311 -0.168 -0.324C-0.143 -0.338 -0.116 -0.348 -0.088 -0.356C-0.060 -0.364 -0.028 -0.371 0.001 -0.373C0.029 -0.375 0.057 -0.373 0.083 -0.367C0.110 -0.361 0.135 -0.351 0.160 -0.337C0.185 -0.324 0.212 -0.304 0.233 -0.287C0.255 -0.269 0.271 -0.251 0.288 -0.230C0.305 -0.209 0.324 -0.184 0.336 -0.160C0.348 -0.136 0.354 -0.111 0.359 -0.085C0.364 -0.060 0.368 -0.034 0.366 -0.006C0.364 0.022 0.357 0.055 0.348 0.083C0.338 0.111 0.326 0.137 0.310 0.163C0.295 0.189 0.275 0.217 0.255 0.239C0.235 0.261 0.213 0.280 0.190 0.296C0.166 0.312 0.141 0.327 0.113 0.335C0.086 0.344 0.052 0.348 0.022 0.349C-0.007 0.349 -0.037 0.346 -0.066 0.341C-0.095 0.335 -0.121 0.328 -0.150 0.316C-0.178 0.303 -0.212 0.285 -0.236 0.268C-0.261 0.251 -0.280 0.233 -0.297 0.214C-0.313 0.196 -0.325 0.178 -0.336 0.159Z" fill="#3cff00" transform="scale(0.975)"/>
<path d="M-0.165 0.207C-0.172 0.201 -0.159 0.175 -0.158 0.164C-0.157 0.153 -0.167 0.149 -0.161 0.141C-0.156 0.133 -0.129 0.127 -0.126 0.116C-0.123 0.106 -0.136 0.094 -0.144 0.077C-0.152 0.061 -0.168 0.037 -0.174 0.017C-0.180 -0.004 -0.178 -0.025 -0.182 -0.048C-0.185 -0.070 -0.191 -0.101 -0.193 -0.119C-0.196 -0.137 -0.198 -0.150 -0.195 -0.157C-0.193 -0.164 -0.185 -0.163 -0.178 -0.162C-0.172 -0.161 -0.168 -0.151 -0.159 -0.154C-0.150 -0.157 -0.139 -0.170 -0.124 -0.179C-0.109 -0.188 -0.085 -0.200 -0.066 -0.207C-0.048 -0.215 -0.029 -0.222 -0.012 -0.224C0.006 -0.226 0.022 -0.221 0.040 -0.219C0.058 -0.217 0.077 -0.213 0.094 -0.211C0.111 -0.210 0.130 -0.211 0.144 -0.211C0.157 -0.210 0.169 -0.213 0.175 -0.209C0.180 -0.204 0.176 -0.193 0.174 -0.184C0.172 -0.175 0.168 -0.166 0.160 -0.157C0.153 -0.147 0.135 -0.137 0.127 -0.128C0.120 -0.119 0.114 -0.115 0.117 -0.103C0.121 -0.090 0.142 -0.071 0.151 -0.053C0.159 -0.035 0.165 -0.014 0.169 0.005C0.174 0.023 0.173 0.041 0.176 0.059C0.179 0.077 0.184 0.096 0.187 0.112C0.190 0.128 0.195 0.150 0.193 0.157C0.192 0.165 0.184 0.157 0.178 0.156C0.171 0.155 0.167 0.147 0.155 0.150C0.142 0.153 0.121 0.168 0.104 0.174C0.088 0.181 0.071 0.185 0.054 0.189C0.036 0.192 0.017 0.194 -0.001 0.196C-0.020 0.198 -0.040 0.198 -0.059 0.200C-0.078 0.201 -0.098 0.202 -0.116 0.203C-0.134 0.204 -0.158 0.214 -0.165 0.207Z" fill="#dcff00" />
<path d="M-0.360 0.075C-0.366 0.065 -0.371 0.040 -0.373 0.023C-0.374 0.006 -0.371 -0.015 -0.368 -0.028C-0.364 -0.042 -0.356 -0.055 -0.350 -0.058C-0.344 -0.061 -0.337 -0.054 -0.332 -0.044C-0.328 -0.033 -0.326 -0.011 -0.324 0.005C-0.322 0.021 -0.319 0.040 -0.321 0.052C-0.323 0.065 -0.328 0.076 -0.335 0.080C-0.341 0.084 -0.354 0.084 -0.360 0.075Z" fill="#dcff00" />
<path d="M-0.066 -0.339C-0.069 -0.346 -0.067 -0.359 -0.058 -0.364C-0.049 -0.368 -0.027 -0.367 -0.010 -0.367C0.006 -0.366 0.029 -0.365 0.042 -0.362C0.054 -0.360 0.062 -0.357 0.065 -0.351C0.068 -0.346 0.069 -0.333 0.061 -0.329C0.052 -0.325 0.030 -0.327 0.013 -0.326C-0.004 -0.325 -0.027 -0.323 -0.040 -0.325C-0.054 -0.327 -0.063 -0.333 -0.066 -0.339Z" fill="#dcff00" />
<path d="M0.336 0.046C0.331 0.036 0.328 0.018 0.326 0.002C0.324 -0.013 0.324 -0.033 0.327 -0.047C0.330 -0.061 0.336 -0.076 0.342 -0.080C0.348 -0.085 0.358 -0.083 0.364 -0.073C0.370 -0.064 0.378 -0.041 0.380 -0.024C0.382 -0.007 0.379 0.014 0.375 0.028C0.372 0.041 0.364 0.055 0.358 0.057C0.351 0.060 0.341 0.055 0.336 0.046Z" fill="#dcff00" />
<path d="M-0.055 0.359C-0.060 0.352 -0.061 0.335 -0.053 0.329C-0.045 0.322 -0.024 0.322 -0.008 0.322C0.008 0.321 0.031 0.323 0.044 0.326C0.057 0.329 0.066 0.335 0.070 0.341C0.074 0.347 0.077 0.356 0.069 0.361C0.061 0.365 0.039 0.366 0.024 0.367C0.008 0.369 -0.011 0.372 -0.024 0.370C-0.037 0.369 -0.050 0.366 -0.055 0.359Z" fill="#dcff00" />
<path d="M-0.084 0.092C-0.092 0.079 -0.097 0.047 -0.101 0.023C-0.105 -0.000 -0.108 -0.029 -0.109 -0.050C-0.110 -0.072 -0.110 -0.093 -0.106 -0.106C-0.103 -0.118 -0.100 -0.123 -0.088 -0.126C-0.077 -0.129 -0.056 -0.128 -0.039 -0.125C-0.021 -0.122 -0.001 -0.114 0.016 -0.108C0.033 -0.101 0.051 -0.095 0.063 -0.086C0.075 -0.077 0.081 -0.069 0.086 -0.055C0.091 -0.041 0.091 -0.019 0.093 -0.000C0.094 0.018 0.094 0.040 0.096 0.057C0.097 0.074 0.104 0.091 0.102 0.102C0.100 0.113 0.094 0.120 0.084 0.122C0.074 0.125 0.058 0.120 0.042 0.117C0.026 0.114 0.005 0.106 -0.011 0.103C-0.026 0.100 -0.041 0.100 -0.053 0.098C-0.065 0.096 -0.076 0.104 -0.084 0.092Z" fill="#3cff00" />
</g>
<g transform="matrix(367.047 106.157 -211.174 181.642 1616.55 1444.80)">
<circle r="0.4" fill="#0008f5"/>
<circle r="0.386" fill="#00c8ff"/>
<circle r="0.382" fill="#00f0d0"/>
<circle r="0.378" fill="#00f000"/>
<circle r="0.368" fill="#3cff00"/>
<g clip-path="url(#clip2)">
<path d="M-0.346 0.130C-0.352 0.117 -0.363 0.093 -0.368 0.074C-0.373 0.056 -0.376 0.038 -0.375 0.019C-0.374 0.001 -0.367 -0.018 -0.363 -0.037C-0.358 -0.055 -0.354 -0.076 -0.348 -0.089C-0.342 -0.101 -0.334 -0.109 -0.327 -0.111C-0.319 -0.113 -0.306 -0.107 -0.301 -0.101C-0.296 -0.095 -0.297 -0.084 -0.296 -0.075C-0.295 -0.066 -0.299 -0.054 -0.294 -0.046C-0.290 -0.039 -0.280 -0.031 -0.270 -0.031C-0.261 -0.030 -0.247 -0.036 -0.239 -0.044C-0.230 -0.052 -0.223 -0.067 -0.220 -0.080C-0.216 -0.092 -0.216 -0.105 -0.218 -0.120C-0.220 -0.135 -0.229 -0.156 -0.232 -0.170C-0.236 -0.185 -0.240 -0.199 -0.238 -0.206C-0.236 -0.213 -0.230 -0.214 -0.221 -0.211C-0.212 -0.208 -0.196 -0.194 -0.184 -0.188C-0.171 -0.183 -0.159 -0.177 -0.147 -0.176C-0.135 -0.174 -0.121 -0.177 -0.111 -0.182C-0.100 -0.186 -0.090 -0.193 -0.083 -0.202C-0.076 -0.211 -0.072 -0.223 -0.068 -0.236C-0.064 -0.249 -0.060 -0.268 -0.059 -0.280C-0.058 -0.292 -0.057 -0.302 -0.061 -0.308C-0.064 -0.315 -0.074 -0.319 -0.082 -0.320C-0.090 -0.321 -0.101 -0.314 -0.109 -0.315C-0.117 -0.316 -0.131 -0.320 -0.130 -0.327C-0.130 -0.334 -0.119 -0.349 -0.103 -0.357C-0.088 -0.365 -0.062 -0.371 -0.039 -0.374C-0.017 -0.378 0.009 -0.380 0.033 -0.377C0.057 -0.374 0.084 -0.366 0.103 -0.359C0.122 -0.351 0.140 -0.345 0.146 -0.335C0.152 -0.324 0.140 -0.307 0.139 -0.296C0.138 -0.285 0.136 -0.276 0.141 -0.268C0.145 -0.259 0.158 -0.248 0.169 -0.245C0.180 -0.241 0.196 -0.249 0.207 -0.247C0.218 -0.245 0.230 -0.241 0.234 -0.234C0.238 -0.226 0.234 -0.212 0.232 -0.203C0.230 -0.194 0.222 -0.187 0.222 -0.178C0.222 -0.168 0.225 -0.153 0.232 -0.144C0.238 -0.135 0.249 -0.123 0.260 -0.121C0.271 -0.119 0.286 -0.127 0.297 -0.133C0.308 -0.138 0.316 -0.155 0.325 -0.154C0.333 -0.152 0.341 -0.139 0.348 -0.123C0.354 -0.106 0.360 -0.079 0.363 -0.053C0.366 -0.028 0.370 0.008 0.368 0.032C0.366 0.056 0.359 0.078 0.352 0.090C0.345 0.102 0.335 0.105 0.326 0.105C0.317 0.105 0.305 0.099 0.298 0.091C0.292 0.084 0.292 0.069 0.285 0.060C0.278 0.051 0.267 0.040 0.257 0.037C0.247 0.034 0.233 0.035 0.225 0.041C0.217 0.047 0.210 0.060 0.210 0.074C0.209 0.089 0.215 0.108 0.220 0.127C0.225 0.145 0.236 0.171 0.239 0.185C0.241 0.199 0.241 0.210 0.235 0.212C0.228 0.213 0.214 0.201 0.201 0.196C0.188 0.192 0.173 0.183 0.158 0.182C0.144 0.181 0.129 0.186 0.115 0.192C0.101 0.199 0.082 0.209 0.073 0.222C0.063 0.235 0.059 0.256 0.056 0.270C0.054 0.285 0.053 0.301 0.058 0.308C0.063 0.315 0.076 0.312 0.085 0.312C0.095 0.313 0.107 0.306 0.114 0.310C0.121 0.314 0.133 0.329 0.129 0.336C0.125 0.343 0.108 0.349 0.090 0.354C0.071 0.358 0.040 0.362 0.016 0.362C-0.009 0.362 -0.036 0.359 -0.058 0.355C-0.079 0.351 -0.100 0.344 -0.112 0.338C-0.124 0.332 -0.129 0.330 -0.132 0.320C-0.136 0.310 -0.130 0.288 -0.133 0.276C-0.135 0.265 -0.139 0.256 -0.148 0.251C-0.156 0.245 -0.175 0.245 -0.186 0.243C-0.198 0.242 -0.209 0.245 -0.217 0.242C-0.225 0.238 -0.232 0.230 -0.233 0.222C-0.235 0.213 -0.228 0.199 -0.227 0.189C-0.227 0.179 -0.225 0.169 -0.229 0.161C-0.234 0.153 -0.246 0.144 -0.255 0.141C-0.264 0.138 -0.274 0.141 -0.284 0.143C-0.293 0.145 -0.304 0.153 -0.312 0.154C-0.320 0.156 -0.325 0.155 -0.331 0.151C-0.337 0.147 -0.339 0.143 -0.346 0.130Z" fill="#dcff00" />
<path d="M-0.057 0.005C-0.084 -0.002 -0.158 -0.020 -0.209 -0.027C-0.260 -0.034 -0.334 -0.043 -0.363 -0.037C-0.392 -0.030 -0.382 -0.000 -0.383 0.014C-0.383 0.029 -0.386 0.046 -0.367 0.049C-0.349 0.053 -0.305 0.037 -0.273 0.034C-0.241 0.031 -0.212 0.035 -0.175 0.032C-0.138 0.028 -0.072 0.018 -0.052 0.014C-0.033 0.009 -0.031 0.012 -0.057 0.005Z" fill="#ffe600" />
<path d="M-0.010 -0.063C-0.017 -0.087 -0.021 -0.157 -0.028 -0.205C-0.035 -0.253 -0.062 -0.326 -0.052 -0.353C-0.041 -0.380 0.021 -0.391 0.034 -0.368C0.046 -0.344 0.025 -0.259 0.022 -0.209C0.018 -0.158 0.019 -0.089 0.013 -0.065C0.008 -0.041 -0.004 -0.040 -0.010 -0.063Z" fill="#ffe600" />
<path d="M0.051 -0.009C0.079 -0.015 0.177 -0.028 0.230 -0.035C0.283 -0.043 0.342 -0.068 0.367 -0.055C0.391 -0.043 0.398 0.019 0.376 0.037C0.353 0.055 0.284 0.057 0.231 0.052C0.178 0.046 0.088 0.014 0.058 0.004C0.028 -0.006 0.022 -0.002 0.051 -0.009Z" fill="#ffe600" />
<path d="M0.001 0.059C-0.005 0.083 -0.014 0.162 -0.022 0.212C-0.029 0.263 -0.054 0.336 -0.044 0.362C-0.033 0.388 0.031 0.391 0.042 0.366C0.054 0.341 0.033 0.263 0.028 0.213C0.023 0.163 0.017 0.094 0.013 0.068C0.008 0.043 0.007 0.035 0.001 0.059Z" fill="#ffe600" />
<path d="M-0.072 0.005C-0.090 0.001 -0.140 -0.006 -0.174 -0.008C-0.207 -0.011 -0.241 -0.011 -0.273 -0.010C-0.306 -0.009 -0.353 -0.010 -0.368 -0.004C-0.384 0.003 -0.385 0.025 -0.367 0.029C-0.348 0.033 -0.291 0.021 -0.256 0.020C-0.221 0.018 -0.188 0.022 -0.157 0.021C-0.125 0.020 -0.082 0.015 -0.068 0.012C-0.054 0.009 -0.055 0.008 -0.072 0.005Z" fill="#ffb800" />
<path d="M-0.005 -0.074C-0.007 -0.096 -0.008 -0.153 -0.012 -0.199C-0.017 -0.246 -0.037 -0.327 -0.033 -0.354C-0.028 -0.381 0.009 -0.381 0.017 -0.363C0.024 -0.344 0.014 -0.283 0.012 -0.243C0.010 -0.202 0.009 -0.151 0.007 -0.122C0.006 -0.093 0.004 -0.076 0.002 -0.068C-0.000 -0.060 -0.002 -0.053 -0.005 -0.074Z" fill="#ffb800" />
<path d="M0.068 -0.009C0.088 -0.011 0.146 -0.010 0.193 -0.014C0.240 -0.018 0.322 -0.036 0.351 -0.032C0.380 -0.027 0.389 0.004 0.367 0.013C0.344 0.022 0.263 0.025 0.214 0.023C0.165 0.020 0.097 0.005 0.073 0.000C0.049 -0.005 0.048 -0.006 0.068 -0.009Z" fill="#ffb800" />
<path d="M0.000 0.075C-0.003 0.096 -0.008 0.164 -0.012 0.212C-0.016 0.259 -0.031 0.336 -0.025 0.361C-0.019 0.386 0.019 0.385 0.025 0.362C0.031 0.338 0.016 0.268 0.013 0.222C0.010 0.175 0.010 0.107 0.007 0.082C0.005 0.058 0.003 0.053 0.000 0.075Z" fill="#ffb800" />
<path d="M-0.093 0.006C-0.108 0.005 -0.151 0.002 -0.180 0.001C-0.208 -0.000 -0.237 -0.000 -0.265 0.000C-0.293 0.001 -0.334 0.000 -0.347 0.003C-0.361 0.006 -0.362 0.016 -0.346 0.018C-0.330 0.020 -0.281 0.014 -0.251 0.013C-0.221 0.013 -0.192 0.014 -0.165 0.014C-0.138 0.013 -0.101 0.011 -0.089 0.009C-0.077 0.008 -0.077 0.008 -0.093 0.006Z" fill="#ff9800" />
<path d="M-0.002 -0.093C-0.003 -0.111 -0.004 -0.160 -0.006 -0.200C-0.009 -0.240 -0.019 -0.310 -0.017 -0.333C-0.015 -0.356 0.002 -0.356 0.005 -0.340C0.009 -0.324 0.004 -0.271 0.004 -0.237C0.004 -0.202 0.004 -0.159 0.003 -0.134C0.003 -0.109 0.002 -0.094 0.001 -0.087C0.000 -0.080 -0.001 -0.074 -0.002 -0.093Z" fill="#ff9800" />
<path d="M0.088 -0.005C0.105 -0.006 0.155 -0.006 0.196 -0.008C0.236 -0.010 0.306 -0.018 0.331 -0.017C0.356 -0.015 0.364 -0.001 0.345 0.003C0.325 0.008 0.256 0.009 0.214 0.008C0.172 0.008 0.113 0.001 0.092 -0.001C0.071 -0.003 0.071 -0.004 0.088 -0.005Z" fill="#ff9800" />
<path d="M0.001 0.095C-0.000 0.113 -0.003 0.172 -0.005 0.213C-0.007 0.254 -0.014 0.320 -0.011 0.341C-0.008 0.363 0.009 0.361 0.011 0.341C0.014 0.321 0.008 0.261 0.007 0.221C0.006 0.181 0.006 0.122 0.005 0.101C0.004 0.080 0.003 0.076 0.001 0.095Z" fill="#ff9800" />
</g>
</g>
<polygon points="1593.5,1445.9 1595.8,1440.4 1602.8,1436.1 1613.8,1433.9 1624.8,1434.4 1633.8,1437.2 1639.3,1441.9 1640.0,1447.4 1639.6,1451.4 1633.8,1454.4 1624.8,1456.7 1617.3,1457.6 1608.8,1455.2 1597.3,1451.2" fill="#a8a8a8"/>
<path d="M1597.3 1451.6 L1617.3 1458.0" stroke="#2e2e2e" stroke-width="1.7" fill="none"/>
<path d="M1638.0 1440.9 L1638.0 1451.4" stroke="#3a3a3a" stroke-width="1.2" fill="none"/>
<ellipse cx="1617.5" cy="1444.6" rx="10" ry="5.3" fill="#ff0000"/>
<g transform="matrix(367.047 106.157 -211.174 181.642 1616.55 1206.40)">
<circle r="0.4" fill="#00e400"/>
<circle r="0.39" fill="#30f800"/>
<circle r="0.383" fill="#78ff00"/>
<circle r="0.376" fill="#b4ff00"/>
<circle r="0.369" fill="#dcff00"/>
<g clip-path="url(#clip1)">
<path d="M-0.360 0.084C-0.367 0.070 -0.376 0.053 -0.380 0.037C-0.383 0.021 -0.382 0.004 -0.379 -0.013C-0.375 -0.030 -0.369 -0.050 -0.361 -0.067C-0.352 -0.084 -0.341 -0.101 -0.329 -0.115C-0.317 -0.128 -0.303 -0.140 -0.289 -0.148C-0.274 -0.155 -0.256 -0.159 -0.242 -0.160C-0.227 -0.161 -0.216 -0.159 -0.203 -0.153C-0.190 -0.148 -0.172 -0.129 -0.163 -0.127C-0.155 -0.125 -0.158 -0.143 -0.153 -0.143C-0.147 -0.143 -0.136 -0.136 -0.129 -0.127C-0.122 -0.118 -0.115 -0.102 -0.111 -0.088C-0.107 -0.074 -0.105 -0.056 -0.105 -0.043C-0.105 -0.030 -0.106 -0.021 -0.111 -0.011C-0.116 -0.000 -0.126 0.011 -0.134 0.018C-0.142 0.024 -0.154 0.020 -0.158 0.027C-0.163 0.033 -0.162 0.047 -0.160 0.057C-0.159 0.068 -0.150 0.079 -0.147 0.089C-0.145 0.099 -0.144 0.108 -0.146 0.117C-0.148 0.127 -0.151 0.139 -0.159 0.145C-0.168 0.150 -0.181 0.150 -0.195 0.151C-0.210 0.152 -0.228 0.152 -0.245 0.150C-0.262 0.148 -0.283 0.142 -0.297 0.136C-0.312 0.131 -0.323 0.126 -0.333 0.117C-0.343 0.109 -0.352 0.097 -0.360 0.084Z" fill="#ffe600" />
<path d="M-0.149 0.154C-0.143 0.143 -0.135 0.134 -0.132 0.124C-0.129 0.114 -0.135 0.100 -0.130 0.093C-0.125 0.087 -0.112 0.084 -0.101 0.084C-0.090 0.083 -0.077 0.085 -0.063 0.089C-0.050 0.093 -0.033 0.101 -0.020 0.108C-0.007 0.116 0.002 0.126 0.014 0.133C0.026 0.140 0.038 0.145 0.049 0.152C0.060 0.159 0.073 0.174 0.080 0.175C0.088 0.176 0.091 0.165 0.094 0.157C0.098 0.149 0.096 0.129 0.102 0.126C0.107 0.124 0.120 0.136 0.129 0.145C0.139 0.153 0.153 0.164 0.160 0.176C0.167 0.189 0.170 0.204 0.170 0.219C0.169 0.234 0.163 0.250 0.157 0.266C0.151 0.281 0.145 0.299 0.135 0.313C0.125 0.327 0.111 0.340 0.097 0.349C0.082 0.358 0.066 0.365 0.048 0.368C0.030 0.371 0.009 0.370 -0.011 0.367C-0.031 0.365 -0.051 0.360 -0.069 0.352C-0.088 0.344 -0.107 0.332 -0.123 0.319C-0.138 0.306 -0.152 0.289 -0.162 0.273C-0.171 0.257 -0.176 0.238 -0.178 0.224C-0.179 0.209 -0.175 0.197 -0.170 0.185C-0.166 0.174 -0.156 0.164 -0.149 0.154Z" fill="#ffe600" />
<path d="M-0.146 -0.157C-0.151 -0.169 -0.150 -0.187 -0.148 -0.204C-0.147 -0.221 -0.143 -0.242 -0.136 -0.260C-0.130 -0.278 -0.121 -0.294 -0.110 -0.309C-0.099 -0.324 -0.086 -0.341 -0.071 -0.352C-0.056 -0.363 -0.038 -0.371 -0.020 -0.376C-0.003 -0.380 0.015 -0.380 0.033 -0.377C0.051 -0.374 0.070 -0.369 0.087 -0.360C0.105 -0.351 0.123 -0.337 0.135 -0.324C0.148 -0.310 0.158 -0.293 0.165 -0.277C0.171 -0.260 0.175 -0.240 0.175 -0.224C0.176 -0.208 0.170 -0.192 0.166 -0.180C0.163 -0.168 0.156 -0.166 0.153 -0.153C0.149 -0.139 0.149 -0.109 0.144 -0.099C0.140 -0.088 0.136 -0.091 0.125 -0.090C0.114 -0.088 0.095 -0.089 0.079 -0.092C0.063 -0.096 0.044 -0.103 0.031 -0.112C0.017 -0.120 0.006 -0.130 -0.003 -0.141C-0.011 -0.153 -0.013 -0.169 -0.020 -0.180C-0.027 -0.191 -0.036 -0.203 -0.044 -0.205C-0.053 -0.207 -0.059 -0.200 -0.068 -0.194C-0.078 -0.187 -0.093 -0.175 -0.101 -0.165C-0.109 -0.154 -0.108 -0.131 -0.116 -0.130C-0.123 -0.129 -0.140 -0.144 -0.146 -0.157Z" fill="#ffe600" />
<path d="M0.157 -0.077C0.156 -0.093 0.150 -0.134 0.157 -0.145C0.164 -0.156 0.181 -0.145 0.197 -0.144C0.213 -0.142 0.233 -0.139 0.251 -0.136C0.269 -0.133 0.291 -0.130 0.307 -0.124C0.324 -0.118 0.339 -0.111 0.349 -0.099C0.359 -0.087 0.365 -0.069 0.369 -0.052C0.372 -0.035 0.373 -0.017 0.370 0.001C0.367 0.019 0.360 0.038 0.352 0.056C0.344 0.073 0.334 0.093 0.322 0.107C0.311 0.121 0.296 0.133 0.282 0.140C0.268 0.147 0.252 0.149 0.239 0.150C0.225 0.151 0.213 0.149 0.202 0.147C0.192 0.144 0.183 0.134 0.176 0.136C0.168 0.137 0.165 0.155 0.157 0.153C0.148 0.152 0.132 0.136 0.123 0.129C0.113 0.122 0.103 0.124 0.099 0.111C0.094 0.099 0.095 0.072 0.096 0.056C0.096 0.041 0.096 0.029 0.102 0.016C0.108 0.003 0.120 -0.009 0.130 -0.020C0.140 -0.031 0.158 -0.041 0.162 -0.050C0.167 -0.060 0.158 -0.061 0.157 -0.077Z" fill="#ffe600" />
<path d="M-0.163 0.142C-0.166 0.134 -0.152 0.122 -0.150 0.110C-0.148 0.097 -0.156 0.072 -0.152 0.067C-0.148 0.063 -0.132 0.072 -0.127 0.082C-0.122 0.091 -0.121 0.110 -0.122 0.123C-0.124 0.136 -0.129 0.157 -0.136 0.160C-0.142 0.163 -0.161 0.150 -0.163 0.142Z" fill="#ffe600" />
<path d="M0.140 -0.081C0.135 -0.091 0.142 -0.105 0.143 -0.118C0.145 -0.130 0.144 -0.151 0.149 -0.155C0.154 -0.159 0.169 -0.150 0.173 -0.139C0.176 -0.129 0.172 -0.108 0.171 -0.095C0.170 -0.081 0.173 -0.061 0.168 -0.058C0.162 -0.056 0.144 -0.071 0.140 -0.081Z" fill="#ffe600" />
</g>
</g>
<polygon points="1593.5,1207.5 1595.8,1202.0 1602.8,1197.7 1613.8,1195.5 1624.8,1196.0 1633.8,1198.8 1639.3,1203.5 1640.0,1209.0 1639.6,1213.0 1633.8,1216.0 1624.8,1218.3 1617.3,1219.2 1608.8,1216.8 1597.3,1212.8" fill="#a8a8a8"/>
<path d="M1597.3 1213.2 L1617.3 1219.6" stroke="#2e2e2e" stroke-width="1.7" fill="none"/>
<path d="M1638.0 1202.5 L1638.0 1213.0" stroke="#3a3a3a" stroke-width="1.2" fill="none"/>
<ellipse cx="1617.5" cy="1206.2" rx="10" ry="5.3" fill="#ff0000"/>
<text x="1348.5" y="1255.4" font-size="26.8" text-anchor="middle" font-family="'Liberation Serif', serif" >0</text>
<text x="1332.2" y="1376.9" font-size="26.8" text-anchor="middle" font-family="'Liberation Serif', serif" >0.05</text>
<text x="1333.4" y="1498.9" font-size="26.8" text-anchor="middle" font-family="'Liberation Serif', serif" >0.1</text>
<text x="1332.2" y="1603.0" font-size="26.8" text-anchor="middle" font-family="'Liberation Serif', serif" >0.15</text>
<text x="1334.2" y="1738.2" font-size="26.8" text-anchor="middle" font-family="'Liberation Serif', serif" >0.2</text>
<text x="1333.3" y="1851.3" font-size="26.8" text-anchor="middle" font-family="'Liberation Serif', serif" >0.25</text>
<text x="1341.6" y="1963.7" font-size="26.8" text-anchor="middle" font-family="'Liberation Serif', serif" >0.3</text>
<text x="1287.3" y="1603.0" font-size="26.8" text-anchor="middle" font-family="'Liberation Serif', serif" >Z</text>
<text x="1348.6" y="2035.6" font-size="26.8" text-anchor="middle" font-family="'Liberation Serif', serif" >-0.4</text>
<text x="1424.6" y="2059.1" font-size="26.8" text-anchor="middle" font-family="'Liberation Serif', serif" >-0.2</text>
<text x="1516.6" y="2082.3" font-size="26.8" text-anchor="middle" font-family="'Liberation Serif', serif" >0</text>
<text x="1585.5" y="2104.5" font-size="26.8" text-anchor="middle" font-family="'Liberation Serif', serif" >0.2</text>
<text x="1653.2" y="2124.1" font-size="26.8" text-anchor="middle" font-family="'Liberation Serif', serif" >0.4</text>
<text x="1495.5" y="2113.8" font-size="26.8" text-anchor="middle" font-family="'Liberation Serif', serif" >X</text>
<text x="1718.0" y="2113.8" font-size="26.8" text-anchor="middle" font-family="'Liberation Serif', serif" >0.4</text>
<text x="1749.8" y="2076.3" font-size="26.8" text-anchor="middle" font-family="'Liberation Serif', serif" >0.2</text>
<text x="1797.7" y="2035.6" font-size="26.8" text-anchor="middle" font-family="'Liberation Serif', serif" >0</text>
<text x="1831.6" y="1988.0" font-size="26.8" text-anchor="middle" font-family="'Liberation Serif', serif" >-0.2</text>
<text x="1875.2" y="1946.6" font-size="26.8" text-anchor="middle" font-family="'Liberation Serif', serif" >-0.4</text>
<text x="1847.0" y="2057.3" font-size="26.8" text-anchor="middle" font-family="'Liberation Serif', serif" >Y</text>
<text x="1361.2" y="1192.3" font-size="74" text-anchor="middle" font-family="'Liberation Serif', serif" >(e)</text>
</svg>
</body></html>
